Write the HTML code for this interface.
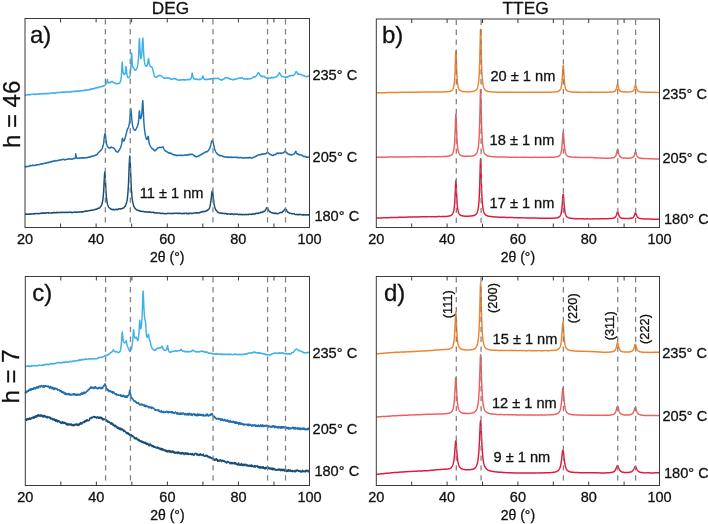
<!DOCTYPE html>
<html><head><meta charset="utf-8"><style>
html,body{margin:0;padding:0;background:#fff;width:708px;height:524px;overflow:hidden}
text{font-family:"Liberation Sans", sans-serif;fill:#111;stroke:#111;stroke-width:0.3}
</style></head><body>
<svg width="708" height="524" viewBox="0 0 708 524" style="display:block;will-change:transform"><rect width="708" height="524" fill="#fff"/><path d="M25.00,94.78 L25.25,95.08 L25.50,95.17 L25.75,94.90 L26.00,94.90 L26.25,94.87 L26.50,94.96 L26.75,95.08 L27.00,94.71 L27.25,94.48 L27.50,94.84 L27.75,94.77 L28.00,94.92 L28.25,94.53 L28.50,94.59 L28.75,94.78 L29.00,94.57 L29.25,94.89 L29.50,95.01 L29.75,94.54 L30.00,94.29 L30.25,94.46 L30.50,94.78 L30.75,94.60 L31.00,94.40 L31.25,94.41 L31.50,94.17 L31.75,94.16 L32.00,94.27 L32.25,94.35 L32.50,94.23 L32.75,94.16 L33.00,94.10 L33.25,94.21 L33.50,94.15 L33.75,93.96 L34.00,94.34 L34.25,94.35 L34.50,94.40 L34.75,94.14 L35.00,94.48 L35.25,94.57 L35.50,94.16 L35.75,94.07 L36.00,94.25 L36.25,94.33 L36.50,94.49 L36.75,94.25 L37.00,94.37 L37.25,94.33 L37.50,94.07 L37.75,94.11 L38.00,94.30 L38.25,94.36 L38.50,94.18 L38.75,94.13 L39.00,93.76 L39.25,93.69 L39.50,93.98 L39.75,93.89 L40.00,93.69 L40.25,93.81 L40.50,93.95 L40.75,94.00 L41.00,93.83 L41.25,93.78 L41.50,93.78 L41.75,93.94 L42.00,93.86 L42.25,93.73 L42.50,93.72 L42.75,93.43 L43.00,93.28 L43.25,93.60 L43.50,93.92 L43.75,93.83 L44.00,93.66 L44.25,93.44 L44.50,93.52 L44.75,93.84 L45.00,93.86 L45.25,93.73 L45.50,93.84 L45.75,93.52 L46.00,93.52 L46.25,93.77 L46.50,93.67 L46.75,93.54 L47.00,93.35 L47.25,93.42 L47.50,93.69 L47.75,93.24 L48.00,93.48 L48.25,93.62 L48.50,93.71 L48.75,93.67 L49.00,93.68 L49.25,93.50 L49.50,93.43 L49.75,93.31 L50.00,93.02 L50.25,93.35 L50.50,93.33 L50.75,93.09 L51.00,93.15 L51.25,93.16 L51.50,93.08 L51.75,93.02 L52.00,93.10 L52.25,93.18 L52.50,93.21 L52.75,93.13 L53.00,92.82 L53.25,92.77 L53.50,92.71 L53.75,92.92 L54.00,93.18 L54.25,93.27 L54.50,93.30 L54.75,93.32 L55.00,92.98 L55.25,93.16 L55.50,93.14 L55.75,92.77 L56.00,92.53 L56.25,92.40 L56.50,92.77 L56.75,92.65 L57.00,92.49 L57.25,92.71 L57.50,92.65 L57.75,92.44 L58.00,92.38 L58.25,92.57 L58.50,92.43 L58.75,92.42 L59.00,92.67 L59.25,92.62 L59.50,92.52 L59.75,92.54 L60.00,92.28 L60.25,92.35 L60.50,92.40 L60.75,92.27 L61.00,92.15 L61.25,92.56 L61.50,92.52 L61.75,92.31 L62.00,92.43 L62.25,92.61 L62.50,92.21 L62.75,92.00 L63.00,91.96 L63.25,92.27 L63.50,92.09 L63.75,92.31 L64.00,92.40 L64.25,92.35 L64.50,92.12 L64.75,92.45 L65.00,92.50 L65.25,92.34 L65.50,92.08 L65.75,92.19 L66.00,92.09 L66.25,92.13 L66.50,91.99 L66.75,92.10 L67.00,91.80 L67.25,91.78 L67.50,92.17 L67.75,92.29 L68.00,92.00 L68.25,92.18 L68.50,91.93 L68.75,92.17 L69.00,92.16 L69.25,91.95 L69.50,91.74 L69.75,91.48 L70.00,91.85 L70.25,91.53 L70.50,91.83 L70.75,92.05 L71.00,91.91 L71.25,91.60 L71.50,91.84 L71.75,92.02 L72.00,91.94 L72.25,91.77 L72.50,91.59 L72.75,91.47 L73.00,91.32 L73.25,91.51 L73.50,91.45 L73.75,91.27 L74.00,91.11 L74.25,91.35 L74.50,91.24 L74.75,91.30 L75.00,91.21 L75.25,91.48 L75.50,91.62 L75.75,91.15 L76.00,91.01 L76.25,91.01 L76.50,91.39 L76.75,91.44 L77.00,91.19 L77.25,90.98 L77.50,91.13 L77.75,91.30 L78.00,91.42 L78.25,91.12 L78.50,91.28 L78.75,91.22 L79.00,91.06 L79.25,91.27 L79.50,90.91 L79.75,91.01 L80.00,90.66 L80.25,90.52 L80.50,90.88 L80.75,90.63 L81.00,90.82 L81.25,90.80 L81.50,90.92 L81.75,90.69 L82.00,90.54 L82.25,90.42 L82.50,90.69 L82.75,90.65 L83.00,90.82 L83.25,90.86 L83.50,90.40 L83.75,90.41 L84.00,90.13 L84.25,89.94 L84.50,89.84 L84.75,90.26 L85.00,90.40 L85.25,90.48 L85.50,90.21 L85.75,90.22 L86.00,90.31 L86.25,90.09 L86.50,90.08 L86.75,89.85 L87.00,89.63 L87.25,89.62 L87.50,89.97 L87.75,89.93 L88.00,90.10 L88.25,89.89 L88.50,89.66 L88.75,89.83 L89.00,89.92 L89.25,89.46 L89.50,89.60 L89.75,89.31 L90.00,89.15 L90.25,89.52 L90.50,89.17 L90.75,89.09 L91.00,89.47 L91.25,89.30 L91.50,89.00 L91.75,88.86 L92.00,88.80 L92.25,89.04 L92.50,88.75 L92.75,89.06 L93.00,88.86 L93.25,89.08 L93.50,89.13 L93.75,88.75 L94.00,88.50 L94.25,88.47 L94.50,88.20 L94.75,88.36 L95.00,88.04 L95.25,87.82 L95.50,88.26 L95.75,88.03 L96.00,88.06 L96.25,87.96 L96.50,87.78 L96.75,87.51 L97.00,87.85 L97.25,88.02 L97.50,88.06 L97.75,87.54 L98.00,87.30 L98.25,87.39 L98.50,87.62 L98.75,87.43 L99.00,87.40 L99.25,87.33 L99.50,87.02 L99.75,87.00 L100.00,86.82 L100.25,86.67 L100.50,86.46 L100.75,86.44 L101.00,86.82 L101.25,86.66 L101.50,86.66 L101.75,86.63 L102.00,86.75 L102.25,86.45 L102.50,86.21 L102.75,86.06 L103.00,85.94 L103.25,86.16 L103.50,86.25 L103.75,85.89 L104.00,85.68 L104.25,85.64 L104.50,85.59 L104.75,85.50 L105.00,85.17 L105.25,84.78 L105.50,84.60 L105.75,84.28 L106.00,84.25 L106.25,83.71 L106.50,83.10 L106.75,82.57 L107.00,81.19 L107.25,79.78 L107.50,79.36 L107.75,80.84 L108.00,81.65 L108.25,82.30 L108.50,82.77 L108.75,82.54 L109.00,82.91 L109.25,82.58 L109.50,82.72 L109.75,82.84 L110.00,82.73 L110.25,82.29 L110.50,81.86 L110.75,81.83 L111.00,81.99 L111.25,81.65 L111.50,81.80 L111.75,81.42 L112.00,81.70 L112.25,81.35 L112.50,81.41 L112.75,81.87 L113.00,82.14 L113.25,82.43 L113.50,82.65 L113.75,82.80 L114.00,82.93 L114.25,82.78 L114.50,82.92 L114.75,82.88 L115.00,83.21 L115.25,83.37 L115.50,83.23 L115.75,83.07 L116.00,83.56 L116.25,83.73 L116.50,83.68 L116.75,83.67 L117.00,83.86 L117.25,83.73 L117.50,83.63 L117.75,83.55 L118.00,83.46 L118.25,83.25 L118.50,83.51 L118.75,83.46 L119.00,83.48 L119.25,83.13 L119.50,83.04 L119.75,82.74 L120.00,82.31 L120.25,81.81 L120.50,81.41 L120.75,80.30 L121.00,78.84 L121.25,76.92 L121.50,73.75 L121.75,69.14 L122.00,64.17 L122.25,62.02 L122.50,64.93 L122.75,68.79 L123.00,71.58 L123.25,73.16 L123.50,73.71 L123.75,74.15 L124.00,74.37 L124.25,74.34 L124.50,74.35 L124.75,74.26 L125.00,74.07 L125.25,73.33 L125.50,71.45 L125.75,69.12 L126.00,66.59 L126.25,66.97 L126.50,69.96 L126.75,72.89 L127.00,74.38 L127.25,75.73 L127.50,76.65 L127.75,76.89 L128.00,77.32 L128.25,77.66 L128.50,77.55 L128.75,77.64 L129.00,77.56 L129.25,77.19 L129.50,76.83 L129.75,76.22 L130.00,75.38 L130.25,73.93 L130.50,71.84 L130.75,69.13 L131.00,65.03 L131.25,59.19 L131.50,53.34 L131.75,53.17 L132.00,58.62 L132.25,63.17 L132.50,65.54 L132.75,66.88 L133.00,67.36 L133.25,67.96 L133.50,67.88 L133.75,68.46 L134.00,68.75 L134.25,69.00 L134.50,69.15 L134.75,69.82 L135.00,70.31 L135.25,70.08 L135.50,70.21 L135.75,70.14 L136.00,69.78 L136.25,69.37 L136.50,68.72 L136.75,68.38 L137.00,67.89 L137.25,66.90 L137.50,66.16 L137.75,64.87 L138.00,63.05 L138.25,60.75 L138.50,57.24 L138.75,52.64 L139.00,46.14 L139.25,39.43 L139.50,38.50 L139.75,43.45 L140.00,49.50 L140.25,54.11 L140.50,56.86 L140.75,58.53 L141.00,58.56 L141.25,57.97 L141.50,56.65 L141.75,53.97 L142.00,50.54 L142.25,45.82 L142.50,41.04 L142.75,37.99 L143.00,39.35 L143.25,44.18 L143.50,49.49 L143.75,54.21 L144.00,57.52 L144.25,60.20 L144.50,62.15 L144.75,63.53 L145.00,64.62 L145.25,65.12 L145.50,65.49 L145.75,66.00 L146.00,66.26 L146.25,66.28 L146.50,66.13 L146.75,65.87 L147.00,65.43 L147.25,65.28 L147.50,64.24 L147.75,63.23 L148.00,61.37 L148.25,59.48 L148.50,58.41 L148.75,59.62 L149.00,61.34 L149.25,63.21 L149.50,64.55 L149.75,65.26 L150.00,65.86 L150.25,66.18 L150.50,66.51 L150.75,66.41 L151.00,66.68 L151.25,66.85 L151.50,66.89 L151.75,67.00 L152.00,67.36 L152.25,67.82 L152.50,68.42 L152.75,69.39 L153.00,70.31 L153.25,71.28 L153.50,72.22 L153.75,73.36 L154.00,74.52 L154.25,75.53 L154.50,76.09 L154.75,76.22 L155.00,76.69 L155.25,76.70 L155.50,77.01 L155.75,76.96 L156.00,77.16 L156.25,77.39 L156.50,77.06 L156.75,76.76 L157.00,76.81 L157.25,76.70 L157.50,76.46 L157.75,76.03 L158.00,75.95 L158.25,75.84 L158.50,75.69 L158.75,75.81 L159.00,75.63 L159.25,75.58 L159.50,75.62 L159.75,75.54 L160.00,75.36 L160.25,75.45 L160.50,75.49 L160.75,75.58 L161.00,75.69 L161.25,75.71 L161.50,75.95 L161.75,76.18 L162.00,76.59 L162.25,76.82 L162.50,77.08 L162.75,77.28 L163.00,77.51 L163.25,77.60 L163.50,77.58 L163.75,77.60 L164.00,77.95 L164.25,78.27 L164.50,78.27 L164.75,78.04 L165.00,78.33 L165.25,78.26 L165.50,78.20 L165.75,77.90 L166.00,78.02 L166.25,78.21 L166.50,78.09 L166.75,77.98 L167.00,78.09 L167.25,77.75 L167.50,77.85 L167.75,78.16 L168.00,78.15 L168.25,77.96 L168.50,78.04 L168.75,78.03 L169.00,77.82 L169.25,77.82 L169.50,78.35 L169.75,78.38 L170.00,78.40 L170.25,78.99 L170.50,79.19 L170.75,79.25 L171.00,79.37 L171.25,79.53 L171.50,79.23 L171.75,79.32 L172.00,79.36 L172.25,79.38 L172.50,79.01 L172.75,78.97 L173.00,78.67 L173.25,78.67 L173.50,78.41 L173.75,78.62 L174.00,78.76 L174.25,78.53 L174.50,78.37 L174.75,78.76 L175.00,78.85 L175.25,79.03 L175.50,78.68 L175.75,79.09 L176.00,79.19 L176.25,79.12 L176.50,79.22 L176.75,79.53 L177.00,79.76 L177.25,79.57 L177.50,79.78 L177.75,79.65 L178.00,80.10 L178.25,80.02 L178.50,80.27 L178.75,80.28 L179.00,80.20 L179.25,79.96 L179.50,79.99 L179.75,79.78 L180.00,79.67 L180.25,79.96 L180.50,79.89 L180.75,80.08 L181.00,79.87 L181.25,80.05 L181.50,80.14 L181.75,79.93 L182.00,79.71 L182.25,79.76 L182.50,79.85 L182.75,79.65 L183.00,79.60 L183.25,79.49 L183.50,79.76 L183.75,80.06 L184.00,79.81 L184.25,79.57 L184.50,79.84 L184.75,80.04 L185.00,80.23 L185.25,80.10 L185.50,79.87 L185.75,80.05 L186.00,79.70 L186.25,79.86 L186.50,79.58 L186.75,79.61 L187.00,79.68 L187.25,79.63 L187.50,79.47 L187.75,79.42 L188.00,79.74 L188.25,79.67 L188.50,79.69 L188.75,79.46 L189.00,79.62 L189.25,79.44 L189.50,79.47 L189.75,79.64 L190.00,79.71 L190.25,79.09 L190.50,79.13 L190.75,79.01 L191.00,78.38 L191.25,77.70 L191.50,76.81 L191.75,75.55 L192.00,73.57 L192.25,73.11 L192.50,74.45 L192.75,75.84 L193.00,77.37 L193.25,77.74 L193.50,78.10 L193.75,78.65 L194.00,78.61 L194.25,78.82 L194.50,78.80 L194.75,79.01 L195.00,79.36 L195.25,79.59 L195.50,79.19 L195.75,79.01 L196.00,79.40 L196.25,79.12 L196.50,79.12 L196.75,79.03 L197.00,78.97 L197.25,78.91 L197.50,79.25 L197.75,79.48 L198.00,79.56 L198.25,79.70 L198.50,79.65 L198.75,79.46 L199.00,79.51 L199.25,79.73 L199.50,79.64 L199.75,79.35 L200.00,79.08 L200.25,79.45 L200.50,79.41 L200.75,79.22 L201.00,79.23 L201.25,79.15 L201.50,79.00 L201.75,78.50 L202.00,78.19 L202.25,77.70 L202.50,76.75 L202.75,76.21 L203.00,76.00 L203.25,76.92 L203.50,77.89 L203.75,78.56 L204.00,78.95 L204.25,79.21 L204.50,79.07 L204.75,79.46 L205.00,79.19 L205.25,79.52 L205.50,79.67 L205.75,79.75 L206.00,79.32 L206.25,79.13 L206.50,79.47 L206.75,79.43 L207.00,79.35 L207.25,79.67 L207.50,79.25 L207.75,79.33 L208.00,79.30 L208.25,79.09 L208.50,79.12 L208.75,79.31 L209.00,79.50 L209.25,79.05 L209.50,79.11 L209.75,78.86 L210.00,79.14 L210.25,78.83 L210.50,78.63 L210.75,78.71 L211.00,78.94 L211.25,78.78 L211.50,78.57 L211.75,78.84 L212.00,78.96 L212.25,79.03 L212.50,78.71 L212.75,78.60 L213.00,78.42 L213.25,78.49 L213.50,78.38 L213.75,78.30 L214.00,78.52 L214.25,78.71 L214.50,78.57 L214.75,78.20 L215.00,78.33 L215.25,78.26 L215.50,78.54 L215.75,78.51 L216.00,78.56 L216.25,78.50 L216.50,78.37 L216.75,78.52 L217.00,78.56 L217.25,78.28 L217.50,78.11 L217.75,78.20 L218.00,78.39 L218.25,78.30 L218.50,78.47 L218.75,78.77 L219.00,78.67 L219.25,79.16 L219.50,79.38 L219.75,79.36 L220.00,79.40 L220.25,79.51 L220.50,79.60 L220.75,79.93 L221.00,79.97 L221.25,80.01 L221.50,79.80 L221.75,80.13 L222.00,79.89 L222.25,79.70 L222.50,79.37 L222.75,79.66 L223.00,79.40 L223.25,79.43 L223.50,79.35 L223.75,79.22 L224.00,78.96 L224.25,78.79 L224.50,78.61 L224.75,78.37 L225.00,77.77 L225.25,77.64 L225.50,77.57 L225.75,77.76 L226.00,77.73 L226.25,77.69 L226.50,77.72 L226.75,77.54 L227.00,77.83 L227.25,77.85 L227.50,77.77 L227.75,77.82 L228.00,78.22 L228.25,78.22 L228.50,78.07 L228.75,78.06 L229.00,78.44 L229.25,78.63 L229.50,79.01 L229.75,78.83 L230.00,78.94 L230.25,79.24 L230.50,79.04 L230.75,79.02 L231.00,79.32 L231.25,79.34 L231.50,79.27 L231.75,79.35 L232.00,79.61 L232.25,79.68 L232.50,79.43 L232.75,79.28 L233.00,79.66 L233.25,79.70 L233.50,79.41 L233.75,79.65 L234.00,79.23 L234.25,79.19 L234.50,79.42 L234.75,79.41 L235.00,79.11 L235.25,79.28 L235.50,79.14 L235.75,79.19 L236.00,79.19 L236.25,78.86 L236.50,78.81 L236.75,78.66 L237.00,78.78 L237.25,78.72 L237.50,78.60 L237.75,78.57 L238.00,78.63 L238.25,78.19 L238.50,77.91 L238.75,78.08 L239.00,78.16 L239.25,78.04 L239.50,77.96 L239.75,77.87 L240.00,78.11 L240.25,78.20 L240.50,78.13 L240.75,77.78 L241.00,78.12 L241.25,78.07 L241.50,77.91 L241.75,77.92 L242.00,78.20 L242.25,77.95 L242.50,77.92 L242.75,78.05 L243.00,78.50 L243.25,78.67 L243.50,78.91 L243.75,78.81 L244.00,78.80 L244.25,78.81 L244.50,78.82 L244.75,78.85 L245.00,79.05 L245.25,79.24 L245.50,79.02 L245.75,79.04 L246.00,78.86 L246.25,78.76 L246.50,78.83 L246.75,78.90 L247.00,78.91 L247.25,79.16 L247.50,78.79 L247.75,78.87 L248.00,79.12 L248.25,79.07 L248.50,78.93 L248.75,78.72 L249.00,78.62 L249.25,78.87 L249.50,78.95 L249.75,78.84 L250.00,78.89 L250.25,78.91 L250.50,78.85 L250.75,78.51 L251.00,78.37 L251.25,78.46 L251.50,78.23 L251.75,78.28 L252.00,78.07 L252.25,77.80 L252.50,77.66 L252.75,77.33 L253.00,77.28 L253.25,77.27 L253.50,76.98 L253.75,76.89 L254.00,76.85 L254.25,77.14 L254.50,77.07 L254.75,76.79 L255.00,77.01 L255.25,76.60 L255.50,76.46 L255.75,76.43 L256.00,76.26 L256.25,75.88 L256.50,75.72 L256.75,75.27 L257.00,74.95 L257.25,74.40 L257.50,74.16 L257.75,73.66 L258.00,72.90 L258.25,72.54 L258.50,73.00 L258.75,73.02 L259.00,73.17 L259.25,73.63 L259.50,74.19 L259.75,74.93 L260.00,75.09 L260.25,75.48 L260.50,75.82 L260.75,75.61 L261.00,75.87 L261.25,76.28 L261.50,76.25 L261.75,76.26 L262.00,76.18 L262.25,76.52 L262.50,76.73 L262.75,76.33 L263.00,76.41 L263.25,76.38 L263.50,76.54 L263.75,76.29 L264.00,76.27 L264.25,76.29 L264.50,76.49 L264.75,76.85 L265.00,77.14 L265.25,77.34 L265.50,77.46 L265.75,77.26 L266.00,77.43 L266.25,77.76 L266.50,77.77 L266.75,77.96 L267.00,78.33 L267.25,78.05 L267.50,78.35 L267.75,78.04 L268.00,78.04 L268.25,78.35 L268.50,78.07 L268.75,78.11 L269.00,78.05 L269.25,78.28 L269.50,78.45 L269.75,78.09 L270.00,78.01 L270.25,78.19 L270.50,78.05 L270.75,77.76 L271.00,77.91 L271.25,77.72 L271.50,77.69 L271.75,77.36 L272.00,77.77 L272.25,77.75 L272.50,77.89 L272.75,77.96 L273.00,77.56 L273.25,77.51 L273.50,77.41 L273.75,77.54 L274.00,77.64 L274.25,77.30 L274.50,77.14 L274.75,77.30 L275.00,77.17 L275.25,76.91 L275.50,76.78 L275.75,76.90 L276.00,76.93 L276.25,77.10 L276.50,76.86 L276.75,76.71 L277.00,76.25 L277.25,76.05 L277.50,75.72 L277.75,75.61 L278.00,75.07 L278.25,74.50 L278.50,74.01 L278.75,73.54 L279.00,73.01 L279.25,72.84 L279.50,72.62 L279.75,73.19 L280.00,73.69 L280.25,74.15 L280.50,74.35 L280.75,74.81 L281.00,75.42 L281.25,75.83 L281.50,76.23 L281.75,76.55 L282.00,76.44 L282.25,76.54 L282.50,76.53 L282.75,76.45 L283.00,76.44 L283.25,76.54 L283.50,76.50 L283.75,76.78 L284.00,77.03 L284.25,77.10 L284.50,77.25 L284.75,77.08 L285.00,77.02 L285.25,77.24 L285.50,77.56 L285.75,77.45 L286.00,77.13 L286.25,76.96 L286.50,77.01 L286.75,77.18 L287.00,76.89 L287.25,76.78 L287.50,76.94 L287.75,77.14 L288.00,76.79 L288.25,76.71 L288.50,76.56 L288.75,76.12 L289.00,76.04 L289.25,75.84 L289.50,75.76 L289.75,76.01 L290.00,76.06 L290.25,75.69 L290.50,75.53 L290.75,75.84 L291.00,75.61 L291.25,75.62 L291.50,75.59 L291.75,75.43 L292.00,75.32 L292.25,75.30 L292.50,75.42 L292.75,75.76 L293.00,75.70 L293.25,75.37 L293.50,75.40 L293.75,75.08 L294.00,74.95 L294.25,74.64 L294.50,74.68 L294.75,74.13 L295.00,73.86 L295.25,73.32 L295.50,72.82 L295.75,72.13 L296.00,71.79 L296.25,71.40 L296.50,71.65 L296.75,72.07 L297.00,72.53 L297.25,73.01 L297.50,73.39 L297.75,73.60 L298.00,74.10 L298.25,74.24 L298.50,74.31 L298.75,74.07 L299.00,74.25 L299.25,74.16 L299.50,74.15 L299.75,74.29 L300.00,74.44 L300.25,74.35 L300.50,74.32 L300.75,74.48 L301.00,74.54 L301.25,74.55 L301.50,74.42 L301.75,74.58 L302.00,74.88 L302.25,75.04 L302.50,75.18 L302.75,75.50 L303.00,75.66 L303.25,75.78 L303.50,75.50 L303.75,75.58 L304.00,75.88 L304.25,75.74 L304.50,76.17 L304.75,75.96 L305.00,76.33 L305.25,76.16 L305.50,76.48 L305.75,76.67 L306.00,76.49 L306.25,76.75 L306.50,76.46 L306.75,76.74 L307.00,76.61 L307.25,76.57 L307.50,76.32 L307.75,76.43 L308.00,76.22 L308.25,76.27 L308.50,76.29 L308.75,76.10 L309.00,75.56 L309.25,75.79 L309.50,75.83" fill="none" stroke="#3fb0ea" stroke-width="1.45" stroke-linejoin="round"/><path d="M25.00,167.07 L25.25,167.16 L25.50,166.65 L25.75,166.39 L26.00,166.68 L26.25,166.75 L26.50,166.72 L26.75,166.47 L27.00,166.50 L27.25,166.50 L27.50,166.46 L27.75,166.16 L28.00,166.15 L28.25,166.11 L28.50,166.26 L28.75,166.48 L29.00,166.54 L29.25,166.30 L29.50,166.10 L29.75,165.88 L30.00,165.60 L30.25,165.44 L30.50,165.60 L30.75,165.57 L31.00,165.57 L31.25,165.85 L31.50,165.76 L31.75,165.71 L32.00,165.46 L32.25,165.19 L32.50,165.22 L32.75,165.10 L33.00,165.24 L33.25,165.58 L33.50,165.53 L33.75,165.19 L34.00,165.43 L34.25,165.47 L34.50,165.43 L34.75,165.49 L35.00,165.41 L35.25,165.37 L35.50,165.06 L35.75,165.26 L36.00,165.33 L36.25,164.86 L36.50,164.96 L36.75,164.97 L37.00,164.79 L37.25,164.73 L37.50,164.65 L37.75,164.85 L38.00,164.67 L38.25,164.76 L38.50,164.49 L38.75,164.65 L39.00,164.72 L39.25,164.47 L39.50,164.39 L39.75,164.53 L40.00,164.46 L40.25,164.27 L40.50,163.98 L40.75,163.88 L41.00,164.03 L41.25,163.77 L41.50,164.05 L41.75,163.79 L42.00,164.02 L42.25,163.75 L42.50,163.98 L42.75,163.93 L43.00,163.75 L43.25,163.65 L43.50,163.65 L43.75,163.59 L44.00,163.37 L44.25,163.17 L44.50,163.23 L44.75,163.49 L45.00,163.40 L45.25,163.00 L45.50,163.22 L45.75,163.25 L46.00,163.35 L46.25,162.94 L46.50,163.04 L46.75,162.65 L47.00,162.78 L47.25,162.59 L47.50,162.44 L47.75,162.72 L48.00,162.38 L48.25,162.42 L48.50,162.62 L48.75,162.32 L49.00,162.12 L49.25,162.40 L49.50,162.23 L49.75,162.29 L50.00,161.89 L50.25,161.85 L50.50,161.69 L50.75,161.88 L51.00,161.59 L51.25,161.94 L51.50,161.53 L51.75,161.72 L52.00,161.36 L52.25,161.29 L52.50,161.57 L52.75,161.28 L53.00,161.13 L53.25,161.33 L53.50,161.21 L53.75,160.93 L54.00,161.32 L54.25,160.99 L54.50,160.73 L54.75,160.76 L55.00,160.91 L55.25,161.03 L55.50,160.69 L55.75,160.63 L56.00,160.39 L56.25,160.50 L56.50,160.72 L56.75,160.79 L57.00,160.90 L57.25,160.84 L57.50,160.85 L57.75,160.74 L58.00,160.53 L58.25,160.25 L58.50,160.35 L58.75,160.18 L59.00,159.94 L59.25,160.01 L59.50,160.28 L59.75,159.95 L60.00,160.04 L60.25,159.96 L60.50,159.97 L60.75,159.74 L61.00,160.10 L61.25,159.84 L61.50,159.91 L61.75,159.82 L62.00,159.51 L62.25,159.67 L62.50,159.49 L62.75,159.34 L63.00,159.23 L63.25,159.24 L63.50,159.20 L63.75,159.49 L64.00,159.54 L64.25,159.85 L64.50,159.96 L64.75,160.04 L65.00,159.61 L65.25,159.51 L65.50,159.34 L65.75,159.44 L66.00,159.50 L66.25,159.63 L66.50,159.63 L66.75,159.35 L67.00,159.30 L67.25,159.32 L67.50,159.01 L67.75,158.87 L68.00,159.01 L68.25,158.89 L68.50,159.19 L68.75,159.04 L69.00,158.87 L69.25,158.83 L69.50,158.82 L69.75,158.80 L70.00,158.97 L70.25,159.00 L70.50,158.92 L70.75,159.07 L71.00,158.87 L71.25,159.18 L71.50,159.36 L71.75,159.29 L72.00,159.07 L72.25,158.99 L72.50,158.98 L72.75,158.65 L73.00,158.68 L73.25,158.75 L73.50,158.55 L73.75,158.38 L74.00,158.68 L74.25,158.53 L74.50,158.49 L74.75,158.60 L75.00,158.29 L75.25,157.51 L75.50,156.42 L75.75,153.80 L76.00,154.88 L76.25,157.03 L76.50,157.55 L76.75,157.86 L77.00,158.32 L77.25,158.45 L77.50,158.12 L77.75,158.21 L78.00,158.23 L78.25,158.28 L78.50,158.13 L78.75,158.27 L79.00,158.03 L79.25,158.02 L79.50,158.06 L79.75,158.41 L80.00,158.06 L80.25,158.28 L80.50,158.04 L80.75,158.14 L81.00,158.06 L81.25,158.06 L81.50,158.22 L81.75,158.07 L82.00,157.82 L82.25,157.68 L82.50,157.58 L82.75,157.97 L83.00,158.03 L83.25,158.24 L83.50,158.17 L83.75,157.72 L84.00,157.86 L84.25,157.98 L84.50,158.00 L84.75,157.86 L85.00,157.68 L85.25,157.64 L85.50,157.81 L85.75,157.56 L86.00,157.57 L86.25,157.53 L86.50,157.78 L86.75,157.79 L87.00,157.86 L87.25,157.81 L87.50,157.45 L87.75,157.21 L88.00,157.22 L88.25,157.06 L88.50,157.07 L88.75,157.20 L89.00,157.38 L89.25,157.25 L89.50,157.30 L89.75,156.87 L90.00,156.78 L90.25,157.09 L90.50,156.71 L90.75,156.65 L91.00,156.38 L91.25,156.23 L91.50,156.60 L91.75,156.81 L92.00,156.68 L92.25,156.26 L92.50,156.12 L92.75,155.97 L93.00,156.11 L93.25,156.15 L93.50,155.98 L93.75,155.90 L94.00,155.57 L94.25,155.61 L94.50,155.83 L94.75,155.77 L95.00,155.29 L95.25,155.25 L95.50,155.29 L95.75,154.98 L96.00,155.14 L96.25,154.89 L96.50,154.82 L96.75,154.51 L97.00,154.59 L97.25,154.38 L97.50,154.02 L97.75,153.45 L98.00,153.20 L98.25,152.69 L98.50,152.63 L98.75,152.63 L99.00,152.06 L99.25,151.83 L99.50,151.56 L99.75,151.24 L100.00,151.12 L100.25,151.07 L100.50,150.78 L100.75,150.37 L101.00,150.32 L101.25,149.76 L101.50,149.55 L101.75,149.19 L102.00,148.83 L102.25,148.42 L102.50,147.51 L102.75,146.87 L103.00,145.92 L103.25,144.97 L103.50,143.90 L103.75,142.21 L104.00,139.88 L104.25,137.81 L104.50,135.87 L104.75,134.42 L105.00,133.72 L105.25,134.36 L105.50,135.47 L105.75,137.82 L106.00,139.90 L106.25,141.65 L106.50,143.30 L106.75,144.56 L107.00,145.07 L107.25,146.02 L107.50,146.67 L107.75,146.82 L108.00,147.34 L108.25,147.61 L108.50,147.57 L108.75,147.97 L109.00,147.81 L109.25,148.02 L109.50,148.00 L109.75,147.84 L110.00,147.90 L110.25,147.81 L110.50,147.54 L110.75,147.81 L111.00,147.35 L111.25,147.04 L111.50,147.14 L111.75,147.40 L112.00,147.44 L112.25,147.55 L112.50,147.52 L112.75,147.69 L113.00,147.66 L113.25,147.71 L113.50,147.98 L113.75,147.94 L114.00,148.06 L114.25,148.62 L114.50,148.66 L114.75,149.20 L115.00,149.68 L115.25,149.91 L115.50,150.40 L115.75,150.92 L116.00,151.43 L116.25,151.41 L116.50,151.56 L116.75,151.86 L117.00,152.11 L117.25,152.12 L117.50,151.88 L117.75,151.97 L118.00,152.12 L118.25,151.66 L118.50,151.33 L118.75,150.86 L119.00,150.42 L119.25,150.22 L119.50,149.54 L119.75,149.15 L120.00,148.62 L120.25,148.14 L120.50,147.85 L120.75,146.89 L121.00,146.46 L121.25,145.45 L121.50,144.48 L121.75,143.14 L122.00,141.07 L122.25,138.73 L122.50,138.21 L122.75,138.91 L123.00,140.22 L123.25,140.77 L123.50,140.98 L123.75,141.08 L124.00,140.86 L124.25,140.40 L124.50,139.70 L124.75,138.99 L125.00,138.34 L125.25,137.39 L125.50,136.43 L125.75,135.83 L126.00,134.49 L126.25,133.73 L126.50,132.60 L126.75,131.58 L127.00,130.64 L127.25,129.70 L127.50,129.19 L127.75,128.59 L128.00,128.27 L128.25,127.71 L128.50,127.39 L128.75,126.73 L129.00,125.44 L129.25,124.03 L129.50,122.34 L129.75,119.65 L130.00,116.39 L130.25,113.00 L130.50,109.96 L130.75,108.69 L131.00,109.34 L131.25,111.87 L131.50,115.45 L131.75,118.44 L132.00,121.35 L132.25,123.47 L132.50,124.95 L132.75,126.37 L133.00,127.12 L133.25,128.08 L133.50,128.80 L133.75,129.07 L134.00,129.45 L134.25,129.90 L134.50,130.09 L134.75,130.25 L135.00,130.36 L135.25,130.35 L135.50,130.07 L135.75,129.88 L136.00,129.14 L136.25,128.73 L136.50,128.30 L136.75,127.64 L137.00,127.06 L137.25,126.38 L137.50,126.20 L137.75,125.33 L138.00,124.42 L138.25,123.48 L138.50,121.53 L138.75,119.42 L139.00,115.63 L139.25,111.72 L139.50,110.88 L139.75,113.28 L140.00,116.22 L140.25,117.92 L140.50,118.60 L140.75,118.48 L141.00,118.08 L141.25,117.13 L141.50,116.18 L141.75,114.17 L142.00,111.18 L142.25,107.32 L142.50,102.69 L142.75,100.41 L143.00,103.18 L143.25,108.67 L143.50,114.70 L143.75,119.75 L144.00,123.68 L144.25,126.84 L144.50,129.24 L144.75,131.29 L145.00,132.96 L145.25,134.41 L145.50,135.88 L145.75,136.90 L146.00,137.79 L146.25,138.71 L146.50,138.88 L146.75,139.05 L147.00,139.51 L147.25,139.24 L147.50,138.81 L147.75,137.44 L148.00,136.36 L148.25,136.50 L148.50,137.84 L148.75,140.09 L149.00,141.83 L149.25,142.99 L149.50,144.25 L149.75,144.77 L150.00,145.31 L150.25,145.87 L150.50,146.16 L150.75,146.78 L151.00,147.11 L151.25,147.41 L151.50,147.67 L151.75,148.20 L152.00,148.61 L152.25,148.86 L152.50,148.89 L152.75,149.01 L153.00,149.26 L153.25,149.21 L153.50,149.33 L153.75,150.02 L154.00,149.91 L154.25,150.41 L154.50,150.55 L154.75,150.79 L155.00,150.41 L155.25,150.34 L155.50,150.52 L155.75,150.03 L156.00,149.71 L156.25,149.56 L156.50,149.22 L156.75,148.88 L157.00,148.87 L157.25,148.37 L157.50,148.52 L157.75,148.30 L158.00,147.74 L158.25,147.93 L158.50,147.62 L158.75,147.60 L159.00,147.62 L159.25,147.36 L159.50,147.43 L159.75,147.18 L160.00,147.12 L160.25,147.51 L160.50,147.64 L160.75,147.51 L161.00,147.53 L161.25,147.65 L161.50,147.26 L161.75,147.28 L162.00,147.07 L162.25,146.95 L162.50,146.89 L162.75,146.98 L163.00,147.06 L163.25,147.37 L163.50,147.81 L163.75,148.39 L164.00,149.04 L164.25,149.61 L164.50,149.99 L164.75,150.25 L165.00,150.79 L165.25,150.74 L165.50,150.77 L165.75,151.26 L166.00,151.47 L166.25,151.39 L166.50,151.52 L166.75,151.61 L167.00,151.79 L167.25,151.94 L167.50,152.05 L167.75,152.40 L168.00,152.63 L168.25,152.65 L168.50,152.65 L168.75,152.58 L169.00,152.89 L169.25,153.21 L169.50,152.97 L169.75,153.18 L170.00,153.32 L170.25,153.42 L170.50,153.14 L170.75,153.36 L171.00,153.31 L171.25,153.33 L171.50,153.63 L171.75,153.87 L172.00,154.04 L172.25,154.24 L172.50,154.38 L172.75,154.36 L173.00,154.15 L173.25,154.53 L173.50,154.80 L173.75,154.99 L174.00,154.99 L174.25,154.69 L174.50,154.68 L174.75,154.65 L175.00,154.99 L175.25,155.13 L175.50,155.00 L175.75,155.42 L176.00,155.65 L176.25,155.72 L176.50,155.49 L176.75,155.27 L177.00,155.11 L177.25,155.40 L177.50,155.47 L177.75,155.26 L178.00,155.52 L178.25,155.46 L178.50,155.33 L178.75,155.27 L179.00,155.42 L179.25,155.34 L179.50,155.42 L179.75,155.14 L180.00,155.34 L180.25,155.19 L180.50,155.50 L180.75,155.23 L181.00,155.17 L181.25,155.26 L181.50,155.22 L181.75,155.28 L182.00,155.55 L182.25,155.25 L182.50,155.44 L182.75,155.49 L183.00,155.57 L183.25,155.40 L183.50,155.33 L183.75,155.22 L184.00,155.24 L184.25,155.12 L184.50,155.02 L184.75,155.13 L185.00,155.00 L185.25,155.09 L185.50,155.19 L185.75,155.06 L186.00,154.90 L186.25,155.06 L186.50,155.27 L186.75,154.98 L187.00,155.04 L187.25,155.08 L187.50,155.21 L187.75,155.14 L188.00,154.85 L188.25,154.63 L188.50,154.87 L188.75,154.65 L189.00,154.35 L189.25,154.69 L189.50,154.44 L189.75,154.37 L190.00,154.33 L190.25,154.25 L190.50,154.48 L190.75,154.36 L191.00,154.35 L191.25,154.33 L191.50,154.56 L191.75,154.19 L192.00,154.36 L192.25,154.23 L192.50,154.22 L192.75,154.56 L193.00,154.67 L193.25,154.62 L193.50,154.99 L193.75,155.46 L194.00,155.62 L194.25,155.70 L194.50,156.01 L194.75,156.31 L195.00,156.08 L195.25,156.11 L195.50,156.58 L195.75,156.83 L196.00,156.55 L196.25,156.71 L196.50,156.89 L196.75,156.78 L197.00,156.77 L197.25,156.63 L197.50,156.34 L197.75,156.14 L198.00,155.90 L198.25,156.08 L198.50,155.80 L198.75,155.88 L199.00,155.72 L199.25,155.59 L199.50,155.78 L199.75,155.45 L200.00,155.26 L200.25,155.04 L200.50,154.75 L200.75,154.54 L201.00,154.54 L201.25,154.65 L201.50,154.19 L201.75,154.41 L202.00,154.29 L202.25,153.80 L202.50,153.88 L202.75,153.66 L203.00,153.53 L203.25,153.14 L203.50,153.11 L203.75,153.02 L204.00,153.06 L204.25,152.89 L204.50,152.82 L204.75,152.76 L205.00,152.38 L205.25,152.04 L205.50,152.11 L205.75,151.89 L206.00,151.74 L206.25,151.72 L206.50,151.78 L206.75,151.80 L207.00,151.76 L207.25,151.83 L207.50,151.27 L207.75,151.16 L208.00,150.71 L208.25,150.69 L208.50,150.38 L208.75,149.86 L209.00,149.49 L209.25,149.26 L209.50,148.74 L209.75,148.42 L210.00,147.52 L210.25,146.61 L210.50,146.01 L210.75,144.98 L211.00,143.60 L211.25,142.77 L211.50,141.63 L211.75,141.05 L212.00,140.42 L212.25,140.28 L212.50,140.57 L212.75,140.97 L213.00,142.05 L213.25,142.68 L213.50,143.83 L213.75,145.30 L214.00,146.09 L214.25,147.37 L214.50,148.64 L214.75,149.48 L215.00,150.31 L215.25,150.55 L215.50,151.20 L215.75,151.79 L216.00,152.18 L216.25,152.54 L216.50,153.11 L216.75,153.15 L217.00,153.24 L217.25,153.72 L217.50,154.30 L217.75,154.59 L218.00,154.74 L218.25,154.67 L218.50,155.07 L218.75,154.82 L219.00,154.88 L219.25,155.29 L219.50,155.61 L219.75,155.53 L220.00,155.84 L220.25,155.56 L220.50,155.75 L220.75,155.58 L221.00,155.63 L221.25,155.67 L221.50,155.61 L221.75,155.86 L222.00,156.08 L222.25,156.09 L222.50,156.35 L222.75,156.15 L223.00,156.36 L223.25,156.49 L223.50,156.52 L223.75,156.86 L224.00,156.59 L224.25,156.65 L224.50,156.73 L224.75,156.73 L225.00,157.12 L225.25,157.09 L225.50,157.06 L225.75,157.01 L226.00,157.00 L226.25,157.32 L226.50,157.40 L226.75,157.36 L227.00,157.06 L227.25,157.18 L227.50,156.96 L227.75,156.99 L228.00,156.82 L228.25,157.14 L228.50,157.47 L228.75,157.43 L229.00,157.37 L229.25,157.15 L229.50,157.16 L229.75,157.17 L230.00,157.16 L230.25,157.05 L230.50,156.97 L230.75,157.25 L231.00,157.51 L231.25,157.56 L231.50,157.46 L231.75,157.06 L232.00,157.02 L232.25,157.32 L232.50,157.55 L232.75,157.41 L233.00,157.35 L233.25,157.39 L233.50,157.14 L233.75,157.30 L234.00,157.17 L234.25,157.39 L234.50,157.27 L234.75,157.33 L235.00,157.30 L235.25,157.27 L235.50,157.21 L235.75,157.48 L236.00,157.50 L236.25,157.31 L236.50,157.27 L236.75,157.50 L237.00,157.53 L237.25,157.49 L237.50,157.67 L237.75,157.26 L238.00,157.35 L238.25,157.42 L238.50,157.37 L238.75,157.66 L239.00,157.81 L239.25,157.56 L239.50,157.58 L239.75,157.69 L240.00,157.71 L240.25,157.54 L240.50,157.72 L240.75,157.56 L241.00,157.36 L241.25,157.59 L241.50,157.70 L241.75,157.63 L242.00,157.65 L242.25,157.97 L242.50,158.03 L242.75,157.82 L243.00,158.03 L243.25,157.94 L243.50,157.80 L243.75,157.88 L244.00,158.00 L244.25,158.14 L244.50,158.07 L244.75,158.04 L245.00,157.86 L245.25,157.55 L245.50,157.65 L245.75,157.49 L246.00,157.91 L246.25,157.78 L246.50,157.85 L246.75,157.97 L247.00,157.69 L247.25,157.95 L247.50,157.77 L247.75,157.54 L248.00,157.73 L248.25,157.71 L248.50,158.01 L248.75,157.87 L249.00,157.59 L249.25,157.41 L249.50,157.32 L249.75,157.56 L250.00,157.81 L250.25,157.54 L250.50,157.57 L250.75,157.67 L251.00,157.97 L251.25,158.17 L251.50,158.21 L251.75,158.08 L252.00,157.96 L252.25,157.66 L252.50,157.71 L252.75,157.44 L253.00,157.34 L253.25,157.56 L253.50,157.46 L253.75,157.46 L254.00,157.24 L254.25,156.96 L254.50,156.89 L254.75,156.83 L255.00,156.54 L255.25,156.69 L255.50,156.78 L255.75,156.28 L256.00,156.00 L256.25,156.14 L256.50,156.09 L256.75,155.71 L257.00,155.67 L257.25,155.39 L257.50,155.57 L257.75,155.44 L258.00,155.29 L258.25,154.96 L258.50,154.91 L258.75,154.89 L259.00,154.79 L259.25,154.62 L259.50,154.51 L259.75,154.74 L260.00,154.96 L260.25,154.99 L260.50,154.85 L260.75,154.86 L261.00,154.45 L261.25,154.26 L261.50,154.45 L261.75,154.10 L262.00,153.95 L262.25,154.28 L262.50,154.07 L262.75,153.95 L263.00,153.99 L263.25,154.27 L263.50,153.89 L263.75,154.20 L264.00,154.00 L264.25,154.03 L264.50,153.96 L264.75,153.68 L265.00,154.00 L265.25,153.64 L265.50,153.78 L265.75,153.82 L266.00,153.50 L266.25,153.55 L266.50,152.93 L266.75,152.56 L267.00,152.49 L267.25,152.15 L267.50,152.42 L267.75,152.44 L268.00,152.72 L268.25,152.70 L268.50,152.69 L268.75,153.36 L269.00,153.42 L269.25,153.70 L269.50,153.77 L269.75,154.18 L270.00,154.39 L270.25,154.40 L270.50,154.37 L270.75,154.58 L271.00,155.00 L271.25,154.86 L271.50,154.87 L271.75,155.13 L272.00,155.29 L272.25,155.49 L272.50,155.50 L272.75,155.62 L273.00,155.23 L273.25,155.47 L273.50,155.00 L273.75,154.77 L274.00,154.59 L274.25,154.83 L274.50,154.72 L274.75,154.85 L275.00,154.87 L275.25,154.79 L275.50,154.47 L275.75,154.09 L276.00,154.19 L276.25,154.04 L276.50,153.59 L276.75,153.53 L277.00,153.13 L277.25,152.90 L277.50,153.13 L277.75,153.29 L278.00,153.45 L278.25,153.47 L278.50,153.11 L278.75,153.29 L279.00,153.52 L279.25,153.46 L279.50,153.31 L279.75,153.12 L280.00,152.89 L280.25,153.11 L280.50,153.42 L280.75,153.06 L281.00,153.30 L281.25,153.46 L281.50,153.20 L281.75,153.35 L282.00,152.99 L282.25,152.86 L282.50,152.93 L282.75,153.10 L283.00,152.93 L283.25,152.50 L283.50,152.72 L283.75,152.52 L284.00,152.44 L284.25,151.97 L284.50,151.71 L284.75,151.35 L285.00,151.20 L285.25,151.28 L285.50,151.37 L285.75,151.67 L286.00,152.07 L286.25,152.13 L286.50,152.67 L286.75,152.92 L287.00,152.99 L287.25,153.05 L287.50,153.64 L287.75,153.85 L288.00,153.66 L288.25,154.01 L288.50,154.07 L288.75,154.17 L289.00,154.47 L289.25,154.33 L289.50,154.32 L289.75,154.50 L290.00,154.83 L290.25,154.52 L290.50,154.82 L290.75,154.91 L291.00,154.63 L291.25,154.78 L291.50,154.83 L291.75,154.90 L292.00,154.82 L292.25,154.64 L292.50,154.64 L292.75,154.45 L293.00,154.46 L293.25,154.38 L293.50,154.11 L293.75,153.97 L294.00,153.86 L294.25,153.69 L294.50,153.51 L294.75,153.28 L295.00,152.57 L295.25,152.08 L295.50,151.53 L295.75,151.29 L296.00,151.46 L296.25,152.42 L296.50,153.17 L296.75,153.67 L297.00,153.65 L297.25,153.72 L297.50,153.80 L297.75,154.00 L298.00,154.22 L298.25,154.10 L298.50,154.32 L298.75,154.61 L299.00,154.86 L299.25,154.62 L299.50,154.41 L299.75,154.80 L300.00,154.78 L300.25,154.76 L300.50,154.69 L300.75,154.76 L301.00,154.83 L301.25,154.91 L301.50,154.98 L301.75,155.23 L302.00,155.58 L302.25,155.50 L302.50,155.58 L302.75,155.71 L303.00,156.04 L303.25,156.21 L303.50,156.48 L303.75,156.18 L304.00,156.46 L304.25,156.34 L304.50,156.49 L304.75,156.59 L305.00,156.71 L305.25,156.66 L305.50,156.52 L305.75,156.44 L306.00,156.99 L306.25,157.27 L306.50,157.17 L306.75,156.92 L307.00,157.26 L307.25,157.23 L307.50,157.20 L307.75,157.29 L308.00,157.02 L308.25,156.89 L308.50,157.14 L308.75,157.18 L309.00,157.31 L309.25,157.01 L309.50,157.16" fill="none" stroke="#1f6fb0" stroke-width="1.45" stroke-linejoin="round"/><path d="M25.00,214.27 L25.25,214.34 L25.50,214.28 L25.75,214.35 L26.00,214.39 L26.25,214.12 L26.50,213.95 L26.75,214.27 L27.00,214.13 L27.25,214.04 L27.50,214.36 L27.75,214.25 L28.00,214.37 L28.25,214.24 L28.50,214.25 L28.75,214.00 L29.00,214.10 L29.25,214.26 L29.50,214.16 L29.75,214.21 L30.00,214.19 L30.25,213.86 L30.50,214.04 L30.75,214.03 L31.00,213.87 L31.25,213.65 L31.50,213.94 L31.75,213.88 L32.00,213.97 L32.25,214.08 L32.50,214.04 L32.75,214.12 L33.00,213.88 L33.25,213.96 L33.50,213.81 L33.75,213.97 L34.00,214.01 L34.25,213.63 L34.50,213.45 L34.75,213.39 L35.00,213.73 L35.25,213.62 L35.50,213.65 L35.75,213.50 L36.00,213.51 L36.25,213.45 L36.50,213.39 L36.75,213.47 L37.00,213.50 L37.25,213.67 L37.50,213.63 L37.75,213.73 L38.00,213.73 L38.25,213.79 L38.50,213.65 L38.75,213.32 L39.00,213.50 L39.25,213.63 L39.50,213.66 L39.75,213.50 L40.00,213.48 L40.25,213.21 L40.50,213.38 L40.75,213.33 L41.00,213.15 L41.25,212.95 L41.50,213.23 L41.75,213.44 L42.00,213.08 L42.25,213.26 L42.50,213.14 L42.75,212.95 L43.00,212.92 L43.25,213.13 L43.50,213.29 L43.75,212.95 L44.00,213.06 L44.25,212.82 L44.50,213.03 L44.75,212.94 L45.00,213.17 L45.25,213.32 L45.50,213.16 L45.75,213.32 L46.00,213.05 L46.25,212.79 L46.50,212.92 L46.75,212.70 L47.00,212.66 L47.25,212.75 L47.50,212.88 L47.75,212.72 L48.00,212.58 L48.25,212.92 L48.50,212.80 L48.75,213.07 L49.00,213.16 L49.25,212.95 L49.50,212.87 L49.75,212.86 L50.00,212.92 L50.25,212.92 L50.50,212.89 L50.75,212.91 L51.00,213.07 L51.25,212.93 L51.50,212.82 L51.75,212.91 L52.00,212.70 L52.25,212.63 L52.50,212.93 L52.75,212.84 L53.00,212.81 L53.25,212.52 L53.50,212.58 L53.75,212.68 L54.00,212.45 L54.25,212.63 L54.50,212.73 L54.75,212.48 L55.00,212.64 L55.25,212.64 L55.50,212.74 L55.75,212.62 L56.00,212.74 L56.25,212.81 L56.50,212.48 L56.75,212.33 L57.00,212.56 L57.25,212.82 L57.50,212.58 L57.75,212.57 L58.00,212.62 L58.25,212.51 L58.50,212.47 L58.75,212.43 L59.00,212.43 L59.25,212.54 L59.50,212.44 L59.75,212.43 L60.00,212.62 L60.25,212.33 L60.50,212.46 L60.75,212.60 L61.00,212.46 L61.25,212.34 L61.50,212.56 L61.75,212.39 L62.00,212.28 L62.25,212.34 L62.50,212.50 L62.75,212.28 L63.00,212.27 L63.25,212.27 L63.50,212.52 L63.75,212.44 L64.00,212.61 L64.25,212.35 L64.50,212.30 L64.75,212.43 L65.00,212.61 L65.25,212.48 L65.50,212.30 L65.75,212.15 L66.00,212.28 L66.25,212.17 L66.50,212.42 L66.75,212.56 L67.00,212.30 L67.25,212.22 L67.50,212.44 L67.75,212.46 L68.00,212.55 L68.25,212.37 L68.50,212.16 L68.75,212.14 L69.00,212.37 L69.25,212.23 L69.50,212.19 L69.75,212.20 L70.00,212.21 L70.25,212.20 L70.50,212.45 L70.75,212.19 L71.00,211.99 L71.25,212.35 L71.50,212.49 L71.75,212.62 L72.00,212.40 L72.25,212.55 L72.50,212.61 L72.75,212.28 L73.00,212.37 L73.25,212.46 L73.50,212.42 L73.75,212.32 L74.00,212.15 L74.25,212.09 L74.50,212.00 L74.75,211.87 L75.00,212.06 L75.25,212.00 L75.50,212.23 L75.75,211.96 L76.00,212.25 L76.25,212.28 L76.50,212.41 L76.75,212.45 L77.00,212.47 L77.25,212.32 L77.50,211.95 L77.75,212.13 L78.00,211.93 L78.25,211.88 L78.50,212.04 L78.75,212.04 L79.00,211.98 L79.25,212.21 L79.50,212.15 L79.75,211.98 L80.00,211.84 L80.25,212.07 L80.50,211.98 L80.75,212.08 L81.00,211.90 L81.25,211.73 L81.50,211.80 L81.75,211.96 L82.00,211.70 L82.25,211.87 L82.50,212.01 L82.75,212.01 L83.00,212.00 L83.25,211.57 L83.50,211.65 L83.75,211.79 L84.00,211.44 L84.25,211.36 L84.50,211.30 L84.75,211.38 L85.00,211.35 L85.25,211.34 L85.50,211.47 L85.75,211.13 L86.00,210.96 L86.25,210.89 L86.50,210.84 L86.75,210.76 L87.00,211.16 L87.25,211.27 L87.50,210.93 L87.75,210.94 L88.00,210.83 L88.25,210.75 L88.50,210.71 L88.75,210.81 L89.00,210.81 L89.25,210.68 L89.50,210.50 L89.75,210.46 L90.00,210.31 L90.25,210.43 L90.50,210.54 L90.75,210.41 L91.00,210.17 L91.25,210.07 L91.50,210.10 L91.75,210.20 L92.00,210.31 L92.25,210.14 L92.50,210.24 L92.75,210.18 L93.00,210.03 L93.25,209.89 L93.50,209.86 L93.75,209.92 L94.00,209.78 L94.25,209.82 L94.50,209.68 L94.75,209.47 L95.00,209.47 L95.25,209.52 L95.50,209.18 L95.75,209.15 L96.00,209.09 L96.25,209.24 L96.50,209.30 L96.75,209.00 L97.00,209.07 L97.25,209.00 L97.50,208.65 L97.75,208.53 L98.00,208.24 L98.25,208.39 L98.50,208.34 L98.75,208.37 L99.00,208.27 L99.25,208.09 L99.50,207.96 L99.75,207.72 L100.00,207.26 L100.25,207.16 L100.50,206.68 L100.75,206.34 L101.00,206.29 L101.25,205.67 L101.50,205.09 L101.75,204.46 L102.00,204.10 L102.25,203.02 L102.50,201.71 L102.75,200.58 L103.00,198.50 L103.25,196.33 L103.50,193.24 L103.75,189.36 L104.00,184.65 L104.25,179.27 L104.50,174.73 L104.75,172.06 L105.00,173.31 L105.25,177.19 L105.50,182.48 L105.75,187.34 L106.00,191.91 L106.25,195.61 L106.50,198.01 L106.75,200.10 L107.00,201.86 L107.25,203.35 L107.50,204.19 L107.75,204.90 L108.00,205.55 L108.25,206.28 L108.50,206.90 L108.75,207.19 L109.00,207.46 L109.25,207.73 L109.50,207.94 L109.75,208.17 L110.00,208.20 L110.25,208.49 L110.50,208.94 L110.75,208.93 L111.00,209.14 L111.25,209.00 L111.50,209.23 L111.75,209.41 L112.00,209.49 L112.25,209.47 L112.50,209.47 L112.75,209.57 L113.00,209.76 L113.25,209.49 L113.50,209.34 L113.75,209.59 L114.00,209.80 L114.25,209.71 L114.50,209.62 L114.75,209.71 L115.00,209.48 L115.25,209.40 L115.50,209.31 L115.75,209.45 L116.00,209.37 L116.25,209.28 L116.50,209.45 L116.75,209.64 L117.00,209.40 L117.25,209.46 L117.50,209.33 L117.75,209.46 L118.00,209.37 L118.25,209.15 L118.50,208.99 L118.75,208.80 L119.00,208.90 L119.25,208.89 L119.50,208.75 L119.75,208.75 L120.00,208.71 L120.25,208.89 L120.50,208.64 L120.75,208.92 L121.00,208.77 L121.25,208.72 L121.50,208.60 L121.75,208.68 L122.00,208.68 L122.25,208.50 L122.50,208.32 L122.75,208.29 L123.00,208.29 L123.25,207.98 L123.50,207.92 L123.75,207.91 L124.00,207.56 L124.25,207.15 L124.50,206.81 L124.75,206.73 L125.00,206.49 L125.25,206.30 L125.50,205.91 L125.75,205.12 L126.00,204.36 L126.25,203.60 L126.50,202.69 L126.75,201.88 L127.00,200.82 L127.25,199.38 L127.50,197.19 L127.75,194.95 L128.00,191.74 L128.25,187.90 L128.50,183.31 L128.75,177.35 L129.00,170.70 L129.25,164.34 L129.50,158.73 L129.75,156.06 L130.00,157.37 L130.25,162.08 L130.50,168.25 L130.75,175.04 L131.00,181.24 L131.25,186.47 L131.50,190.58 L131.75,194.09 L132.00,197.04 L132.25,199.05 L132.50,200.81 L132.75,202.02 L133.00,203.17 L133.25,204.33 L133.50,204.96 L133.75,205.96 L134.00,206.71 L134.25,206.89 L134.50,207.60 L134.75,207.83 L135.00,208.30 L135.25,208.65 L135.50,208.72 L135.75,209.05 L136.00,209.30 L136.25,209.59 L136.50,209.55 L136.75,209.84 L137.00,210.16 L137.25,210.24 L137.50,210.27 L137.75,210.13 L138.00,210.30 L138.25,210.36 L138.50,210.61 L138.75,210.76 L139.00,210.82 L139.25,210.69 L139.50,210.89 L139.75,211.02 L140.00,210.88 L140.25,211.20 L140.50,211.27 L140.75,211.06 L141.00,211.38 L141.25,211.17 L141.50,211.18 L141.75,211.40 L142.00,211.47 L142.25,211.50 L142.50,211.58 L142.75,211.54 L143.00,211.47 L143.25,211.38 L143.50,211.29 L143.75,211.59 L144.00,211.77 L144.25,211.77 L144.50,211.88 L144.75,211.76 L145.00,211.67 L145.25,211.69 L145.50,211.96 L145.75,211.69 L146.00,211.80 L146.25,211.73 L146.50,211.97 L146.75,211.90 L147.00,211.86 L147.25,211.88 L147.50,211.98 L147.75,212.15 L148.00,212.04 L148.25,212.24 L148.50,211.98 L148.75,211.94 L149.00,211.85 L149.25,211.81 L149.50,212.14 L149.75,212.29 L150.00,212.10 L150.25,212.02 L150.50,212.10 L150.75,212.32 L151.00,212.47 L151.25,212.53 L151.50,212.49 L151.75,212.26 L152.00,212.28 L152.25,212.20 L152.50,212.34 L152.75,212.44 L153.00,212.32 L153.25,212.30 L153.50,212.57 L153.75,212.34 L154.00,212.63 L154.25,212.83 L154.50,212.97 L154.75,212.77 L155.00,212.77 L155.25,212.80 L155.50,212.86 L155.75,213.07 L156.00,213.05 L156.25,212.85 L156.50,213.05 L156.75,212.98 L157.00,213.01 L157.25,213.11 L157.50,212.81 L157.75,213.05 L158.00,213.14 L158.25,213.11 L158.50,213.12 L158.75,213.11 L159.00,212.98 L159.25,213.10 L159.50,212.92 L159.75,213.08 L160.00,213.24 L160.25,213.23 L160.50,213.30 L160.75,213.54 L161.00,213.63 L161.25,213.31 L161.50,213.49 L161.75,213.50 L162.00,213.23 L162.25,213.26 L162.50,213.21 L162.75,213.12 L163.00,213.31 L163.25,213.60 L163.50,213.45 L163.75,213.65 L164.00,213.67 L164.25,213.40 L164.50,213.63 L164.75,213.62 L165.00,213.77 L165.25,213.75 L165.50,213.74 L165.75,213.55 L166.00,213.68 L166.25,213.81 L166.50,213.84 L166.75,213.64 L167.00,213.70 L167.25,213.60 L167.50,213.36 L167.75,213.20 L168.00,213.15 L168.25,213.18 L168.50,213.17 L168.75,213.34 L169.00,213.53 L169.25,213.54 L169.50,213.49 L169.75,213.57 L170.00,213.45 L170.25,213.46 L170.50,213.62 L170.75,213.52 L171.00,213.36 L171.25,213.64 L171.50,213.69 L171.75,213.53 L172.00,213.46 L172.25,213.50 L172.50,213.56 L172.75,213.40 L173.00,213.21 L173.25,213.22 L173.50,213.51 L173.75,213.33 L174.00,213.41 L174.25,213.31 L174.50,213.27 L174.75,213.23 L175.00,213.32 L175.25,213.25 L175.50,213.15 L175.75,213.14 L176.00,213.16 L176.25,213.33 L176.50,213.20 L176.75,213.12 L177.00,213.29 L177.25,213.36 L177.50,213.54 L177.75,213.30 L178.00,213.36 L178.25,213.39 L178.50,213.21 L178.75,213.60 L179.00,213.41 L179.25,213.26 L179.50,213.37 L179.75,213.28 L180.00,213.45 L180.25,213.41 L180.50,213.27 L180.75,213.17 L181.00,213.45 L181.25,213.37 L181.50,213.58 L181.75,213.53 L182.00,213.73 L182.25,213.52 L182.50,213.39 L182.75,213.33 L183.00,213.57 L183.25,213.60 L183.50,213.47 L183.75,213.28 L184.00,213.48 L184.25,213.73 L184.50,213.66 L184.75,213.33 L185.00,213.17 L185.25,213.13 L185.50,213.14 L185.75,213.08 L186.00,213.05 L186.25,213.34 L186.50,213.60 L186.75,213.38 L187.00,213.65 L187.25,213.54 L187.50,213.64 L187.75,213.74 L188.00,213.80 L188.25,213.37 L188.50,213.29 L188.75,213.39 L189.00,213.61 L189.25,213.29 L189.50,213.22 L189.75,213.46 L190.00,213.21 L190.25,213.21 L190.50,213.18 L190.75,213.33 L191.00,213.52 L191.25,213.23 L191.50,213.37 L191.75,213.42 L192.00,213.49 L192.25,213.38 L192.50,213.50 L192.75,213.27 L193.00,213.17 L193.25,213.02 L193.50,213.22 L193.75,213.15 L194.00,213.01 L194.25,212.87 L194.50,213.07 L194.75,213.11 L195.00,213.17 L195.25,213.02 L195.50,212.99 L195.75,212.80 L196.00,212.97 L196.25,212.70 L196.50,212.77 L196.75,212.94 L197.00,212.98 L197.25,212.69 L197.50,212.61 L197.75,212.85 L198.00,212.86 L198.25,212.97 L198.50,213.01 L198.75,212.80 L199.00,212.91 L199.25,212.87 L199.50,212.63 L199.75,212.50 L200.00,212.27 L200.25,212.28 L200.50,212.54 L200.75,212.21 L201.00,212.24 L201.25,211.99 L201.50,211.81 L201.75,211.97 L202.00,211.81 L202.25,211.60 L202.50,211.51 L202.75,211.68 L203.00,211.71 L203.25,211.40 L203.50,211.34 L203.75,211.65 L204.00,211.41 L204.25,211.45 L204.50,211.37 L204.75,211.49 L205.00,211.43 L205.25,211.46 L205.50,211.32 L205.75,211.04 L206.00,210.86 L206.25,210.67 L206.50,210.90 L206.75,210.60 L207.00,210.34 L207.25,210.60 L207.50,210.26 L207.75,210.34 L208.00,209.85 L208.25,209.66 L208.50,209.28 L208.75,209.19 L209.00,208.80 L209.25,208.34 L209.50,207.82 L209.75,207.19 L210.00,206.10 L210.25,205.05 L210.50,203.67 L210.75,201.89 L211.00,200.27 L211.25,198.13 L211.50,195.93 L211.75,193.47 L212.00,191.80 L212.25,191.00 L212.50,191.51 L212.75,192.69 L213.00,194.82 L213.25,197.26 L213.50,199.38 L213.75,201.59 L214.00,203.51 L214.25,204.91 L214.50,206.20 L214.75,207.22 L215.00,207.86 L215.25,208.53 L215.50,209.42 L215.75,209.73 L216.00,210.11 L216.25,210.28 L216.50,210.55 L216.75,210.78 L217.00,211.38 L217.25,211.67 L217.50,211.96 L217.75,212.24 L218.00,212.26 L218.25,212.49 L218.50,212.46 L218.75,212.43 L219.00,212.73 L219.25,212.90 L219.50,213.04 L219.75,212.92 L220.00,213.03 L220.25,212.93 L220.50,213.21 L220.75,213.34 L221.00,213.11 L221.25,213.34 L221.50,213.11 L221.75,212.97 L222.00,213.23 L222.25,213.17 L222.50,213.27 L222.75,213.40 L223.00,213.19 L223.25,213.45 L223.50,213.36 L223.75,213.41 L224.00,213.41 L224.25,213.62 L224.50,213.74 L224.75,213.59 L225.00,213.43 L225.25,213.46 L225.50,213.55 L225.75,213.43 L226.00,213.43 L226.25,213.74 L226.50,213.87 L226.75,214.09 L227.00,214.21 L227.25,214.23 L227.50,213.99 L227.75,213.78 L228.00,213.75 L228.25,213.82 L228.50,213.90 L228.75,213.95 L229.00,213.89 L229.25,214.12 L229.50,213.96 L229.75,213.97 L230.00,214.20 L230.25,214.28 L230.50,214.07 L230.75,213.94 L231.00,214.17 L231.25,213.89 L231.50,213.82 L231.75,213.99 L232.00,214.08 L232.25,213.95 L232.50,213.83 L232.75,213.86 L233.00,214.16 L233.25,214.16 L233.50,214.43 L233.75,214.47 L234.00,214.59 L234.25,214.19 L234.50,214.07 L234.75,213.92 L235.00,214.07 L235.25,214.10 L235.50,213.97 L235.75,214.17 L236.00,214.04 L236.25,214.09 L236.50,214.09 L236.75,214.37 L237.00,214.32 L237.25,214.22 L237.50,214.07 L237.75,214.19 L238.00,214.35 L238.25,214.46 L238.50,214.64 L238.75,214.68 L239.00,214.42 L239.25,214.24 L239.50,214.47 L239.75,214.60 L240.00,214.52 L240.25,214.65 L240.50,214.58 L240.75,214.41 L241.00,214.27 L241.25,214.13 L241.50,214.37 L241.75,214.62 L242.00,214.75 L242.25,214.60 L242.50,214.63 L242.75,214.77 L243.00,214.79 L243.25,214.69 L243.50,214.55 L243.75,214.53 L244.00,214.35 L244.25,214.27 L244.50,214.48 L244.75,214.73 L245.00,214.64 L245.25,214.52 L245.50,214.44 L245.75,214.44 L246.00,214.62 L246.25,214.52 L246.50,214.73 L246.75,214.42 L247.00,214.35 L247.25,214.41 L247.50,214.38 L247.75,214.57 L248.00,214.66 L248.25,214.74 L248.50,214.62 L248.75,214.26 L249.00,214.34 L249.25,214.36 L249.50,214.33 L249.75,214.20 L250.00,214.34 L250.25,214.50 L250.50,214.17 L250.75,214.27 L251.00,214.16 L251.25,214.17 L251.50,214.35 L251.75,214.46 L252.00,214.34 L252.25,214.04 L252.50,214.25 L252.75,213.96 L253.00,213.91 L253.25,214.09 L253.50,213.91 L253.75,213.78 L254.00,214.04 L254.25,214.15 L254.50,213.87 L254.75,213.76 L255.00,213.63 L255.25,213.47 L255.50,213.43 L255.75,213.76 L256.00,213.45 L256.25,213.36 L256.50,213.28 L256.75,213.16 L257.00,213.30 L257.25,213.46 L257.50,213.57 L257.75,213.50 L258.00,213.53 L258.25,213.12 L258.50,213.04 L258.75,213.31 L259.00,212.98 L259.25,212.88 L259.50,212.91 L259.75,212.77 L260.00,212.80 L260.25,212.51 L260.50,212.42 L260.75,212.68 L261.00,212.36 L261.25,212.53 L261.50,212.21 L261.75,212.42 L262.00,212.32 L262.25,212.23 L262.50,211.90 L262.75,211.67 L263.00,211.86 L263.25,211.63 L263.50,211.46 L263.75,211.64 L264.00,211.68 L264.25,211.20 L264.50,211.32 L264.75,211.04 L265.00,210.68 L265.25,210.19 L265.50,209.89 L265.75,209.81 L266.00,209.17 L266.25,208.54 L266.50,208.03 L266.75,207.65 L267.00,207.57 L267.25,207.94 L267.50,207.93 L267.75,208.27 L268.00,209.09 L268.25,209.79 L268.50,210.36 L268.75,210.48 L269.00,210.75 L269.25,211.32 L269.50,211.49 L269.75,211.78 L270.00,211.82 L270.25,211.77 L270.50,211.97 L270.75,212.33 L271.00,212.57 L271.25,212.64 L271.50,212.65 L271.75,212.74 L272.00,212.76 L272.25,212.85 L272.50,213.07 L272.75,212.89 L273.00,213.02 L273.25,213.27 L273.50,213.38 L273.75,213.11 L274.00,213.40 L274.25,213.49 L274.50,213.22 L274.75,213.15 L275.00,213.10 L275.25,213.02 L275.50,213.45 L275.75,213.40 L276.00,213.61 L276.25,213.35 L276.50,213.18 L276.75,213.53 L277.00,213.67 L277.25,213.84 L277.50,213.77 L277.75,213.66 L278.00,213.71 L278.25,213.39 L278.50,213.42 L278.75,213.31 L279.00,213.04 L279.25,213.05 L279.50,212.84 L279.75,212.75 L280.00,212.58 L280.25,212.43 L280.50,212.36 L280.75,212.43 L281.00,212.63 L281.25,212.67 L281.50,212.61 L281.75,212.52 L282.00,212.14 L282.25,212.24 L282.50,211.85 L282.75,211.49 L283.00,211.39 L283.25,211.33 L283.50,210.94 L283.75,210.73 L284.00,210.24 L284.25,210.14 L284.50,209.62 L284.75,209.20 L285.00,208.91 L285.25,208.92 L285.50,209.07 L285.75,209.09 L286.00,209.29 L286.25,209.72 L286.50,209.91 L286.75,210.39 L287.00,211.03 L287.25,211.48 L287.50,211.48 L287.75,211.99 L288.00,212.12 L288.25,212.57 L288.50,212.56 L288.75,212.55 L289.00,212.77 L289.25,213.10 L289.50,213.09 L289.75,213.34 L290.00,213.43 L290.25,213.34 L290.50,213.29 L290.75,213.40 L291.00,213.43 L291.25,213.46 L291.50,213.64 L291.75,213.87 L292.00,213.86 L292.25,213.66 L292.50,213.62 L292.75,213.70 L293.00,213.89 L293.25,213.76 L293.50,213.70 L293.75,213.80 L294.00,213.86 L294.25,213.78 L294.50,214.01 L294.75,214.34 L295.00,214.33 L295.25,214.44 L295.50,214.56 L295.75,214.64 L296.00,214.73 L296.25,214.55 L296.50,214.59 L296.75,214.35 L297.00,214.61 L297.25,214.50 L297.50,214.51 L297.75,214.72 L298.00,214.54 L298.25,214.40 L298.50,214.66 L298.75,214.68 L299.00,214.45 L299.25,214.31 L299.50,214.40 L299.75,214.29 L300.00,214.65 L300.25,214.51 L300.50,214.49 L300.75,214.54 L301.00,214.64 L301.25,214.65 L301.50,214.76 L301.75,214.83 L302.00,214.76 L302.25,214.57 L302.50,214.91 L302.75,214.94 L303.00,214.66 L303.25,214.70 L303.50,214.89 L303.75,215.10 L304.00,214.75 L304.25,214.55 L304.50,214.69 L304.75,214.73 L305.00,214.99 L305.25,215.09 L305.50,214.90 L305.75,214.85 L306.00,214.91 L306.25,215.10 L306.50,214.85 L306.75,214.83 L307.00,214.67 L307.25,214.87 L307.50,214.67 L307.75,215.03 L308.00,215.00 L308.25,215.02 L308.50,214.79 L308.75,214.75 L309.00,214.86 L309.25,215.11 L309.50,215.08" fill="none" stroke="#174d78" stroke-width="1.45" stroke-linejoin="round"/><line x1="105.37" y1="18.5" x2="105.37" y2="227.0" stroke="#838383" stroke-width="1.3" stroke-dasharray="5.3 4.6" stroke-dashoffset="-0.7"/><line x1="130.26" y1="18.5" x2="130.26" y2="227.0" stroke="#838383" stroke-width="1.3" stroke-dasharray="5.3 4.6" stroke-dashoffset="-0.7"/><line x1="212.95" y1="18.5" x2="212.95" y2="227.0" stroke="#838383" stroke-width="1.3" stroke-dasharray="5.3 4.6" stroke-dashoffset="-0.7"/><line x1="267.54" y1="18.5" x2="267.54" y2="227.0" stroke="#838383" stroke-width="1.3" stroke-dasharray="5.3 4.6" stroke-dashoffset="-0.7"/><line x1="285.50" y1="18.5" x2="285.50" y2="227.0" stroke="#838383" stroke-width="1.3" stroke-dasharray="5.3 4.6" stroke-dashoffset="-0.7"/><rect x="25.0" y="18.5" width="284.5" height="209.0" fill="none" stroke="#3a3a3a" stroke-width="1"/><line x1="60.56" y1="227.5" x2="60.56" y2="223.5" stroke="#3a3a3a" stroke-width="1"/><line x1="60.56" y1="18.5" x2="60.56" y2="22.5" stroke="#3a3a3a" stroke-width="1"/><line x1="96.12" y1="227.5" x2="96.12" y2="223.5" stroke="#3a3a3a" stroke-width="1"/><line x1="96.12" y1="18.5" x2="96.12" y2="22.5" stroke="#3a3a3a" stroke-width="1"/><line x1="131.69" y1="227.5" x2="131.69" y2="223.5" stroke="#3a3a3a" stroke-width="1"/><line x1="131.69" y1="18.5" x2="131.69" y2="22.5" stroke="#3a3a3a" stroke-width="1"/><line x1="167.25" y1="227.5" x2="167.25" y2="223.5" stroke="#3a3a3a" stroke-width="1"/><line x1="167.25" y1="18.5" x2="167.25" y2="22.5" stroke="#3a3a3a" stroke-width="1"/><line x1="202.81" y1="227.5" x2="202.81" y2="223.5" stroke="#3a3a3a" stroke-width="1"/><line x1="202.81" y1="18.5" x2="202.81" y2="22.5" stroke="#3a3a3a" stroke-width="1"/><line x1="238.38" y1="227.5" x2="238.38" y2="223.5" stroke="#3a3a3a" stroke-width="1"/><line x1="238.38" y1="18.5" x2="238.38" y2="22.5" stroke="#3a3a3a" stroke-width="1"/><line x1="273.94" y1="227.5" x2="273.94" y2="223.5" stroke="#3a3a3a" stroke-width="1"/><line x1="273.94" y1="18.5" x2="273.94" y2="22.5" stroke="#3a3a3a" stroke-width="1"/><text x="25.00" y="243.5" font-size="14.5" text-anchor="middle">20</text><text x="96.12" y="243.5" font-size="14.5" text-anchor="middle">40</text><text x="167.25" y="243.5" font-size="14.5" text-anchor="middle">60</text><text x="238.38" y="243.5" font-size="14.5" text-anchor="middle">80</text><text x="309.50" y="243.5" font-size="14.5" text-anchor="middle">100</text><text x="167.25" y="261.7" font-size="14" text-anchor="middle">2θ (°)</text><path d="M376.30,92.76 L376.55,92.71 L376.80,92.74 L377.05,92.71 L377.30,92.68 L377.55,92.71 L377.80,92.81 L378.05,92.84 L378.30,92.85 L378.55,92.76 L378.80,92.77 L379.05,92.73 L379.30,92.69 L379.55,92.66 L379.80,92.66 L380.05,92.77 L380.30,92.81 L380.55,92.82 L380.80,92.82 L381.05,92.73 L381.30,92.69 L381.55,92.73 L381.80,92.76 L382.05,92.79 L382.30,92.81 L382.55,92.69 L382.80,92.71 L383.05,92.73 L383.30,92.71 L383.55,92.65 L383.80,92.66 L384.05,92.60 L384.30,92.71 L384.55,92.75 L384.80,92.71 L385.05,92.65 L385.30,92.72 L385.55,92.70 L385.80,92.73 L386.05,92.74 L386.30,92.69 L386.55,92.65 L386.80,92.65 L387.05,92.63 L387.30,92.57 L387.55,92.56 L387.80,92.63 L388.05,92.55 L388.30,92.50 L388.55,92.57 L388.80,92.54 L389.05,92.57 L389.30,92.57 L389.55,92.55 L389.80,92.64 L390.05,92.55 L390.30,92.54 L390.55,92.50 L390.80,92.55 L391.05,92.51 L391.30,92.51 L391.55,92.56 L391.80,92.52 L392.05,92.53 L392.30,92.59 L392.55,92.49 L392.80,92.43 L393.05,92.43 L393.30,92.51 L393.55,92.52 L393.80,92.47 L394.05,92.45 L394.30,92.42 L394.55,92.44 L394.80,92.39 L395.05,92.46 L395.30,92.53 L395.55,92.57 L395.80,92.55 L396.05,92.58 L396.30,92.44 L396.55,92.41 L396.80,92.50 L397.05,92.51 L397.30,92.46 L397.55,92.51 L397.80,92.49 L398.05,92.50 L398.30,92.42 L398.55,92.37 L398.80,92.37 L399.05,92.33 L399.30,92.34 L399.55,92.44 L399.80,92.38 L400.05,92.30 L400.30,92.27 L400.55,92.26 L400.80,92.36 L401.05,92.34 L401.30,92.31 L401.55,92.27 L401.80,92.38 L402.05,92.35 L402.30,92.30 L402.55,92.24 L402.80,92.22 L403.05,92.22 L403.30,92.30 L403.55,92.25 L403.80,92.21 L404.05,92.25 L404.30,92.24 L404.55,92.35 L404.80,92.26 L405.05,92.28 L405.30,92.32 L405.55,92.29 L405.80,92.36 L406.05,92.31 L406.30,92.25 L406.55,92.24 L406.80,92.18 L407.05,92.20 L407.30,92.19 L407.55,92.28 L407.80,92.31 L408.05,92.27 L408.30,92.18 L408.55,92.16 L408.80,92.15 L409.05,92.14 L409.30,92.14 L409.55,92.23 L409.80,92.16 L410.05,92.11 L410.30,92.22 L410.55,92.22 L410.80,92.29 L411.05,92.22 L411.30,92.27 L411.55,92.25 L411.80,92.26 L412.05,92.26 L412.30,92.21 L412.55,92.12 L412.80,92.10 L413.05,92.19 L413.30,92.24 L413.55,92.26 L413.80,92.18 L414.05,92.19 L414.30,92.21 L414.55,92.20 L414.80,92.22 L415.05,92.18 L415.30,92.18 L415.55,92.18 L415.80,92.11 L416.05,92.18 L416.30,92.22 L416.55,92.10 L416.80,92.18 L417.05,92.22 L417.30,92.19 L417.55,92.07 L417.80,92.15 L418.05,92.06 L418.30,92.15 L418.55,92.15 L418.80,92.05 L419.05,92.01 L419.30,92.07 L419.55,92.08 L419.80,92.12 L420.05,92.16 L420.30,92.07 L420.55,91.99 L420.80,92.09 L421.05,92.00 L421.30,92.09 L421.55,92.01 L421.80,92.08 L422.05,92.11 L422.30,92.14 L422.55,92.10 L422.80,92.13 L423.05,92.04 L423.30,92.07 L423.55,92.03 L423.80,92.09 L424.05,92.11 L424.30,92.07 L424.55,92.05 L424.80,91.96 L425.05,91.92 L425.30,91.99 L425.55,92.00 L425.80,92.07 L426.05,92.06 L426.30,91.98 L426.55,91.98 L426.80,92.04 L427.05,92.03 L427.30,91.94 L427.55,92.03 L427.80,92.07 L428.05,91.97 L428.30,92.00 L428.55,91.98 L428.80,92.04 L429.05,91.99 L429.30,91.95 L429.55,91.98 L429.80,92.06 L430.05,91.97 L430.30,91.92 L430.55,91.98 L430.80,92.05 L431.05,92.02 L431.30,92.00 L431.55,92.05 L431.80,92.07 L432.05,91.96 L432.30,92.04 L432.55,91.96 L432.80,91.94 L433.05,92.02 L433.30,91.99 L433.55,92.04 L433.80,91.96 L434.05,92.03 L434.30,91.96 L434.55,91.91 L434.80,91.95 L435.05,91.94 L435.30,91.97 L435.55,92.04 L435.80,92.04 L436.05,91.93 L436.30,91.92 L436.55,91.96 L436.80,91.96 L437.05,92.00 L437.30,91.98 L437.55,91.91 L437.80,91.90 L438.05,91.99 L438.30,91.95 L438.55,92.00 L438.80,92.06 L439.05,92.03 L439.30,92.02 L439.55,92.01 L439.80,91.95 L440.05,92.02 L440.30,91.98 L440.55,92.03 L440.80,91.95 L441.05,92.01 L441.30,92.02 L441.55,91.99 L441.80,91.95 L442.05,91.88 L442.30,91.94 L442.55,91.91 L442.80,91.94 L443.05,91.86 L443.30,91.81 L443.55,91.80 L443.80,91.89 L444.05,91.83 L444.30,91.92 L444.55,91.87 L444.80,91.87 L445.05,91.83 L445.30,91.85 L445.55,91.77 L445.80,91.77 L446.05,91.85 L446.30,91.76 L446.55,91.78 L446.80,91.73 L447.05,91.69 L447.30,91.62 L447.55,91.57 L447.80,91.68 L448.05,91.70 L448.30,91.69 L448.55,91.67 L448.80,91.66 L449.05,91.50 L449.30,91.47 L449.55,91.41 L449.80,91.36 L450.05,91.35 L450.30,91.28 L450.55,91.23 L450.80,91.01 L451.05,90.92 L451.30,90.81 L451.55,90.67 L451.80,90.48 L452.05,90.29 L452.30,89.96 L452.55,89.70 L452.80,89.26 L453.05,88.78 L453.30,88.21 L453.55,87.41 L453.80,86.30 L454.05,84.86 L454.30,82.94 L454.55,80.33 L454.80,76.66 L455.05,71.43 L455.30,64.39 L455.55,56.54 L455.80,51.12 L456.05,51.75 L456.30,58.04 L456.55,65.79 L456.80,72.43 L457.05,77.41 L457.30,80.95 L457.55,83.45 L457.80,85.21 L458.05,86.60 L458.30,87.58 L458.55,88.25 L458.80,88.79 L459.05,89.37 L459.30,89.81 L459.55,90.13 L459.80,90.35 L460.05,90.49 L460.30,90.60 L460.55,90.74 L460.80,90.86 L461.05,91.08 L461.30,91.22 L461.55,91.31 L461.80,91.29 L462.05,91.32 L462.30,91.37 L462.55,91.52 L462.80,91.49 L463.05,91.59 L463.30,91.64 L463.55,91.65 L463.80,91.74 L464.05,91.68 L464.30,91.70 L464.55,91.66 L464.80,91.64 L465.05,91.63 L465.30,91.67 L465.55,91.67 L465.80,91.66 L466.05,91.81 L466.30,91.77 L466.55,91.85 L466.80,91.86 L467.05,91.87 L467.30,91.87 L467.55,91.91 L467.80,91.92 L468.05,91.89 L468.30,91.85 L468.55,91.85 L468.80,91.85 L469.05,91.82 L469.30,91.79 L469.55,91.72 L469.80,91.78 L470.05,91.75 L470.30,91.66 L470.55,91.62 L470.80,91.70 L471.05,91.63 L471.30,91.60 L471.55,91.62 L471.80,91.65 L472.05,91.55 L472.30,91.50 L472.55,91.45 L472.80,91.35 L473.05,91.40 L473.30,91.26 L473.55,91.31 L473.80,91.16 L474.05,91.05 L474.30,91.06 L474.55,91.01 L474.80,90.82 L475.05,90.72 L475.30,90.57 L475.55,90.44 L475.80,90.19 L476.05,90.04 L476.30,89.85 L476.55,89.53 L476.80,89.20 L477.05,88.78 L477.30,88.17 L477.55,87.55 L477.80,86.76 L478.05,85.70 L478.30,84.28 L478.55,82.57 L478.80,80.30 L479.05,77.06 L479.30,72.66 L479.55,66.52 L479.80,57.96 L480.05,46.96 L480.30,35.69 L480.55,29.17 L480.80,32.20 L481.05,42.35 L481.30,53.79 L481.55,63.40 L481.80,70.46 L482.05,75.47 L482.30,79.15 L482.55,81.83 L482.80,83.80 L483.05,85.29 L483.30,86.39 L483.55,87.28 L483.80,87.97 L484.05,88.52 L484.30,89.05 L484.55,89.37 L484.80,89.62 L485.05,89.96 L485.30,90.19 L485.55,90.40 L485.80,90.59 L486.05,90.69 L486.30,90.79 L486.55,90.87 L486.80,91.07 L487.05,91.23 L487.30,91.31 L487.55,91.29 L487.80,91.45 L488.05,91.53 L488.30,91.55 L488.55,91.49 L488.80,91.62 L489.05,91.67 L489.30,91.71 L489.55,91.65 L489.80,91.75 L490.05,91.70 L490.30,91.76 L490.55,91.75 L490.80,91.79 L491.05,91.90 L491.30,91.95 L491.55,91.99 L491.80,91.94 L492.05,91.93 L492.30,91.97 L492.55,91.91 L492.80,91.94 L493.05,92.06 L493.30,92.08 L493.55,92.12 L493.80,92.05 L494.05,92.09 L494.30,92.13 L494.55,92.13 L494.80,92.10 L495.05,92.05 L495.30,92.00 L495.55,92.12 L495.80,92.19 L496.05,92.12 L496.30,92.17 L496.55,92.14 L496.80,92.16 L497.05,92.21 L497.30,92.15 L497.55,92.17 L497.80,92.13 L498.05,92.15 L498.30,92.09 L498.55,92.09 L498.80,92.10 L499.05,92.21 L499.30,92.14 L499.55,92.21 L499.80,92.14 L500.05,92.25 L500.30,92.17 L500.55,92.12 L500.80,92.12 L501.05,92.24 L501.30,92.25 L501.55,92.30 L501.80,92.26 L502.05,92.18 L502.30,92.18 L502.55,92.20 L502.80,92.29 L503.05,92.21 L503.30,92.18 L503.55,92.26 L503.80,92.19 L504.05,92.29 L504.30,92.24 L504.55,92.25 L504.80,92.27 L505.05,92.33 L505.30,92.22 L505.55,92.29 L505.80,92.22 L506.05,92.27 L506.30,92.19 L506.55,92.27 L506.80,92.21 L507.05,92.19 L507.30,92.15 L507.55,92.18 L507.80,92.20 L508.05,92.31 L508.30,92.31 L508.55,92.27 L508.80,92.35 L509.05,92.26 L509.30,92.22 L509.55,92.32 L509.80,92.37 L510.05,92.35 L510.30,92.39 L510.55,92.26 L510.80,92.34 L511.05,92.34 L511.30,92.34 L511.55,92.36 L511.80,92.26 L512.05,92.22 L512.30,92.20 L512.55,92.24 L512.80,92.27 L513.05,92.28 L513.30,92.26 L513.55,92.31 L513.80,92.36 L514.05,92.36 L514.30,92.25 L514.55,92.22 L514.80,92.21 L515.05,92.21 L515.30,92.26 L515.55,92.23 L515.80,92.28 L516.05,92.26 L516.30,92.26 L516.55,92.31 L516.80,92.37 L517.05,92.29 L517.30,92.27 L517.55,92.36 L517.80,92.28 L518.05,92.21 L518.30,92.21 L518.55,92.30 L518.80,92.34 L519.05,92.39 L519.30,92.34 L519.55,92.25 L519.80,92.24 L520.05,92.31 L520.30,92.29 L520.55,92.24 L520.80,92.25 L521.05,92.27 L521.30,92.26 L521.55,92.27 L521.80,92.23 L522.05,92.19 L522.30,92.29 L522.55,92.33 L522.80,92.31 L523.05,92.24 L523.30,92.24 L523.55,92.28 L523.80,92.36 L524.05,92.33 L524.30,92.39 L524.55,92.35 L524.80,92.28 L525.05,92.31 L525.30,92.32 L525.55,92.33 L525.80,92.35 L526.05,92.25 L526.30,92.27 L526.55,92.33 L526.80,92.26 L527.05,92.21 L527.30,92.21 L527.55,92.22 L527.80,92.25 L528.05,92.25 L528.30,92.30 L528.55,92.25 L528.80,92.25 L529.05,92.31 L529.30,92.31 L529.55,92.38 L529.80,92.41 L530.05,92.32 L530.30,92.29 L530.55,92.30 L530.80,92.31 L531.05,92.29 L531.30,92.35 L531.55,92.28 L531.80,92.29 L532.05,92.23 L532.30,92.33 L532.55,92.33 L532.80,92.39 L533.05,92.29 L533.30,92.33 L533.55,92.33 L533.80,92.24 L534.05,92.32 L534.30,92.37 L534.55,92.27 L534.80,92.36 L535.05,92.37 L535.30,92.35 L535.55,92.33 L535.80,92.28 L536.05,92.22 L536.30,92.25 L536.55,92.33 L536.80,92.27 L537.05,92.28 L537.30,92.25 L537.55,92.30 L537.80,92.37 L538.05,92.39 L538.30,92.31 L538.55,92.29 L538.80,92.21 L539.05,92.25 L539.30,92.33 L539.55,92.36 L539.80,92.26 L540.05,92.26 L540.30,92.21 L540.55,92.23 L540.80,92.32 L541.05,92.27 L541.30,92.33 L541.55,92.38 L541.80,92.38 L542.05,92.28 L542.30,92.35 L542.55,92.38 L542.80,92.41 L543.05,92.26 L543.30,92.19 L543.55,92.19 L543.80,92.23 L544.05,92.24 L544.30,92.19 L544.55,92.25 L544.80,92.28 L545.05,92.29 L545.30,92.27 L545.55,92.27 L545.80,92.29 L546.05,92.20 L546.30,92.21 L546.55,92.17 L546.80,92.14 L547.05,92.23 L547.30,92.20 L547.55,92.19 L547.80,92.17 L548.05,92.21 L548.30,92.15 L548.55,92.21 L548.80,92.14 L549.05,92.25 L549.30,92.17 L549.55,92.23 L549.80,92.22 L550.05,92.19 L550.30,92.15 L550.55,92.14 L550.80,92.19 L551.05,92.18 L551.30,92.17 L551.55,92.12 L551.80,92.14 L552.05,92.08 L552.30,92.09 L552.55,92.12 L552.80,92.11 L553.05,92.11 L553.30,92.10 L553.55,92.02 L553.80,92.10 L554.05,92.09 L554.30,92.08 L554.55,92.10 L554.80,92.02 L555.05,91.95 L555.30,91.90 L555.55,91.86 L555.80,91.82 L556.05,91.78 L556.30,91.73 L556.55,91.72 L556.80,91.66 L557.05,91.62 L557.30,91.61 L557.55,91.52 L557.80,91.52 L558.05,91.46 L558.30,91.30 L558.55,91.24 L558.80,91.03 L559.05,90.83 L559.30,90.76 L559.55,90.46 L559.80,90.15 L560.05,89.94 L560.30,89.47 L560.55,89.05 L560.80,88.45 L561.05,87.61 L561.30,86.55 L561.55,85.28 L561.80,83.39 L562.05,80.85 L562.30,77.55 L562.55,73.49 L562.80,69.04 L563.05,65.74 L563.30,65.49 L563.55,68.20 L563.80,72.47 L564.05,76.69 L564.30,80.31 L564.55,82.94 L564.80,84.95 L565.05,86.40 L565.30,87.56 L565.55,88.32 L565.80,88.94 L566.05,89.48 L566.30,89.80 L566.55,90.14 L566.80,90.48 L567.05,90.70 L567.30,90.88 L567.55,91.10 L567.80,91.19 L568.05,91.32 L568.30,91.38 L568.55,91.40 L568.80,91.48 L569.05,91.53 L569.30,91.55 L569.55,91.62 L569.80,91.65 L570.05,91.74 L570.30,91.84 L570.55,91.91 L570.80,91.98 L571.05,91.94 L571.30,91.98 L571.55,92.05 L571.80,92.02 L572.05,92.09 L572.30,92.01 L572.55,92.10 L572.80,92.15 L573.05,92.20 L573.30,92.20 L573.55,92.19 L573.80,92.15 L574.05,92.18 L574.30,92.22 L574.55,92.20 L574.80,92.20 L575.05,92.25 L575.30,92.18 L575.55,92.15 L575.80,92.10 L576.05,92.20 L576.30,92.22 L576.55,92.24 L576.80,92.18 L577.05,92.15 L577.30,92.18 L577.55,92.26 L577.80,92.22 L578.05,92.21 L578.30,92.21 L578.55,92.28 L578.80,92.20 L579.05,92.28 L579.30,92.18 L579.55,92.25 L579.80,92.29 L580.05,92.27 L580.30,92.30 L580.55,92.24 L580.80,92.19 L581.05,92.21 L581.30,92.20 L581.55,92.27 L581.80,92.28 L582.05,92.30 L582.30,92.36 L582.55,92.36 L582.80,92.37 L583.05,92.40 L583.30,92.41 L583.55,92.38 L583.80,92.31 L584.05,92.30 L584.30,92.33 L584.55,92.35 L584.80,92.38 L585.05,92.37 L585.30,92.36 L585.55,92.28 L585.80,92.31 L586.05,92.25 L586.30,92.29 L586.55,92.24 L586.80,92.19 L587.05,92.31 L587.30,92.36 L587.55,92.30 L587.80,92.22 L588.05,92.31 L588.30,92.35 L588.55,92.27 L588.80,92.33 L589.05,92.37 L589.30,92.35 L589.55,92.29 L589.80,92.22 L590.05,92.19 L590.30,92.24 L590.55,92.30 L590.80,92.32 L591.05,92.27 L591.30,92.33 L591.55,92.25 L591.80,92.29 L592.05,92.24 L592.30,92.19 L592.55,92.20 L592.80,92.29 L593.05,92.25 L593.30,92.20 L593.55,92.24 L593.80,92.24 L594.05,92.28 L594.30,92.30 L594.55,92.33 L594.80,92.37 L595.05,92.31 L595.30,92.32 L595.55,92.24 L595.80,92.22 L596.05,92.19 L596.30,92.29 L596.55,92.26 L596.80,92.30 L597.05,92.35 L597.30,92.29 L597.55,92.23 L597.80,92.21 L598.05,92.24 L598.30,92.23 L598.55,92.18 L598.80,92.28 L599.05,92.29 L599.30,92.33 L599.55,92.35 L599.80,92.34 L600.05,92.34 L600.30,92.33 L600.55,92.28 L600.80,92.31 L601.05,92.34 L601.30,92.23 L601.55,92.17 L601.80,92.15 L602.05,92.18 L602.30,92.26 L602.55,92.25 L602.80,92.29 L603.05,92.23 L603.30,92.24 L603.55,92.18 L603.80,92.22 L604.05,92.18 L604.30,92.11 L604.55,92.14 L604.80,92.18 L605.05,92.25 L605.30,92.19 L605.55,92.26 L605.80,92.27 L606.05,92.17 L606.30,92.22 L606.55,92.27 L606.80,92.29 L607.05,92.26 L607.30,92.19 L607.55,92.18 L607.80,92.19 L608.05,92.18 L608.30,92.11 L608.55,92.18 L608.80,92.15 L609.05,92.06 L609.30,92.05 L609.55,92.00 L609.80,92.03 L610.05,91.98 L610.30,92.02 L610.55,91.99 L610.80,92.06 L611.05,92.07 L611.30,91.98 L611.55,92.02 L611.80,91.99 L612.05,91.91 L612.30,91.95 L612.55,91.81 L612.80,91.78 L613.05,91.78 L613.30,91.67 L613.55,91.64 L613.80,91.64 L614.05,91.51 L614.30,91.44 L614.55,91.25 L614.80,91.18 L615.05,91.04 L615.30,90.69 L615.55,90.42 L615.80,89.98 L616.05,89.38 L616.30,88.70 L616.55,87.90 L616.80,86.83 L617.05,85.64 L617.30,84.51 L617.55,83.93 L617.80,84.20 L618.05,85.14 L618.30,86.39 L618.55,87.50 L618.80,88.42 L619.05,89.25 L619.30,89.83 L619.55,90.28 L619.80,90.64 L620.05,90.86 L620.30,91.01 L620.55,91.12 L620.80,91.32 L621.05,91.47 L621.30,91.61 L621.55,91.71 L621.80,91.72 L622.05,91.74 L622.30,91.84 L622.55,91.77 L622.80,91.80 L623.05,91.85 L623.30,91.89 L623.55,91.93 L623.80,91.88 L624.05,91.91 L624.30,91.89 L624.55,91.91 L624.80,91.89 L625.05,91.91 L625.30,91.97 L625.55,91.97 L625.80,91.93 L626.05,91.96 L626.30,92.01 L626.55,91.97 L626.80,91.95 L627.05,91.96 L627.30,92.01 L627.55,91.93 L627.80,91.98 L628.05,91.91 L628.30,92.00 L628.55,91.93 L628.80,91.99 L629.05,91.89 L629.30,91.90 L629.55,91.86 L629.80,91.91 L630.05,91.93 L630.30,91.81 L630.55,91.73 L630.80,91.78 L631.05,91.73 L631.30,91.67 L631.55,91.60 L631.80,91.53 L632.05,91.48 L632.30,91.36 L632.55,91.19 L632.80,91.07 L633.05,90.97 L633.30,90.75 L633.55,90.44 L633.80,90.07 L634.05,89.50 L634.30,88.79 L634.55,88.02 L634.80,86.97 L635.05,86.06 L635.30,85.26 L635.55,85.11 L635.80,85.55 L636.05,86.47 L636.30,87.37 L636.55,88.34 L636.80,89.15 L637.05,89.65 L637.30,90.17 L637.55,90.50 L637.80,90.84 L638.05,91.13 L638.30,91.18 L638.55,91.33 L638.80,91.47 L639.05,91.65 L639.30,91.76 L639.55,91.71 L639.80,91.72 L640.05,91.79 L640.30,91.90 L640.55,91.98 L640.80,91.99 L641.05,92.07 L641.30,92.10 L641.55,92.14 L641.80,92.13 L642.05,92.07 L642.30,92.12 L642.55,92.15 L642.80,92.21 L643.05,92.12 L643.30,92.06 L643.55,92.09 L643.80,92.09 L644.05,92.12 L644.30,92.08 L644.55,92.16 L644.80,92.17 L645.05,92.15 L645.30,92.12 L645.55,92.18 L645.80,92.14 L646.05,92.24 L646.30,92.20 L646.55,92.29 L646.80,92.21 L647.05,92.21 L647.30,92.28 L647.55,92.27 L647.80,92.26 L648.05,92.33 L648.30,92.25 L648.55,92.32 L648.80,92.30 L649.05,92.26 L649.30,92.25 L649.55,92.24 L649.80,92.29 L650.05,92.28 L650.30,92.30 L650.55,92.32 L650.80,92.37 L651.05,92.38 L651.30,92.31 L651.55,92.34 L651.80,92.36 L652.05,92.41 L652.30,92.35 L652.55,92.35 L652.80,92.38 L653.05,92.33 L653.30,92.31 L653.55,92.34 L653.80,92.32 L654.05,92.39 L654.30,92.35 L654.55,92.31 L654.80,92.35 L655.05,92.37 L655.30,92.44 L655.55,92.47 L655.80,92.41 L656.05,92.38 L656.30,92.40 L656.55,92.39 L656.80,92.40 L657.05,92.37 L657.30,92.43 L657.55,92.47 L657.80,92.48 L658.05,92.47 L658.30,92.49 L658.55,92.40 L658.80,92.47 L659.05,92.39 L659.30,92.33" fill="none" stroke="#f0832c" stroke-width="1.45" stroke-linejoin="round"/><path d="M376.30,157.22 L376.55,157.25 L376.80,157.27 L377.05,157.30 L377.30,157.28 L377.55,157.30 L377.80,157.17 L378.05,157.17 L378.30,157.25 L378.55,157.24 L378.80,157.27 L379.05,157.16 L379.30,157.16 L379.55,157.13 L379.80,157.15 L380.05,157.17 L380.30,157.09 L380.55,157.08 L380.80,157.08 L381.05,157.19 L381.30,157.21 L381.55,157.13 L381.80,157.19 L382.05,157.11 L382.30,157.15 L382.55,157.08 L382.80,157.03 L383.05,157.14 L383.30,157.09 L383.55,157.07 L383.80,157.18 L384.05,157.21 L384.30,157.13 L384.55,157.20 L384.80,157.17 L385.05,157.17 L385.30,157.09 L385.55,157.17 L385.80,157.17 L386.05,157.21 L386.30,157.22 L386.55,157.13 L386.80,157.09 L387.05,157.04 L387.30,157.01 L387.55,156.98 L387.80,157.00 L388.05,157.06 L388.30,156.99 L388.55,157.06 L388.80,157.04 L389.05,157.03 L389.30,157.10 L389.55,157.08 L389.80,157.04 L390.05,157.05 L390.30,157.09 L390.55,157.00 L390.80,157.10 L391.05,157.00 L391.30,157.06 L391.55,157.11 L391.80,157.00 L392.05,157.07 L392.30,157.03 L392.55,157.04 L392.80,156.96 L393.05,156.92 L393.30,156.92 L393.55,157.05 L393.80,156.98 L394.05,157.04 L394.30,157.10 L394.55,157.13 L394.80,157.04 L395.05,157.00 L395.30,157.01 L395.55,157.05 L395.80,156.96 L396.05,157.02 L396.30,157.05 L396.55,157.08 L396.80,156.96 L397.05,157.04 L397.30,156.95 L397.55,156.94 L397.80,156.97 L398.05,157.04 L398.30,156.98 L398.55,157.04 L398.80,157.01 L399.05,156.96 L399.30,156.93 L399.55,156.89 L399.80,156.85 L400.05,156.85 L400.30,156.93 L400.55,157.02 L400.80,156.92 L401.05,156.86 L401.30,156.98 L401.55,156.96 L401.80,156.93 L402.05,156.89 L402.30,156.92 L402.55,156.97 L402.80,156.94 L403.05,156.92 L403.30,156.84 L403.55,156.94 L403.80,156.85 L404.05,156.88 L404.30,156.94 L404.55,156.86 L404.80,156.92 L405.05,156.98 L405.30,156.96 L405.55,156.97 L405.80,156.87 L406.05,156.86 L406.30,156.82 L406.55,156.90 L406.80,156.86 L407.05,156.86 L407.30,156.95 L407.55,156.96 L407.80,156.99 L408.05,156.92 L408.30,156.89 L408.55,156.91 L408.80,156.88 L409.05,156.83 L409.30,156.83 L409.55,156.78 L409.80,156.79 L410.05,156.90 L410.30,156.94 L410.55,156.91 L410.80,156.87 L411.05,156.83 L411.30,156.76 L411.55,156.76 L411.80,156.84 L412.05,156.89 L412.30,156.83 L412.55,156.87 L412.80,156.89 L413.05,156.88 L413.30,156.88 L413.55,156.88 L413.80,156.83 L414.05,156.85 L414.30,156.79 L414.55,156.79 L414.80,156.84 L415.05,156.85 L415.30,156.79 L415.55,156.86 L415.80,156.85 L416.05,156.83 L416.30,156.73 L416.55,156.77 L416.80,156.74 L417.05,156.79 L417.30,156.78 L417.55,156.83 L417.80,156.83 L418.05,156.85 L418.30,156.79 L418.55,156.80 L418.80,156.82 L419.05,156.85 L419.30,156.78 L419.55,156.83 L419.80,156.85 L420.05,156.84 L420.30,156.87 L420.55,156.89 L420.80,156.82 L421.05,156.79 L421.30,156.72 L421.55,156.79 L421.80,156.84 L422.05,156.79 L422.30,156.80 L422.55,156.80 L422.80,156.81 L423.05,156.72 L423.30,156.77 L423.55,156.77 L423.80,156.78 L424.05,156.74 L424.30,156.76 L424.55,156.79 L424.80,156.78 L425.05,156.79 L425.30,156.68 L425.55,156.65 L425.80,156.67 L426.05,156.72 L426.30,156.67 L426.55,156.73 L426.80,156.74 L427.05,156.65 L427.30,156.68 L427.55,156.65 L427.80,156.61 L428.05,156.60 L428.30,156.62 L428.55,156.61 L428.80,156.61 L429.05,156.58 L429.30,156.64 L429.55,156.65 L429.80,156.69 L430.05,156.71 L430.30,156.66 L430.55,156.74 L430.80,156.64 L431.05,156.65 L431.30,156.64 L431.55,156.65 L431.80,156.61 L432.05,156.70 L432.30,156.67 L432.55,156.60 L432.80,156.66 L433.05,156.61 L433.30,156.65 L433.55,156.64 L433.80,156.67 L434.05,156.75 L434.30,156.76 L434.55,156.70 L434.80,156.74 L435.05,156.72 L435.30,156.67 L435.55,156.61 L435.80,156.65 L436.05,156.67 L436.30,156.73 L436.55,156.77 L436.80,156.73 L437.05,156.66 L437.30,156.72 L437.55,156.60 L437.80,156.56 L438.05,156.61 L438.30,156.64 L438.55,156.58 L438.80,156.62 L439.05,156.69 L439.30,156.63 L439.55,156.61 L439.80,156.57 L440.05,156.56 L440.30,156.66 L440.55,156.61 L440.80,156.67 L441.05,156.70 L441.30,156.66 L441.55,156.58 L441.80,156.65 L442.05,156.61 L442.30,156.57 L442.55,156.53 L442.80,156.61 L443.05,156.57 L443.30,156.51 L443.55,156.51 L443.80,156.45 L444.05,156.49 L444.30,156.48 L444.55,156.44 L444.80,156.49 L445.05,156.52 L445.30,156.40 L445.55,156.41 L445.80,156.37 L446.05,156.44 L446.30,156.44 L446.55,156.35 L446.80,156.29 L447.05,156.23 L447.30,156.32 L447.55,156.24 L447.80,156.23 L448.05,156.19 L448.30,156.17 L448.55,156.13 L448.80,156.11 L449.05,155.97 L449.30,155.97 L449.55,155.86 L449.80,155.81 L450.05,155.70 L450.30,155.59 L450.55,155.51 L450.80,155.40 L451.05,155.24 L451.30,155.14 L451.55,154.95 L451.80,154.64 L452.05,154.37 L452.30,154.09 L452.55,153.79 L452.80,153.37 L453.05,152.76 L453.30,151.92 L453.55,151.06 L453.80,149.83 L454.05,148.24 L454.30,146.11 L454.55,143.15 L454.80,139.06 L455.05,133.61 L455.30,126.57 L455.55,119.14 L455.80,114.26 L456.05,114.79 L456.30,120.50 L456.55,128.07 L456.80,134.70 L457.05,139.98 L457.30,143.82 L457.55,146.56 L457.80,148.55 L458.05,150.12 L458.30,151.32 L458.55,152.11 L458.80,152.80 L459.05,153.37 L459.30,153.81 L459.55,154.15 L459.80,154.41 L460.05,154.71 L460.30,154.98 L460.55,155.07 L460.80,155.20 L461.05,155.42 L461.30,155.57 L461.55,155.67 L461.80,155.65 L462.05,155.79 L462.30,155.93 L462.55,156.03 L462.80,156.05 L463.05,155.98 L463.30,156.09 L463.55,156.06 L463.80,156.13 L464.05,156.23 L464.30,156.25 L464.55,156.17 L464.80,156.17 L465.05,156.28 L465.30,156.22 L465.55,156.26 L465.80,156.26 L466.05,156.22 L466.30,156.28 L466.55,156.22 L466.80,156.20 L467.05,156.24 L467.30,156.21 L467.55,156.19 L467.80,156.26 L468.05,156.32 L468.30,156.37 L468.55,156.27 L468.80,156.26 L469.05,156.24 L469.30,156.26 L469.55,156.25 L469.80,156.31 L470.05,156.24 L470.30,156.14 L470.55,156.18 L470.80,156.10 L471.05,156.13 L471.30,156.10 L471.55,156.14 L471.80,156.08 L472.05,156.04 L472.30,155.94 L472.55,155.91 L472.80,155.82 L473.05,155.82 L473.30,155.74 L473.55,155.60 L473.80,155.51 L474.05,155.43 L474.30,155.39 L474.55,155.21 L474.80,155.14 L475.05,155.00 L475.30,154.75 L475.55,154.60 L475.80,154.31 L476.05,154.01 L476.30,153.76 L476.55,153.36 L476.80,153.00 L477.05,152.45 L477.30,151.77 L477.55,151.04 L477.80,149.96 L478.05,148.78 L478.30,147.11 L478.55,145.01 L478.80,142.37 L479.05,138.68 L479.30,133.56 L479.55,126.63 L479.80,117.61 L480.05,106.49 L480.30,95.58 L480.55,89.47 L480.80,92.22 L481.05,101.82 L481.30,113.27 L481.55,123.31 L481.80,131.11 L482.05,136.81 L482.30,141.01 L482.55,144.07 L482.80,146.49 L483.05,148.28 L483.30,149.69 L483.55,150.74 L483.80,151.65 L484.05,152.33 L484.30,152.91 L484.55,153.39 L484.80,153.81 L485.05,154.11 L485.30,154.34 L485.55,154.55 L485.80,154.77 L486.05,154.94 L486.30,155.23 L486.55,155.37 L486.80,155.55 L487.05,155.56 L487.30,155.69 L487.55,155.87 L487.80,155.95 L488.05,155.99 L488.30,156.05 L488.55,156.06 L488.80,156.09 L489.05,156.13 L489.30,156.21 L489.55,156.27 L489.80,156.40 L490.05,156.37 L490.30,156.39 L490.55,156.42 L490.80,156.43 L491.05,156.46 L491.30,156.49 L491.55,156.55 L491.80,156.52 L492.05,156.66 L492.30,156.66 L492.55,156.75 L492.80,156.77 L493.05,156.78 L493.30,156.77 L493.55,156.84 L493.80,156.76 L494.05,156.81 L494.30,156.78 L494.55,156.84 L494.80,156.88 L495.05,156.82 L495.30,156.80 L495.55,156.76 L495.80,156.79 L496.05,156.78 L496.30,156.83 L496.55,156.95 L496.80,156.92 L497.05,156.90 L497.30,156.92 L497.55,156.91 L497.80,156.98 L498.05,157.01 L498.30,156.94 L498.55,156.93 L498.80,156.99 L499.05,157.07 L499.30,157.07 L499.55,157.03 L499.80,157.11 L500.05,156.99 L500.30,156.95 L500.55,157.04 L500.80,157.03 L501.05,156.97 L501.30,157.03 L501.55,157.13 L501.80,157.11 L502.05,157.07 L502.30,157.01 L502.55,156.98 L502.80,157.11 L503.05,157.10 L503.30,157.18 L503.55,157.07 L503.80,157.05 L504.05,157.02 L504.30,157.06 L504.55,157.02 L504.80,157.04 L505.05,157.08 L505.30,157.08 L505.55,157.04 L505.80,157.02 L506.05,157.17 L506.30,157.11 L506.55,157.14 L506.80,157.14 L507.05,157.16 L507.30,157.10 L507.55,157.11 L507.80,157.08 L508.05,157.14 L508.30,157.23 L508.55,157.23 L508.80,157.27 L509.05,157.19 L509.30,157.12 L509.55,157.17 L509.80,157.19 L510.05,157.21 L510.30,157.19 L510.55,157.23 L510.80,157.26 L511.05,157.31 L511.30,157.24 L511.55,157.23 L511.80,157.28 L512.05,157.21 L512.30,157.17 L512.55,157.17 L512.80,157.14 L513.05,157.24 L513.30,157.29 L513.55,157.24 L513.80,157.19 L514.05,157.16 L514.30,157.17 L514.55,157.15 L514.80,157.19 L515.05,157.24 L515.30,157.21 L515.55,157.17 L515.80,157.25 L516.05,157.19 L516.30,157.19 L516.55,157.20 L516.80,157.22 L517.05,157.19 L517.30,157.22 L517.55,157.22 L517.80,157.30 L518.05,157.30 L518.30,157.36 L518.55,157.35 L518.80,157.36 L519.05,157.34 L519.30,157.31 L519.55,157.36 L519.80,157.35 L520.05,157.40 L520.30,157.39 L520.55,157.38 L520.80,157.31 L521.05,157.36 L521.30,157.31 L521.55,157.25 L521.80,157.21 L522.05,157.21 L522.30,157.22 L522.55,157.30 L522.80,157.27 L523.05,157.23 L523.30,157.31 L523.55,157.33 L523.80,157.25 L524.05,157.21 L524.30,157.21 L524.55,157.24 L524.80,157.34 L525.05,157.41 L525.30,157.38 L525.55,157.31 L525.80,157.31 L526.05,157.30 L526.30,157.29 L526.55,157.23 L526.80,157.30 L527.05,157.37 L527.30,157.39 L527.55,157.30 L527.80,157.32 L528.05,157.28 L528.30,157.34 L528.55,157.33 L528.80,157.40 L529.05,157.42 L529.30,157.32 L529.55,157.30 L529.80,157.39 L530.05,157.36 L530.30,157.34 L530.55,157.33 L530.80,157.38 L531.05,157.43 L531.30,157.39 L531.55,157.44 L531.80,157.41 L532.05,157.31 L532.30,157.38 L532.55,157.35 L532.80,157.28 L533.05,157.39 L533.30,157.29 L533.55,157.33 L533.80,157.34 L534.05,157.40 L534.30,157.36 L534.55,157.31 L534.80,157.29 L535.05,157.27 L535.30,157.32 L535.55,157.31 L535.80,157.37 L536.05,157.32 L536.30,157.31 L536.55,157.29 L536.80,157.39 L537.05,157.43 L537.30,157.44 L537.55,157.41 L537.80,157.36 L538.05,157.30 L538.30,157.38 L538.55,157.36 L538.80,157.28 L539.05,157.26 L539.30,157.24 L539.55,157.33 L539.80,157.40 L540.05,157.32 L540.30,157.38 L540.55,157.33 L540.80,157.37 L541.05,157.41 L541.30,157.40 L541.55,157.41 L541.80,157.36 L542.05,157.27 L542.30,157.30 L542.55,157.33 L542.80,157.28 L543.05,157.29 L543.30,157.28 L543.55,157.23 L543.80,157.25 L544.05,157.27 L544.30,157.29 L544.55,157.34 L544.80,157.31 L545.05,157.39 L545.30,157.41 L545.55,157.43 L545.80,157.40 L546.05,157.38 L546.30,157.35 L546.55,157.38 L546.80,157.32 L547.05,157.32 L547.30,157.34 L547.55,157.32 L547.80,157.27 L548.05,157.21 L548.30,157.18 L548.55,157.21 L548.80,157.25 L549.05,157.30 L549.30,157.32 L549.55,157.26 L549.80,157.32 L550.05,157.25 L550.30,157.28 L550.55,157.19 L550.80,157.25 L551.05,157.26 L551.30,157.31 L551.55,157.32 L551.80,157.28 L552.05,157.29 L552.30,157.27 L552.55,157.23 L552.80,157.14 L553.05,157.14 L553.30,157.19 L553.55,157.11 L553.80,157.17 L554.05,157.13 L554.30,157.07 L554.55,156.97 L554.80,156.97 L555.05,156.92 L555.30,156.96 L555.55,157.00 L555.80,157.00 L556.05,156.94 L556.30,156.85 L556.55,156.73 L556.80,156.74 L557.05,156.70 L557.30,156.66 L557.55,156.55 L557.80,156.54 L558.05,156.37 L558.30,156.24 L558.55,156.10 L558.80,156.01 L559.05,155.91 L559.30,155.64 L559.55,155.44 L559.80,155.20 L560.05,154.79 L560.30,154.32 L560.55,153.85 L560.80,153.27 L561.05,152.48 L561.30,151.40 L561.55,149.94 L561.80,148.06 L562.05,145.62 L562.30,142.57 L562.55,138.77 L562.80,134.94 L563.05,132.30 L563.30,132.10 L563.55,134.29 L563.80,137.91 L564.05,141.69 L564.30,145.01 L564.55,147.62 L564.80,149.54 L565.05,151.00 L565.30,152.19 L565.55,153.10 L565.80,153.81 L566.05,154.37 L566.30,154.71 L566.55,155.08 L566.80,155.43 L567.05,155.73 L567.30,155.85 L567.55,156.07 L567.80,156.21 L568.05,156.37 L568.30,156.39 L568.55,156.51 L568.80,156.63 L569.05,156.67 L569.30,156.65 L569.55,156.69 L569.80,156.72 L570.05,156.74 L570.30,156.79 L570.55,156.90 L570.80,156.89 L571.05,157.00 L571.30,157.07 L571.55,157.12 L571.80,157.16 L572.05,157.18 L572.30,157.23 L572.55,157.26 L572.80,157.24 L573.05,157.29 L573.30,157.18 L573.55,157.14 L573.80,157.11 L574.05,157.13 L574.30,157.17 L574.55,157.21 L574.80,157.27 L575.05,157.31 L575.30,157.23 L575.55,157.25 L575.80,157.28 L576.05,157.28 L576.30,157.24 L576.55,157.30 L576.80,157.29 L577.05,157.34 L577.30,157.34 L577.55,157.42 L577.80,157.46 L578.05,157.34 L578.30,157.39 L578.55,157.42 L578.80,157.36 L579.05,157.31 L579.30,157.34 L579.55,157.34 L579.80,157.40 L580.05,157.47 L580.30,157.41 L580.55,157.37 L580.80,157.39 L581.05,157.43 L581.30,157.47 L581.55,157.45 L581.80,157.40 L582.05,157.39 L582.30,157.46 L582.55,157.45 L582.80,157.37 L583.05,157.39 L583.30,157.37 L583.55,157.43 L583.80,157.37 L584.05,157.37 L584.30,157.35 L584.55,157.39 L584.80,157.50 L585.05,157.49 L585.30,157.45 L585.55,157.53 L585.80,157.43 L586.05,157.43 L586.30,157.50 L586.55,157.41 L586.80,157.48 L587.05,157.46 L587.30,157.39 L587.55,157.40 L587.80,157.43 L588.05,157.44 L588.30,157.47 L588.55,157.41 L588.80,157.40 L589.05,157.52 L589.30,157.50 L589.55,157.50 L589.80,157.43 L590.05,157.43 L590.30,157.54 L590.55,157.56 L590.80,157.54 L591.05,157.46 L591.30,157.48 L591.55,157.55 L591.80,157.54 L592.05,157.56 L592.30,157.63 L592.55,157.63 L592.80,157.63 L593.05,157.54 L593.30,157.50 L593.55,157.61 L593.80,157.61 L594.05,157.69 L594.30,157.73 L594.55,157.77 L594.80,157.72 L595.05,157.79 L595.30,157.80 L595.55,157.84 L595.80,157.74 L596.05,157.80 L596.30,157.79 L596.55,157.87 L596.80,157.93 L597.05,157.84 L597.30,157.84 L597.55,157.82 L597.80,157.85 L598.05,157.85 L598.30,157.91 L598.55,157.87 L598.80,157.86 L599.05,157.91 L599.30,157.88 L599.55,157.92 L599.80,158.04 L600.05,158.10 L600.30,158.03 L600.55,157.97 L600.80,158.08 L601.05,158.16 L601.30,158.15 L601.55,158.07 L601.80,158.06 L602.05,158.16 L602.30,158.23 L602.55,158.12 L602.80,158.09 L603.05,158.12 L603.30,158.11 L603.55,158.19 L603.80,158.17 L604.05,158.23 L604.30,158.16 L604.55,158.18 L604.80,158.27 L605.05,158.27 L605.30,158.17 L605.55,158.12 L605.80,158.18 L606.05,158.17 L606.30,158.16 L606.55,158.18 L606.80,158.20 L607.05,158.27 L607.30,158.19 L607.55,158.20 L607.80,158.15 L608.05,158.17 L608.30,158.21 L608.55,158.13 L608.80,158.14 L609.05,158.18 L609.30,158.08 L609.55,158.15 L609.80,158.12 L610.05,158.12 L610.30,158.12 L610.55,158.15 L610.80,158.04 L611.05,158.04 L611.30,157.96 L611.55,157.96 L611.80,157.94 L612.05,157.86 L612.30,157.84 L612.55,157.84 L612.80,157.84 L613.05,157.86 L613.30,157.74 L613.55,157.66 L613.80,157.61 L614.05,157.55 L614.30,157.46 L614.55,157.32 L614.80,157.04 L615.05,156.74 L615.30,156.54 L615.55,156.08 L615.80,155.63 L616.05,155.09 L616.30,154.33 L616.55,153.36 L616.80,152.31 L617.05,151.05 L617.30,150.03 L617.55,149.57 L617.80,149.71 L618.05,150.57 L618.30,151.75 L618.55,152.94 L618.80,153.92 L619.05,154.76 L619.30,155.36 L619.55,155.85 L619.80,156.28 L620.05,156.58 L620.30,156.96 L620.55,157.11 L620.80,157.25 L621.05,157.46 L621.30,157.60 L621.55,157.63 L621.80,157.77 L622.05,157.83 L622.30,157.85 L622.55,157.92 L622.80,157.91 L623.05,157.92 L623.30,158.04 L623.55,158.05 L623.80,158.13 L624.05,158.07 L624.30,158.04 L624.55,158.02 L624.80,158.12 L625.05,158.15 L625.30,158.09 L625.55,158.06 L625.80,158.18 L626.05,158.19 L626.30,158.25 L626.55,158.16 L626.80,158.20 L627.05,158.14 L627.30,158.21 L627.55,158.23 L627.80,158.23 L628.05,158.17 L628.30,158.26 L628.55,158.16 L628.80,158.10 L629.05,158.16 L629.30,158.09 L629.55,158.04 L629.80,158.07 L630.05,158.11 L630.30,158.15 L630.55,158.12 L630.80,157.99 L631.05,157.99 L631.30,157.99 L631.55,157.85 L631.80,157.83 L632.05,157.70 L632.30,157.58 L632.55,157.39 L632.80,157.33 L633.05,157.15 L633.30,156.97 L633.55,156.63 L633.80,156.18 L634.05,155.66 L634.30,155.05 L634.55,154.42 L634.80,153.52 L635.05,152.66 L635.30,152.10 L635.55,151.91 L635.80,152.30 L636.05,153.06 L636.30,153.93 L636.55,154.68 L636.80,155.35 L637.05,155.95 L637.30,156.46 L637.55,156.81 L637.80,157.10 L638.05,157.39 L638.30,157.49 L638.55,157.61 L638.80,157.76 L639.05,157.88 L639.30,158.04 L639.55,158.09 L639.80,158.16 L640.05,158.18 L640.30,158.27 L640.55,158.34 L640.80,158.30 L641.05,158.27 L641.30,158.29 L641.55,158.33 L641.80,158.44 L642.05,158.41 L642.30,158.46 L642.55,158.50 L642.80,158.57 L643.05,158.48 L643.30,158.55 L643.55,158.52 L643.80,158.48 L644.05,158.54 L644.30,158.62 L644.55,158.62 L644.80,158.54 L645.05,158.65 L645.30,158.62 L645.55,158.65 L645.80,158.68 L646.05,158.63 L646.30,158.63 L646.55,158.62 L646.80,158.58 L647.05,158.56 L647.30,158.66 L647.55,158.66 L647.80,158.74 L648.05,158.66 L648.30,158.66 L648.55,158.64 L648.80,158.76 L649.05,158.80 L649.30,158.84 L649.55,158.80 L649.80,158.72 L650.05,158.73 L650.30,158.71 L650.55,158.67 L650.80,158.74 L651.05,158.74 L651.30,158.71 L651.55,158.76 L651.80,158.86 L652.05,158.91 L652.30,158.87 L652.55,158.79 L652.80,158.86 L653.05,158.79 L653.30,158.83 L653.55,158.78 L653.80,158.90 L654.05,158.90 L654.30,158.88 L654.55,158.85 L654.80,158.88 L655.05,158.97 L655.30,158.92 L655.55,158.87 L655.80,158.90 L656.05,158.98 L656.30,158.94 L656.55,158.96 L656.80,159.02 L657.05,158.96 L657.30,159.01 L657.55,158.99 L657.80,158.92 L658.05,158.87 L658.30,159.00 L658.55,158.99 L658.80,158.98 L659.05,159.05 L659.30,159.04" fill="none" stroke="#ef5f5f" stroke-width="1.45" stroke-linejoin="round"/><path d="M376.30,218.05 L376.55,218.07 L376.80,218.03 L377.05,217.97 L377.30,217.89 L377.55,217.96 L377.80,217.95 L378.05,218.00 L378.30,217.95 L378.55,217.99 L378.80,217.93 L379.05,217.98 L379.30,217.99 L379.55,217.94 L379.80,217.93 L380.05,217.95 L380.30,217.87 L380.55,217.89 L380.80,217.94 L381.05,217.87 L381.30,217.92 L381.55,217.92 L381.80,217.95 L382.05,217.87 L382.30,217.79 L382.55,217.86 L382.80,217.90 L383.05,217.85 L383.30,217.77 L383.55,217.74 L383.80,217.79 L384.05,217.76 L384.30,217.85 L384.55,217.83 L384.80,217.75 L385.05,217.78 L385.30,217.75 L385.55,217.82 L385.80,217.85 L386.05,217.79 L386.30,217.78 L386.55,217.78 L386.80,217.80 L387.05,217.83 L387.30,217.69 L387.55,217.67 L387.80,217.69 L388.05,217.65 L388.30,217.68 L388.55,217.60 L388.80,217.69 L389.05,217.67 L389.30,217.59 L389.55,217.64 L389.80,217.60 L390.05,217.56 L390.30,217.58 L390.55,217.53 L390.80,217.52 L391.05,217.61 L391.30,217.62 L391.55,217.52 L391.80,217.58 L392.05,217.49 L392.30,217.49 L392.55,217.58 L392.80,217.57 L393.05,217.52 L393.30,217.50 L393.55,217.48 L393.80,217.43 L394.05,217.54 L394.30,217.44 L394.55,217.44 L394.80,217.50 L395.05,217.46 L395.30,217.53 L395.55,217.45 L395.80,217.52 L396.05,217.54 L396.30,217.50 L396.55,217.52 L396.80,217.45 L397.05,217.48 L397.30,217.48 L397.55,217.43 L397.80,217.40 L398.05,217.41 L398.30,217.37 L398.55,217.29 L398.80,217.36 L399.05,217.31 L399.30,217.32 L399.55,217.36 L399.80,217.28 L400.05,217.22 L400.30,217.20 L400.55,217.26 L400.80,217.25 L401.05,217.22 L401.30,217.24 L401.55,217.31 L401.80,217.24 L402.05,217.23 L402.30,217.29 L402.55,217.28 L402.80,217.21 L403.05,217.21 L403.30,217.20 L403.55,217.14 L403.80,217.15 L404.05,217.13 L404.30,217.20 L404.55,217.16 L404.80,217.19 L405.05,217.25 L405.30,217.26 L405.55,217.18 L405.80,217.17 L406.05,217.12 L406.30,217.10 L406.55,217.11 L406.80,217.15 L407.05,217.20 L407.30,217.11 L407.55,217.02 L407.80,217.04 L408.05,216.98 L408.30,216.95 L408.55,217.05 L408.80,216.99 L409.05,217.05 L409.30,217.02 L409.55,217.10 L409.80,217.12 L410.05,217.00 L410.30,216.96 L410.55,217.05 L410.80,217.04 L411.05,217.01 L411.30,217.04 L411.55,217.06 L411.80,217.02 L412.05,216.99 L412.30,216.91 L412.55,216.91 L412.80,216.87 L413.05,216.93 L413.30,216.95 L413.55,216.88 L413.80,216.93 L414.05,216.86 L414.30,216.82 L414.55,216.89 L414.80,216.89 L415.05,216.96 L415.30,216.95 L415.55,216.95 L415.80,216.86 L416.05,216.92 L416.30,216.83 L416.55,216.87 L416.80,216.93 L417.05,216.96 L417.30,216.97 L417.55,216.90 L417.80,216.90 L418.05,216.92 L418.30,216.82 L418.55,216.89 L418.80,216.93 L419.05,216.86 L419.30,216.88 L419.55,216.84 L419.80,216.79 L420.05,216.83 L420.30,216.74 L420.55,216.82 L420.80,216.88 L421.05,216.80 L421.30,216.86 L421.55,216.75 L421.80,216.82 L422.05,216.76 L422.30,216.84 L422.55,216.79 L422.80,216.84 L423.05,216.73 L423.30,216.68 L423.55,216.76 L423.80,216.78 L424.05,216.77 L424.30,216.68 L424.55,216.66 L424.80,216.68 L425.05,216.64 L425.30,216.76 L425.55,216.79 L425.80,216.83 L426.05,216.81 L426.30,216.74 L426.55,216.66 L426.80,216.73 L427.05,216.66 L427.30,216.70 L427.55,216.70 L427.80,216.70 L428.05,216.64 L428.30,216.61 L428.55,216.66 L428.80,216.61 L429.05,216.66 L429.30,216.62 L429.55,216.63 L429.80,216.61 L430.05,216.66 L430.30,216.66 L430.55,216.64 L430.80,216.62 L431.05,216.67 L431.30,216.75 L431.55,216.71 L431.80,216.64 L432.05,216.64 L432.30,216.62 L432.55,216.66 L432.80,216.72 L433.05,216.71 L433.30,216.65 L433.55,216.63 L433.80,216.64 L434.05,216.65 L434.30,216.64 L434.55,216.74 L434.80,216.71 L435.05,216.71 L435.30,216.72 L435.55,216.72 L435.80,216.74 L436.05,216.68 L436.30,216.69 L436.55,216.75 L436.80,216.64 L437.05,216.67 L437.30,216.64 L437.55,216.57 L437.80,216.53 L438.05,216.62 L438.30,216.57 L438.55,216.63 L438.80,216.56 L439.05,216.57 L439.30,216.52 L439.55,216.57 L439.80,216.64 L440.05,216.58 L440.30,216.60 L440.55,216.66 L440.80,216.59 L441.05,216.58 L441.30,216.62 L441.55,216.65 L441.80,216.55 L442.05,216.58 L442.30,216.51 L442.55,216.46 L442.80,216.58 L443.05,216.48 L443.30,216.57 L443.55,216.58 L443.80,216.57 L444.05,216.56 L444.30,216.54 L444.55,216.47 L444.80,216.45 L445.05,216.40 L445.30,216.47 L445.55,216.48 L445.80,216.48 L446.05,216.38 L446.30,216.38 L446.55,216.32 L446.80,216.36 L447.05,216.36 L447.30,216.39 L447.55,216.34 L447.80,216.30 L448.05,216.28 L448.30,216.14 L448.55,216.13 L448.80,216.01 L449.05,215.97 L449.30,215.89 L449.55,215.95 L449.80,215.79 L450.05,215.82 L450.30,215.79 L450.55,215.64 L450.80,215.57 L451.05,215.33 L451.30,215.15 L451.55,214.94 L451.80,214.73 L452.05,214.48 L452.30,214.33 L452.55,213.93 L452.80,213.57 L453.05,213.03 L453.30,212.35 L453.55,211.56 L453.80,210.47 L454.05,209.18 L454.30,207.26 L454.55,204.72 L454.80,201.25 L455.05,196.62 L455.30,190.83 L455.55,184.80 L455.80,180.82 L456.05,181.40 L456.30,185.91 L456.55,192.01 L456.80,197.64 L457.05,202.03 L457.30,205.35 L457.55,207.75 L457.80,209.48 L458.05,210.72 L458.30,211.76 L458.55,212.53 L458.80,213.20 L459.05,213.67 L459.30,214.08 L459.55,214.43 L459.80,214.65 L460.05,214.91 L460.30,215.13 L460.55,215.18 L460.80,215.39 L461.05,215.53 L461.30,215.64 L461.55,215.65 L461.80,215.68 L462.05,215.70 L462.30,215.77 L462.55,215.91 L462.80,215.92 L463.05,215.88 L463.30,215.93 L463.55,215.93 L463.80,216.03 L464.05,216.11 L464.30,216.19 L464.55,216.10 L464.80,216.11 L465.05,216.08 L465.30,216.20 L465.55,216.25 L465.80,216.23 L466.05,216.29 L466.30,216.25 L466.55,216.28 L466.80,216.24 L467.05,216.21 L467.30,216.29 L467.55,216.31 L467.80,216.27 L468.05,216.29 L468.30,216.27 L468.55,216.28 L468.80,216.16 L469.05,216.10 L469.30,216.07 L469.55,216.12 L469.80,216.16 L470.05,216.08 L470.30,216.08 L470.55,216.01 L470.80,216.06 L471.05,216.08 L471.30,215.97 L471.55,216.04 L471.80,216.00 L472.05,215.88 L472.30,215.83 L472.55,215.76 L472.80,215.78 L473.05,215.79 L473.30,215.65 L473.55,215.54 L473.80,215.52 L474.05,215.49 L474.30,215.41 L474.55,215.27 L474.80,215.07 L475.05,214.97 L475.30,214.81 L475.55,214.69 L475.80,214.47 L476.05,214.24 L476.30,214.00 L476.55,213.64 L476.80,213.26 L477.05,212.70 L477.30,212.02 L477.55,211.40 L477.80,210.42 L478.05,209.41 L478.30,207.94 L478.55,205.99 L478.80,203.53 L479.05,200.30 L479.30,195.83 L479.55,189.87 L479.80,181.97 L480.05,172.68 L480.30,163.63 L480.55,158.80 L480.80,160.93 L481.05,168.85 L481.30,178.43 L481.55,186.98 L481.80,193.63 L482.05,198.71 L482.30,202.50 L482.55,205.19 L482.80,207.30 L483.05,208.84 L483.30,210.21 L483.55,211.26 L483.80,212.04 L484.05,212.64 L484.30,213.09 L484.55,213.50 L484.80,213.94 L485.05,214.31 L485.30,214.64 L485.55,214.88 L485.80,215.02 L486.05,215.14 L486.30,215.31 L486.55,215.43 L486.80,215.57 L487.05,215.74 L487.30,215.81 L487.55,215.96 L487.80,216.04 L488.05,216.00 L488.30,216.12 L488.55,216.20 L488.80,216.26 L489.05,216.21 L489.30,216.35 L489.55,216.38 L489.80,216.42 L490.05,216.40 L490.30,216.39 L490.55,216.40 L490.80,216.45 L491.05,216.50 L491.30,216.52 L491.55,216.53 L491.80,216.65 L492.05,216.72 L492.30,216.79 L492.55,216.74 L492.80,216.80 L493.05,216.82 L493.30,216.76 L493.55,216.87 L493.80,216.84 L494.05,216.82 L494.30,216.81 L494.55,216.93 L494.80,216.89 L495.05,216.90 L495.30,216.94 L495.55,216.94 L495.80,216.99 L496.05,216.94 L496.30,216.97 L496.55,217.02 L496.80,217.05 L497.05,217.08 L497.30,217.04 L497.55,217.09 L497.80,217.17 L498.05,217.14 L498.30,217.16 L498.55,217.20 L498.80,217.14 L499.05,217.11 L499.30,217.22 L499.55,217.17 L499.80,217.17 L500.05,217.17 L500.30,217.27 L500.55,217.26 L500.80,217.31 L501.05,217.23 L501.30,217.21 L501.55,217.26 L501.80,217.24 L502.05,217.29 L502.30,217.30 L502.55,217.23 L502.80,217.21 L503.05,217.26 L503.30,217.30 L503.55,217.27 L503.80,217.28 L504.05,217.24 L504.30,217.27 L504.55,217.29 L504.80,217.32 L505.05,217.38 L505.30,217.45 L505.55,217.47 L505.80,217.48 L506.05,217.42 L506.30,217.43 L506.55,217.48 L506.80,217.53 L507.05,217.46 L507.30,217.39 L507.55,217.36 L507.80,217.43 L508.05,217.52 L508.30,217.46 L508.55,217.53 L508.80,217.55 L509.05,217.60 L509.30,217.63 L509.55,217.53 L509.80,217.59 L510.05,217.51 L510.30,217.48 L510.55,217.51 L510.80,217.54 L511.05,217.50 L511.30,217.51 L511.55,217.51 L511.80,217.50 L512.05,217.49 L512.30,217.48 L512.55,217.51 L512.80,217.55 L513.05,217.58 L513.30,217.65 L513.55,217.67 L513.80,217.67 L514.05,217.64 L514.30,217.68 L514.55,217.63 L514.80,217.61 L515.05,217.59 L515.30,217.67 L515.55,217.63 L515.80,217.63 L516.05,217.65 L516.30,217.70 L516.55,217.74 L516.80,217.75 L517.05,217.76 L517.30,217.71 L517.55,217.80 L517.80,217.82 L518.05,217.78 L518.30,217.76 L518.55,217.78 L518.80,217.72 L519.05,217.78 L519.30,217.85 L519.55,217.80 L519.80,217.80 L520.05,217.76 L520.30,217.85 L520.55,217.81 L520.80,217.80 L521.05,217.84 L521.30,217.82 L521.55,217.89 L521.80,217.85 L522.05,217.86 L522.30,217.82 L522.55,217.85 L522.80,217.85 L523.05,217.80 L523.30,217.89 L523.55,217.83 L523.80,217.87 L524.05,217.90 L524.30,217.89 L524.55,217.87 L524.80,217.87 L525.05,217.97 L525.30,217.86 L525.55,217.95 L525.80,217.95 L526.05,217.93 L526.30,217.95 L526.55,217.97 L526.80,218.01 L527.05,218.05 L527.30,218.00 L527.55,217.95 L527.80,217.93 L528.05,218.02 L528.30,217.99 L528.55,217.91 L528.80,217.96 L529.05,217.91 L529.30,217.93 L529.55,217.98 L529.80,218.01 L530.05,218.01 L530.30,218.06 L530.55,218.06 L530.80,218.11 L531.05,218.12 L531.30,218.04 L531.55,218.08 L531.80,218.04 L532.05,218.11 L532.30,218.10 L532.55,218.06 L532.80,218.01 L533.05,218.09 L533.30,218.06 L533.55,217.99 L533.80,218.08 L534.05,218.00 L534.30,217.97 L534.55,217.96 L534.80,218.05 L535.05,218.09 L535.30,218.09 L535.55,218.17 L535.80,218.14 L536.05,218.08 L536.30,218.18 L536.55,218.09 L536.80,218.04 L537.05,218.05 L537.30,218.17 L537.55,218.15 L537.80,218.13 L538.05,218.12 L538.30,218.12 L538.55,218.18 L538.80,218.20 L539.05,218.15 L539.30,218.12 L539.55,218.20 L539.80,218.20 L540.05,218.20 L540.30,218.15 L540.55,218.25 L540.80,218.23 L541.05,218.29 L541.30,218.28 L541.55,218.27 L541.80,218.17 L542.05,218.26 L542.30,218.30 L542.55,218.20 L542.80,218.15 L543.05,218.22 L543.30,218.26 L543.55,218.20 L543.80,218.30 L544.05,218.21 L544.30,218.25 L544.55,218.25 L544.80,218.23 L545.05,218.27 L545.30,218.26 L545.55,218.31 L545.80,218.33 L546.05,218.23 L546.30,218.22 L546.55,218.26 L546.80,218.24 L547.05,218.28 L547.30,218.20 L547.55,218.18 L547.80,218.24 L548.05,218.22 L548.30,218.20 L548.55,218.23 L548.80,218.28 L549.05,218.31 L549.30,218.31 L549.55,218.30 L549.80,218.28 L550.05,218.34 L550.30,218.37 L550.55,218.39 L550.80,218.40 L551.05,218.37 L551.30,218.27 L551.55,218.30 L551.80,218.25 L552.05,218.22 L552.30,218.22 L552.55,218.15 L552.80,218.18 L553.05,218.15 L553.30,218.14 L553.55,218.16 L553.80,218.21 L554.05,218.22 L554.30,218.16 L554.55,218.18 L554.80,218.14 L555.05,218.09 L555.30,218.07 L555.55,218.02 L555.80,217.96 L556.05,218.04 L556.30,218.00 L556.55,217.97 L556.80,217.92 L557.05,217.85 L557.30,217.80 L557.55,217.64 L557.80,217.53 L558.05,217.49 L558.30,217.41 L558.55,217.22 L558.80,217.09 L559.05,216.94 L559.30,216.86 L559.55,216.66 L559.80,216.27 L560.05,215.94 L560.30,215.51 L560.55,214.96 L560.80,214.31 L561.05,213.60 L561.30,212.57 L561.55,211.10 L561.80,209.32 L562.05,206.87 L562.30,203.91 L562.55,200.33 L562.80,196.88 L563.05,194.46 L563.30,194.29 L563.55,196.34 L563.80,199.78 L564.05,203.27 L564.30,206.41 L564.55,208.85 L564.80,210.73 L565.05,212.33 L565.30,213.37 L565.55,214.26 L565.80,214.95 L566.05,215.48 L566.30,216.02 L566.55,216.41 L566.80,216.66 L567.05,216.92 L567.30,217.17 L567.55,217.25 L567.80,217.45 L568.05,217.63 L568.30,217.73 L568.55,217.81 L568.80,217.85 L569.05,217.88 L569.30,217.94 L569.55,218.02 L569.80,218.07 L570.05,218.20 L570.30,218.18 L570.55,218.19 L570.80,218.32 L571.05,218.34 L571.30,218.31 L571.55,218.42 L571.80,218.37 L572.05,218.40 L572.30,218.44 L572.55,218.48 L572.80,218.47 L573.05,218.58 L573.30,218.59 L573.55,218.56 L573.80,218.61 L574.05,218.59 L574.30,218.62 L574.55,218.65 L574.80,218.61 L575.05,218.70 L575.30,218.62 L575.55,218.72 L575.80,218.70 L576.05,218.70 L576.30,218.65 L576.55,218.69 L576.80,218.68 L577.05,218.73 L577.30,218.77 L577.55,218.70 L577.80,218.66 L578.05,218.78 L578.30,218.73 L578.55,218.78 L578.80,218.82 L579.05,218.85 L579.30,218.74 L579.55,218.79 L579.80,218.85 L580.05,218.76 L580.30,218.71 L580.55,218.82 L580.80,218.85 L581.05,218.87 L581.30,218.90 L581.55,218.88 L581.80,218.81 L582.05,218.77 L582.30,218.73 L582.55,218.82 L582.80,218.86 L583.05,218.94 L583.30,218.86 L583.55,218.80 L583.80,218.81 L584.05,218.91 L584.30,218.85 L584.55,218.92 L584.80,218.92 L585.05,218.94 L585.30,218.85 L585.55,218.91 L585.80,218.88 L586.05,218.92 L586.30,218.83 L586.55,218.83 L586.80,218.87 L587.05,218.84 L587.30,218.87 L587.55,218.82 L587.80,218.82 L588.05,218.88 L588.30,218.86 L588.55,218.95 L588.80,218.90 L589.05,218.87 L589.30,218.87 L589.55,218.91 L589.80,218.87 L590.05,218.96 L590.30,218.88 L590.55,218.91 L590.80,218.96 L591.05,218.89 L591.30,218.85 L591.55,218.88 L591.80,218.94 L592.05,218.97 L592.30,218.99 L592.55,218.97 L592.80,218.86 L593.05,218.94 L593.30,218.86 L593.55,218.79 L593.80,218.83 L594.05,218.78 L594.30,218.75 L594.55,218.76 L594.80,218.89 L595.05,218.84 L595.30,218.90 L595.55,218.95 L595.80,218.85 L596.05,218.79 L596.30,218.77 L596.55,218.82 L596.80,218.86 L597.05,218.82 L597.30,218.86 L597.55,218.77 L597.80,218.72 L598.05,218.74 L598.30,218.80 L598.55,218.86 L598.80,218.90 L599.05,218.91 L599.30,218.92 L599.55,218.87 L599.80,218.82 L600.05,218.72 L600.30,218.76 L600.55,218.83 L600.80,218.84 L601.05,218.79 L601.30,218.80 L601.55,218.82 L601.80,218.86 L602.05,218.83 L602.30,218.80 L602.55,218.84 L602.80,218.86 L603.05,218.71 L603.30,218.79 L603.55,218.72 L603.80,218.64 L604.05,218.64 L604.30,218.61 L604.55,218.58 L604.80,218.69 L605.05,218.67 L605.30,218.62 L605.55,218.69 L605.80,218.64 L606.05,218.64 L606.30,218.64 L606.55,218.63 L606.80,218.68 L607.05,218.62 L607.30,218.69 L607.55,218.66 L607.80,218.64 L608.05,218.61 L608.30,218.69 L608.55,218.61 L608.80,218.60 L609.05,218.56 L609.30,218.52 L609.55,218.47 L609.80,218.55 L610.05,218.60 L610.30,218.54 L610.55,218.53 L610.80,218.57 L611.05,218.46 L611.30,218.43 L611.55,218.47 L611.80,218.40 L612.05,218.36 L612.30,218.36 L612.55,218.30 L612.80,218.23 L613.05,218.15 L613.30,218.23 L613.55,218.20 L613.80,218.06 L614.05,217.91 L614.30,217.85 L614.55,217.74 L614.80,217.66 L615.05,217.42 L615.30,217.11 L615.55,216.90 L615.80,216.45 L616.05,215.95 L616.30,215.33 L616.55,214.68 L616.80,213.87 L617.05,212.89 L617.30,212.13 L617.55,211.76 L617.80,211.90 L618.05,212.58 L618.30,213.41 L618.55,214.35 L618.80,215.08 L619.05,215.69 L619.30,216.20 L619.55,216.61 L619.80,217.06 L620.05,217.26 L620.30,217.51 L620.55,217.59 L620.80,217.82 L621.05,217.96 L621.30,218.05 L621.55,218.18 L621.80,218.12 L622.05,218.23 L622.30,218.20 L622.55,218.33 L622.80,218.26 L623.05,218.29 L623.30,218.35 L623.55,218.38 L623.80,218.45 L624.05,218.38 L624.30,218.48 L624.55,218.40 L624.80,218.51 L625.05,218.54 L625.30,218.44 L625.55,218.40 L625.80,218.39 L626.05,218.38 L626.30,218.39 L626.55,218.40 L626.80,218.45 L627.05,218.48 L627.30,218.45 L627.55,218.55 L627.80,218.53 L628.05,218.51 L628.30,218.55 L628.55,218.52 L628.80,218.55 L629.05,218.55 L629.30,218.47 L629.55,218.50 L629.80,218.47 L630.05,218.34 L630.30,218.31 L630.55,218.34 L630.80,218.34 L631.05,218.32 L631.30,218.29 L631.55,218.24 L631.80,218.20 L632.05,218.04 L632.30,218.00 L632.55,217.91 L632.80,217.77 L633.05,217.50 L633.30,217.29 L633.55,217.06 L633.80,216.74 L634.05,216.21 L634.30,215.59 L634.55,214.99 L634.80,214.22 L635.05,213.58 L635.30,213.05 L635.55,212.91 L635.80,213.31 L636.05,213.93 L636.30,214.57 L636.55,215.31 L636.80,215.91 L637.05,216.43 L637.30,216.90 L637.55,217.28 L637.80,217.43 L638.05,217.58 L638.30,217.87 L638.55,217.94 L638.80,218.14 L639.05,218.24 L639.30,218.32 L639.55,218.40 L639.80,218.42 L640.05,218.53 L640.30,218.62 L640.55,218.58 L640.80,218.56 L641.05,218.60 L641.30,218.62 L641.55,218.67 L641.80,218.77 L642.05,218.73 L642.30,218.82 L642.55,218.77 L642.80,218.77 L643.05,218.83 L643.30,218.86 L643.55,218.92 L643.80,218.91 L644.05,218.86 L644.30,218.92 L644.55,218.87 L644.80,218.81 L645.05,218.83 L645.30,218.95 L645.55,218.86 L645.80,218.96 L646.05,218.99 L646.30,219.00 L646.55,219.00 L646.80,218.94 L647.05,218.96 L647.30,219.05 L647.55,219.08 L647.80,219.03 L648.05,219.01 L648.30,219.00 L648.55,218.99 L648.80,218.99 L649.05,218.97 L649.30,219.08 L649.55,218.99 L649.80,218.97 L650.05,219.04 L650.30,219.11 L650.55,219.13 L650.80,219.05 L651.05,219.07 L651.30,219.17 L651.55,219.20 L651.80,219.11 L652.05,219.20 L652.30,219.24 L652.55,219.13 L652.80,219.19 L653.05,219.12 L653.30,219.07 L653.55,219.10 L653.80,219.21 L654.05,219.23 L654.30,219.15 L654.55,219.23 L654.80,219.18 L655.05,219.24 L655.30,219.23 L655.55,219.24 L655.80,219.23 L656.05,219.25 L656.30,219.26 L656.55,219.31 L656.80,219.28 L657.05,219.32 L657.30,219.29 L657.55,219.21 L657.80,219.26 L658.05,219.32 L658.30,219.29 L658.55,219.27 L658.80,219.30 L659.05,219.26 L659.30,219.24" fill="none" stroke="#e3173a" stroke-width="1.45" stroke-linejoin="round"/><line x1="456.30" y1="19.0" x2="456.30" y2="227.0" stroke="#838383" stroke-width="1.3" stroke-dasharray="5.3 4.6" stroke-dashoffset="-0.7"/><line x1="481.08" y1="19.0" x2="481.08" y2="227.0" stroke="#838383" stroke-width="1.3" stroke-dasharray="5.3 4.6" stroke-dashoffset="-0.7"/><line x1="563.39" y1="19.0" x2="563.39" y2="227.0" stroke="#838383" stroke-width="1.3" stroke-dasharray="5.3 4.6" stroke-dashoffset="-0.7"/><line x1="617.73" y1="19.0" x2="617.73" y2="227.0" stroke="#838383" stroke-width="1.3" stroke-dasharray="5.3 4.6" stroke-dashoffset="-0.7"/><line x1="635.61" y1="19.0" x2="635.61" y2="227.0" stroke="#838383" stroke-width="1.3" stroke-dasharray="5.3 4.6" stroke-dashoffset="-0.7"/><rect x="376.3" y="19.0" width="283.2" height="208.5" fill="none" stroke="#3a3a3a" stroke-width="1"/><line x1="411.70" y1="227.5" x2="411.70" y2="223.5" stroke="#3a3a3a" stroke-width="1"/><line x1="411.70" y1="19.0" x2="411.70" y2="23.0" stroke="#3a3a3a" stroke-width="1"/><line x1="447.10" y1="227.5" x2="447.10" y2="223.5" stroke="#3a3a3a" stroke-width="1"/><line x1="447.10" y1="19.0" x2="447.10" y2="23.0" stroke="#3a3a3a" stroke-width="1"/><line x1="482.50" y1="227.5" x2="482.50" y2="223.5" stroke="#3a3a3a" stroke-width="1"/><line x1="482.50" y1="19.0" x2="482.50" y2="23.0" stroke="#3a3a3a" stroke-width="1"/><line x1="517.90" y1="227.5" x2="517.90" y2="223.5" stroke="#3a3a3a" stroke-width="1"/><line x1="517.90" y1="19.0" x2="517.90" y2="23.0" stroke="#3a3a3a" stroke-width="1"/><line x1="553.30" y1="227.5" x2="553.30" y2="223.5" stroke="#3a3a3a" stroke-width="1"/><line x1="553.30" y1="19.0" x2="553.30" y2="23.0" stroke="#3a3a3a" stroke-width="1"/><line x1="588.70" y1="227.5" x2="588.70" y2="223.5" stroke="#3a3a3a" stroke-width="1"/><line x1="588.70" y1="19.0" x2="588.70" y2="23.0" stroke="#3a3a3a" stroke-width="1"/><line x1="624.10" y1="227.5" x2="624.10" y2="223.5" stroke="#3a3a3a" stroke-width="1"/><line x1="624.10" y1="19.0" x2="624.10" y2="23.0" stroke="#3a3a3a" stroke-width="1"/><text x="376.30" y="243.5" font-size="14.5" text-anchor="middle">20</text><text x="447.10" y="243.5" font-size="14.5" text-anchor="middle">40</text><text x="517.90" y="243.5" font-size="14.5" text-anchor="middle">60</text><text x="588.70" y="243.5" font-size="14.5" text-anchor="middle">80</text><text x="659.50" y="243.5" font-size="14.5" text-anchor="middle">100</text><text x="517.90" y="261.7" font-size="14" text-anchor="middle">2θ (°)</text><path d="M25.30,366.37 L25.55,366.19 L25.80,366.40 L26.05,366.14 L26.30,366.28 L26.55,366.24 L26.80,366.03 L27.05,366.18 L27.30,365.97 L27.55,366.09 L27.80,365.92 L28.05,365.84 L28.30,365.99 L28.55,366.30 L28.80,366.02 L29.05,365.93 L29.30,366.12 L29.55,366.40 L29.80,366.31 L30.05,366.15 L30.30,366.40 L30.55,365.96 L30.80,366.22 L31.05,366.00 L31.30,365.80 L31.55,365.67 L31.80,365.71 L32.05,366.02 L32.30,365.79 L32.55,365.91 L32.80,365.99 L33.05,365.86 L33.30,365.89 L33.55,365.61 L33.80,365.45 L34.05,365.46 L34.30,365.73 L34.55,365.71 L34.80,365.62 L35.05,365.73 L35.30,365.69 L35.55,365.57 L35.80,365.80 L36.05,365.85 L36.30,365.59 L36.55,365.64 L36.80,365.63 L37.05,365.83 L37.30,365.83 L37.55,365.55 L37.80,365.82 L38.05,365.42 L38.30,365.39 L38.55,365.57 L38.80,365.29 L39.05,365.33 L39.30,365.08 L39.55,365.31 L39.80,365.48 L40.05,365.43 L40.30,365.58 L40.55,365.30 L40.80,365.38 L41.05,365.35 L41.30,365.31 L41.55,365.20 L41.80,365.37 L42.05,365.50 L42.30,365.27 L42.55,365.25 L42.80,364.87 L43.05,365.04 L43.30,365.09 L43.55,365.30 L43.80,365.29 L44.05,364.95 L44.30,364.82 L44.55,364.91 L44.80,364.55 L45.05,364.62 L45.30,364.47 L45.55,364.34 L45.80,364.23 L46.05,364.58 L46.30,364.36 L46.55,364.30 L46.80,364.34 L47.05,364.64 L47.30,364.29 L47.55,364.32 L47.80,364.38 L48.05,364.60 L48.30,364.65 L48.55,364.68 L48.80,364.33 L49.05,364.22 L49.30,364.12 L49.55,364.37 L49.80,364.52 L50.05,364.09 L50.30,363.87 L50.55,363.78 L50.80,363.72 L51.05,363.83 L51.30,363.92 L51.55,363.76 L51.80,363.51 L52.05,363.61 L52.30,363.62 L52.55,363.72 L52.80,363.99 L53.05,363.95 L53.30,363.81 L53.55,363.78 L53.80,363.79 L54.05,363.40 L54.30,363.70 L54.55,363.76 L54.80,363.83 L55.05,363.81 L55.30,363.54 L55.55,363.39 L55.80,363.12 L56.05,363.29 L56.30,363.02 L56.55,362.87 L56.80,362.86 L57.05,362.82 L57.30,362.89 L57.55,362.73 L57.80,362.61 L58.05,362.62 L58.30,362.59 L58.55,362.71 L58.80,362.55 L59.05,362.97 L59.30,363.01 L59.55,362.73 L59.80,362.64 L60.05,362.64 L60.30,362.63 L60.55,362.47 L60.80,362.80 L61.05,363.05 L61.30,362.83 L61.55,362.73 L61.80,362.42 L62.05,362.26 L62.30,362.31 L62.55,362.27 L62.80,362.57 L63.05,362.31 L63.30,362.08 L63.55,362.51 L63.80,362.45 L64.05,362.18 L64.30,362.27 L64.55,361.98 L64.80,362.13 L65.05,362.46 L65.30,362.54 L65.55,362.46 L65.80,362.14 L66.05,362.03 L66.30,361.84 L66.55,362.10 L66.80,362.06 L67.05,362.18 L67.30,361.95 L67.55,361.76 L67.80,362.00 L68.05,362.20 L68.30,362.21 L68.55,362.17 L68.80,362.14 L69.05,362.07 L69.30,361.70 L69.55,361.68 L69.80,361.55 L70.05,361.28 L70.30,361.12 L70.55,361.18 L70.80,361.18 L71.05,361.42 L71.30,361.68 L71.55,361.49 L71.80,361.67 L72.05,361.77 L72.30,361.78 L72.55,361.41 L72.80,361.12 L73.05,360.96 L73.30,360.84 L73.55,360.77 L73.80,360.96 L74.05,361.20 L74.30,361.27 L74.55,361.06 L74.80,361.04 L75.05,361.10 L75.30,360.68 L75.55,360.79 L75.80,360.98 L76.05,360.97 L76.30,360.93 L76.55,360.72 L76.80,360.42 L77.05,360.61 L77.30,360.41 L77.55,360.57 L77.80,360.73 L78.05,360.45 L78.30,360.29 L78.55,360.51 L78.80,360.47 L79.05,360.10 L79.30,359.86 L79.55,359.74 L79.80,360.11 L80.05,360.22 L80.30,359.85 L80.55,360.06 L80.80,360.24 L81.05,360.11 L81.30,359.85 L81.55,359.81 L81.80,359.53 L82.05,359.30 L82.30,359.74 L82.55,359.75 L82.80,359.66 L83.05,359.85 L83.30,359.62 L83.55,359.76 L83.80,359.78 L84.05,359.41 L84.30,359.24 L84.55,359.16 L84.80,359.07 L85.05,359.23 L85.30,359.09 L85.55,359.11 L85.80,358.94 L86.05,359.30 L86.30,359.14 L86.55,359.12 L86.80,359.17 L87.05,359.38 L87.30,359.19 L87.55,359.38 L87.80,359.22 L88.05,359.15 L88.30,359.10 L88.55,358.77 L88.80,358.85 L89.05,358.72 L89.30,358.55 L89.55,358.93 L89.80,358.74 L90.05,358.82 L90.30,359.00 L90.55,358.99 L90.80,358.84 L91.05,358.87 L91.30,358.90 L91.55,359.05 L91.80,358.70 L92.05,358.80 L92.30,358.65 L92.55,358.59 L92.80,358.84 L93.05,358.80 L93.30,358.80 L93.55,358.91 L93.80,359.05 L94.05,358.83 L94.30,358.80 L94.55,358.72 L94.80,358.66 L95.05,358.73 L95.30,358.61 L95.55,358.57 L95.80,358.51 L96.05,358.73 L96.30,358.68 L96.55,358.73 L96.80,358.78 L97.05,358.37 L97.30,358.31 L97.55,358.49 L97.80,358.49 L98.05,358.04 L98.30,357.77 L98.55,357.80 L98.80,357.56 L99.05,357.51 L99.30,357.35 L99.55,357.60 L99.80,357.75 L100.05,357.86 L100.30,357.44 L100.55,357.52 L100.80,357.50 L101.05,357.14 L101.30,357.36 L101.55,357.49 L101.80,357.06 L102.05,357.25 L102.30,356.98 L102.55,356.85 L102.80,357.05 L103.05,357.02 L103.30,356.56 L103.55,356.45 L103.80,356.41 L104.05,356.24 L104.30,356.03 L104.55,355.96 L104.80,356.13 L105.05,355.75 L105.30,355.84 L105.55,355.77 L105.80,355.44 L106.05,355.42 L106.30,355.54 L106.55,355.48 L106.80,355.13 L107.05,355.46 L107.30,355.45 L107.55,355.49 L107.80,354.94 L108.05,354.69 L108.30,354.36 L108.55,354.57 L108.80,354.30 L109.05,353.96 L109.30,353.83 L109.55,353.92 L109.80,353.78 L110.05,353.24 L110.30,352.79 L110.55,352.93 L110.80,352.72 L111.05,352.65 L111.30,352.20 L111.55,351.87 L111.80,351.99 L112.05,351.75 L112.30,351.24 L112.55,351.27 L112.80,350.79 L113.05,350.40 L113.30,349.78 L113.55,350.23 L113.80,350.32 L114.05,351.05 L114.30,351.27 L114.55,351.37 L114.80,351.58 L115.05,351.94 L115.30,351.73 L115.55,351.56 L115.80,351.74 L116.05,351.69 L116.30,351.63 L116.55,351.68 L116.80,351.69 L117.05,351.84 L117.30,352.04 L117.55,352.18 L117.80,352.56 L118.05,352.51 L118.30,352.62 L118.55,352.49 L118.80,352.50 L119.05,352.27 L119.30,352.21 L119.55,351.91 L119.80,351.92 L120.05,351.46 L120.30,350.53 L120.55,349.63 L120.80,348.66 L121.05,346.60 L121.30,344.51 L121.55,341.16 L121.80,336.97 L122.05,333.22 L122.30,331.99 L122.55,334.22 L122.80,337.30 L123.05,339.74 L123.30,340.83 L123.55,341.78 L123.80,342.26 L124.05,342.54 L124.30,342.64 L124.55,342.75 L124.80,342.68 L125.05,342.69 L125.30,342.59 L125.55,342.72 L125.80,342.05 L126.05,341.11 L126.30,340.70 L126.55,342.16 L126.80,343.95 L127.05,345.22 L127.30,345.92 L127.55,346.48 L127.80,346.99 L128.05,347.59 L128.30,347.99 L128.55,348.66 L128.80,349.15 L129.05,350.06 L129.30,350.72 L129.55,350.93 L129.80,350.90 L130.05,351.27 L130.30,350.92 L130.55,350.58 L130.80,349.94 L131.05,349.53 L131.30,348.99 L131.55,348.25 L131.80,347.11 L132.05,345.98 L132.30,344.15 L132.55,342.10 L132.80,339.19 L133.05,335.65 L133.30,331.67 L133.55,329.83 L133.80,331.31 L134.05,333.79 L134.30,335.89 L134.55,337.05 L134.80,337.75 L135.05,337.95 L135.30,337.99 L135.55,338.02 L135.80,337.65 L136.05,337.37 L136.30,337.60 L136.55,337.24 L136.80,337.93 L137.05,338.93 L137.30,339.56 L137.55,340.44 L137.80,340.41 L138.05,339.73 L138.30,338.80 L138.55,337.42 L138.80,334.86 L139.05,331.54 L139.30,326.63 L139.55,321.50 L139.80,320.10 L140.05,323.28 L140.30,326.51 L140.55,328.40 L140.80,328.74 L141.05,328.15 L141.30,326.55 L141.55,324.24 L141.80,321.24 L142.05,317.24 L142.30,311.46 L142.55,304.37 L142.80,296.21 L143.05,291.07 L143.30,292.57 L143.55,298.96 L143.80,305.69 L144.05,310.64 L144.30,314.61 L144.55,317.21 L144.80,318.82 L145.05,320.02 L145.30,321.01 L145.55,321.97 L145.80,325.53 L146.05,329.70 L146.30,333.56 L146.55,336.02 L146.80,336.88 L147.05,336.99 L147.30,337.25 L147.55,337.20 L147.80,336.32 L148.05,335.10 L148.30,334.23 L148.55,334.69 L148.80,336.22 L149.05,337.71 L149.30,338.91 L149.55,339.50 L149.80,340.14 L150.05,340.85 L150.30,342.08 L150.55,343.14 L150.80,344.51 L151.05,345.42 L151.30,346.28 L151.55,346.94 L151.80,347.64 L152.05,348.19 L152.30,348.62 L152.55,348.76 L152.80,349.10 L153.05,349.36 L153.30,349.59 L153.55,349.58 L153.80,350.09 L154.05,349.98 L154.30,350.40 L154.55,350.58 L154.80,350.07 L155.05,350.02 L155.30,350.13 L155.55,350.18 L155.80,349.79 L156.05,349.37 L156.30,349.01 L156.55,349.16 L156.80,348.69 L157.05,348.57 L157.30,348.16 L157.55,348.11 L157.80,348.29 L158.05,347.85 L158.30,348.05 L158.55,347.97 L158.80,348.18 L159.05,348.18 L159.30,347.92 L159.55,348.20 L159.80,348.10 L160.05,347.77 L160.30,347.59 L160.55,347.78 L160.80,347.82 L161.05,347.69 L161.30,347.38 L161.55,347.11 L161.80,346.64 L162.05,346.52 L162.30,346.26 L162.55,347.22 L162.80,348.21 L163.05,348.52 L163.30,349.31 L163.55,349.70 L163.80,350.09 L164.05,349.99 L164.30,350.05 L164.55,350.13 L164.80,350.57 L165.05,350.56 L165.30,350.43 L165.55,350.40 L165.80,350.25 L166.05,349.95 L166.30,349.66 L166.55,349.65 L166.80,348.77 L167.05,347.86 L167.30,346.10 L167.55,345.49 L167.80,346.85 L168.05,348.36 L168.30,349.59 L168.55,350.71 L168.80,351.34 L169.05,351.68 L169.30,351.80 L169.55,352.07 L169.80,352.25 L170.05,352.12 L170.30,352.16 L170.55,351.76 L170.80,351.96 L171.05,351.87 L171.30,351.97 L171.55,351.93 L171.80,351.66 L172.05,351.34 L172.30,351.67 L172.55,351.32 L172.80,351.32 L173.05,351.20 L173.30,351.08 L173.55,351.26 L173.80,351.46 L174.05,351.11 L174.30,351.15 L174.55,350.95 L174.80,351.00 L175.05,350.94 L175.30,350.77 L175.55,350.68 L175.80,350.67 L176.05,351.08 L176.30,351.04 L176.55,350.85 L176.80,351.17 L177.05,351.38 L177.30,351.16 L177.55,350.86 L177.80,350.73 L178.05,350.60 L178.30,350.67 L178.55,350.55 L178.80,350.55 L179.05,350.53 L179.30,350.66 L179.55,350.85 L179.80,350.78 L180.05,350.43 L180.30,350.10 L180.55,349.87 L180.80,349.58 L181.05,349.47 L181.30,349.43 L181.55,349.74 L181.80,350.46 L182.05,350.42 L182.30,350.70 L182.55,350.97 L182.80,351.28 L183.05,351.09 L183.30,351.05 L183.55,351.04 L183.80,351.14 L184.05,351.24 L184.30,351.61 L184.55,351.75 L184.80,351.84 L185.05,351.39 L185.30,351.18 L185.55,351.49 L185.80,351.76 L186.05,351.65 L186.30,351.67 L186.55,351.33 L186.80,351.40 L187.05,351.76 L187.30,351.88 L187.55,351.96 L187.80,352.08 L188.05,351.70 L188.30,351.43 L188.55,351.32 L188.80,351.48 L189.05,351.66 L189.30,351.90 L189.55,351.88 L189.80,351.82 L190.05,351.85 L190.30,351.66 L190.55,351.61 L190.80,351.25 L191.05,351.48 L191.30,351.22 L191.55,351.44 L191.80,351.30 L192.05,350.91 L192.30,350.48 L192.55,350.19 L192.80,350.21 L193.05,350.30 L193.30,350.15 L193.55,350.23 L193.80,350.68 L194.05,351.02 L194.30,351.14 L194.55,351.15 L194.80,351.41 L195.05,351.21 L195.30,351.30 L195.55,351.46 L195.80,351.85 L196.05,351.87 L196.30,352.04 L196.55,351.88 L196.80,351.66 L197.05,351.57 L197.30,351.95 L197.55,352.00 L197.80,351.79 L198.05,351.51 L198.30,351.66 L198.55,351.84 L198.80,351.78 L199.05,351.64 L199.30,351.82 L199.55,352.05 L199.80,351.74 L200.05,351.45 L200.30,351.47 L200.55,351.49 L200.80,351.60 L201.05,351.29 L201.30,351.38 L201.55,351.26 L201.80,350.96 L202.05,350.68 L202.30,351.17 L202.55,351.19 L202.80,351.60 L203.05,351.51 L203.30,351.49 L203.55,351.83 L203.80,351.74 L204.05,352.11 L204.30,352.03 L204.55,351.82 L204.80,351.75 L205.05,351.84 L205.30,352.05 L205.55,352.34 L205.80,352.03 L206.05,352.05 L206.30,351.98 L206.55,352.43 L206.80,352.19 L207.05,352.04 L207.30,352.01 L207.55,352.24 L207.80,352.69 L208.05,352.94 L208.30,353.02 L208.55,353.25 L208.80,353.37 L209.05,353.11 L209.30,352.93 L209.55,353.33 L209.80,353.45 L210.05,353.12 L210.30,353.37 L210.55,353.35 L210.80,353.37 L211.05,353.39 L211.30,353.32 L211.55,353.21 L211.80,353.34 L212.05,353.47 L212.30,353.91 L212.55,353.63 L212.80,354.01 L213.05,353.75 L213.30,353.71 L213.55,353.98 L213.80,354.13 L214.05,353.97 L214.30,353.67 L214.55,353.78 L214.80,353.79 L215.05,354.12 L215.30,353.86 L215.55,353.84 L215.80,354.16 L216.05,353.80 L216.30,353.86 L216.55,354.13 L216.80,354.25 L217.05,353.88 L217.30,353.70 L217.55,353.63 L217.80,354.11 L218.05,353.96 L218.30,354.19 L218.55,354.40 L218.80,354.17 L219.05,354.02 L219.30,354.37 L219.55,354.34 L219.80,354.12 L220.05,354.28 L220.30,354.13 L220.55,354.03 L220.80,353.83 L221.05,354.18 L221.30,354.46 L221.55,354.43 L221.80,354.61 L222.05,354.15 L222.30,354.05 L222.55,354.14 L222.80,354.49 L223.05,354.66 L223.30,354.41 L223.55,354.21 L223.80,354.21 L224.05,354.26 L224.30,354.55 L224.55,354.25 L224.80,354.47 L225.05,354.55 L225.30,354.64 L225.55,354.66 L225.80,354.57 L226.05,354.36 L226.30,354.25 L226.55,354.22 L226.80,354.46 L227.05,354.17 L227.30,354.09 L227.55,354.38 L227.80,354.23 L228.05,354.05 L228.30,353.94 L228.55,354.19 L228.80,354.19 L229.05,354.58 L229.30,354.72 L229.55,354.85 L229.80,354.48 L230.05,354.19 L230.30,354.05 L230.55,354.23 L230.80,354.44 L231.05,354.39 L231.30,354.23 L231.55,354.27 L231.80,354.41 L232.05,354.51 L232.30,354.60 L232.55,354.71 L232.80,354.66 L233.05,354.30 L233.30,354.56 L233.55,354.36 L233.80,354.42 L234.05,354.34 L234.30,354.51 L234.55,354.28 L234.80,354.19 L235.05,354.15 L235.30,354.07 L235.55,354.47 L235.80,354.48 L236.05,354.34 L236.30,354.31 L236.55,354.65 L236.80,354.54 L237.05,354.31 L237.30,354.54 L237.55,354.57 L237.80,354.78 L238.05,354.36 L238.30,354.37 L238.55,354.58 L238.80,354.70 L239.05,354.80 L239.30,354.33 L239.55,354.24 L239.80,354.10 L240.05,354.07 L240.30,354.52 L240.55,354.51 L240.80,354.72 L241.05,354.49 L241.30,354.67 L241.55,354.51 L241.80,354.31 L242.05,354.53 L242.30,354.73 L242.55,354.33 L242.80,354.43 L243.05,354.49 L243.30,354.28 L243.55,354.26 L243.80,354.12 L244.05,354.08 L244.30,354.09 L244.55,354.31 L244.80,354.44 L245.05,354.24 L245.30,354.01 L245.55,354.06 L245.80,354.27 L246.05,354.04 L246.30,353.96 L246.55,353.81 L246.80,354.04 L247.05,353.96 L247.30,353.57 L247.55,353.35 L247.80,353.37 L248.05,353.42 L248.30,353.45 L248.55,353.10 L248.80,352.93 L249.05,353.13 L249.30,353.03 L249.55,352.89 L249.80,352.82 L250.05,353.17 L250.30,352.96 L250.55,352.99 L250.80,352.87 L251.05,352.84 L251.30,353.07 L251.55,353.26 L251.80,352.95 L252.05,352.67 L252.30,352.81 L252.55,352.53 L252.80,352.23 L253.05,352.55 L253.30,352.35 L253.55,352.42 L253.80,352.14 L254.05,352.26 L254.30,352.11 L254.55,351.92 L254.80,351.82 L255.05,352.17 L255.30,352.45 L255.55,352.79 L255.80,352.50 L256.05,352.69 L256.30,352.66 L256.55,352.73 L256.80,352.57 L257.05,352.58 L257.30,352.73 L257.55,353.06 L257.80,352.73 L258.05,352.81 L258.30,353.03 L258.55,353.25 L258.80,352.90 L259.05,352.69 L259.30,353.08 L259.55,353.32 L259.80,353.15 L260.05,352.83 L260.30,353.22 L260.55,353.11 L260.80,353.39 L261.05,353.39 L261.30,353.53 L261.55,353.24 L261.80,353.50 L262.05,353.32 L262.30,353.38 L262.55,353.70 L262.80,353.89 L263.05,353.63 L263.30,353.56 L263.55,353.67 L263.80,353.83 L264.05,353.87 L264.30,353.77 L264.55,353.83 L264.80,354.18 L265.05,354.49 L265.30,354.17 L265.55,354.35 L265.80,354.59 L266.05,354.31 L266.30,354.68 L266.55,354.46 L266.80,354.67 L267.05,354.76 L267.30,354.88 L267.55,354.76 L267.80,354.79 L268.05,354.92 L268.30,354.90 L268.55,355.04 L268.80,354.99 L269.05,354.96 L269.30,354.70 L269.55,354.92 L269.80,354.93 L270.05,354.76 L270.30,354.97 L270.55,355.04 L270.80,354.85 L271.05,354.53 L271.30,354.51 L271.55,354.22 L271.80,354.04 L272.05,354.07 L272.30,353.83 L272.55,353.86 L272.80,353.86 L273.05,353.52 L273.30,353.65 L273.55,353.34 L273.80,353.52 L274.05,353.59 L274.30,353.42 L274.55,353.03 L274.80,353.07 L275.05,352.99 L275.30,353.27 L275.55,352.91 L275.80,353.16 L276.05,353.38 L276.30,353.33 L276.55,353.35 L276.80,352.99 L277.05,353.29 L277.30,353.15 L277.55,353.35 L277.80,353.44 L278.05,353.03 L278.30,353.21 L278.55,353.38 L278.80,352.95 L279.05,352.91 L279.30,353.13 L279.55,352.88 L279.80,353.20 L280.05,352.97 L280.30,353.18 L280.55,352.86 L280.80,352.89 L281.05,353.14 L281.30,352.83 L281.55,352.72 L281.80,352.84 L282.05,352.84 L282.30,352.71 L282.55,352.77 L282.80,352.82 L283.05,353.34 L283.30,353.46 L283.55,353.67 L283.80,353.36 L284.05,353.59 L284.30,353.32 L284.55,353.45 L284.80,353.59 L285.05,353.51 L285.30,353.78 L285.55,353.74 L285.80,353.75 L286.05,353.94 L286.30,353.58 L286.55,353.95 L286.80,353.92 L287.05,353.77 L287.30,353.95 L287.55,353.72 L287.80,354.05 L288.05,353.97 L288.30,353.81 L288.55,353.97 L288.80,353.86 L289.05,353.65 L289.30,353.89 L289.55,353.59 L289.80,353.90 L290.05,353.71 L290.30,353.85 L290.55,354.11 L290.80,354.00 L291.05,353.92 L291.30,353.54 L291.55,353.03 L291.80,352.70 L292.05,352.55 L292.30,352.70 L292.55,352.60 L292.80,352.52 L293.05,352.64 L293.30,352.16 L293.55,351.89 L293.80,351.91 L294.05,351.43 L294.30,351.06 L294.55,350.94 L294.80,350.57 L295.05,350.34 L295.30,349.93 L295.55,349.72 L295.80,349.41 L296.05,348.89 L296.30,348.89 L296.55,348.91 L296.80,348.89 L297.05,349.54 L297.30,349.60 L297.55,349.68 L297.80,349.76 L298.05,350.19 L298.30,350.58 L298.55,350.76 L298.80,350.65 L299.05,350.53 L299.30,350.34 L299.55,350.65 L299.80,350.76 L300.05,350.72 L300.30,350.90 L300.55,350.93 L300.80,351.30 L301.05,351.44 L301.30,351.29 L301.55,351.69 L301.80,351.46 L302.05,351.72 L302.30,351.86 L302.55,351.91 L302.80,351.90 L303.05,352.40 L303.30,352.25 L303.55,352.55 L303.80,352.97 L304.05,352.73 L304.30,352.65 L304.55,352.85 L304.80,352.88 L305.05,352.97 L305.30,353.11 L305.55,352.78 L305.80,352.69 L306.05,352.62 L306.30,352.42 L306.55,352.80 L306.80,352.91 L307.05,352.91 L307.30,352.46 L307.55,352.71 L307.80,352.76 L308.05,352.60 L308.30,352.66 L308.55,352.50 L308.80,352.27 L309.05,352.06 L309.30,352.01" fill="none" stroke="#3fb0ea" stroke-width="1.45" stroke-linejoin="round"/><path d="M25.30,392.06 L25.55,393.10 L25.80,391.82 L26.05,392.38 L26.30,391.34 L26.55,391.23 L26.80,392.45 L27.05,391.30 L27.30,391.63 L27.55,391.31 L27.80,391.10 L28.05,391.02 L28.30,390.35 L28.55,391.20 L28.80,390.03 L29.05,389.85 L29.30,389.31 L29.55,389.50 L29.80,389.73 L30.05,390.59 L30.30,389.83 L30.55,389.04 L30.80,388.98 L31.05,390.20 L31.30,388.82 L31.55,389.34 L31.80,388.99 L32.05,389.32 L32.30,388.78 L32.55,389.19 L32.80,388.91 L33.05,389.04 L33.30,389.47 L33.55,388.97 L33.80,387.97 L34.05,387.47 L34.30,388.84 L34.55,388.37 L34.80,387.64 L35.05,388.72 L35.30,388.32 L35.55,388.41 L35.80,388.66 L36.05,387.60 L36.30,387.36 L36.55,388.17 L36.80,387.02 L37.05,387.75 L37.30,386.72 L37.55,387.42 L37.80,387.61 L38.05,388.06 L38.30,387.96 L38.55,387.27 L38.80,386.47 L39.05,386.10 L39.30,386.63 L39.55,386.71 L39.80,385.91 L40.05,387.14 L40.30,386.76 L40.55,386.96 L40.80,386.13 L41.05,385.90 L41.30,385.39 L41.55,385.81 L41.80,385.78 L42.05,386.04 L42.30,386.02 L42.55,386.83 L42.80,387.17 L43.05,385.97 L43.30,386.02 L43.55,385.62 L43.80,386.39 L44.05,387.20 L44.30,386.06 L44.55,386.74 L44.80,386.12 L45.05,385.43 L45.30,386.60 L45.55,386.21 L45.80,385.80 L46.05,386.18 L46.30,385.96 L46.55,386.24 L46.80,386.42 L47.05,386.45 L47.30,386.80 L47.55,386.40 L47.80,385.97 L48.05,385.85 L48.30,385.90 L48.55,386.70 L48.80,386.69 L49.05,387.53 L49.30,387.28 L49.55,387.62 L49.80,388.25 L50.05,386.84 L50.30,386.38 L50.55,386.51 L50.80,387.04 L51.05,387.58 L51.30,388.10 L51.55,387.60 L51.80,388.61 L52.05,387.23 L52.30,388.36 L52.55,387.63 L52.80,388.66 L53.05,387.50 L53.30,388.89 L53.55,388.98 L53.80,389.48 L54.05,388.94 L54.30,388.11 L54.55,389.34 L54.80,388.81 L55.05,388.05 L55.30,388.82 L55.55,388.90 L55.80,388.94 L56.05,388.43 L56.30,388.29 L56.55,389.14 L56.80,389.23 L57.05,388.74 L57.30,389.24 L57.55,389.98 L57.80,390.26 L58.05,389.99 L58.30,389.85 L58.55,389.84 L58.80,389.68 L59.05,389.67 L59.30,390.21 L59.55,389.85 L59.80,390.95 L60.05,391.34 L60.30,391.37 L60.55,390.42 L60.80,390.84 L61.05,391.18 L61.30,390.76 L61.55,392.30 L61.80,392.47 L62.05,392.15 L62.30,392.51 L62.55,391.79 L62.80,391.71 L63.05,392.30 L63.30,392.95 L63.55,393.04 L63.80,391.99 L64.05,392.83 L64.30,393.69 L64.55,393.71 L64.80,394.10 L65.05,394.37 L65.30,393.14 L65.55,392.94 L65.80,393.38 L66.05,394.32 L66.30,393.54 L66.55,394.36 L66.80,394.48 L67.05,393.95 L67.30,394.01 L67.55,394.66 L67.80,394.57 L68.05,393.70 L68.30,394.46 L68.55,393.55 L68.80,393.62 L69.05,394.72 L69.30,394.88 L69.55,394.00 L69.80,393.72 L70.05,394.24 L70.30,394.84 L70.55,394.75 L70.80,395.21 L71.05,394.99 L71.30,395.11 L71.55,394.78 L71.80,394.27 L72.05,394.25 L72.30,394.37 L72.55,394.49 L72.80,395.10 L73.05,394.27 L73.30,393.68 L73.55,394.71 L73.80,394.19 L74.05,394.31 L74.30,393.81 L74.55,394.95 L74.80,394.30 L75.05,394.13 L75.30,395.01 L75.55,394.73 L75.80,394.23 L76.05,395.18 L76.30,394.59 L76.55,394.31 L76.80,395.30 L77.05,395.27 L77.30,395.16 L77.55,394.21 L77.80,394.92 L78.05,394.71 L78.30,395.04 L78.55,394.28 L78.80,394.76 L79.05,394.89 L79.30,394.16 L79.55,394.39 L79.80,394.64 L80.05,395.06 L80.30,395.01 L80.55,394.71 L80.80,393.40 L81.05,393.81 L81.30,394.02 L81.55,392.95 L81.80,393.26 L82.05,394.02 L82.30,394.27 L82.55,394.32 L82.80,392.78 L83.05,393.18 L83.30,393.71 L83.55,393.42 L83.80,392.67 L84.05,391.88 L84.30,393.17 L84.55,393.38 L84.80,393.01 L85.05,392.31 L85.30,392.87 L85.55,392.95 L85.80,392.74 L86.05,392.39 L86.30,391.70 L86.55,391.35 L86.80,391.24 L87.05,391.01 L87.30,391.15 L87.55,390.30 L87.80,390.97 L88.05,390.33 L88.30,389.62 L88.55,389.39 L88.80,389.38 L89.05,389.27 L89.30,389.69 L89.55,388.42 L89.80,388.09 L90.05,387.95 L90.30,387.56 L90.55,388.33 L90.80,387.29 L91.05,386.77 L91.30,387.43 L91.55,387.89 L91.80,388.14 L92.05,387.72 L92.30,387.18 L92.55,388.02 L92.80,388.01 L93.05,387.55 L93.30,387.57 L93.55,388.25 L93.80,388.57 L94.05,388.56 L94.30,387.13 L94.55,387.06 L94.80,387.19 L95.05,386.81 L95.30,387.78 L95.55,386.82 L95.80,388.04 L96.05,387.87 L96.30,387.89 L96.55,387.55 L96.80,388.40 L97.05,388.02 L97.30,388.50 L97.55,388.70 L97.80,388.36 L98.05,388.80 L98.30,388.05 L98.55,387.62 L98.80,388.36 L99.05,388.03 L99.30,387.54 L99.55,388.07 L99.80,387.88 L100.05,387.20 L100.30,388.29 L100.55,388.01 L100.80,388.79 L101.05,388.23 L101.30,388.78 L101.55,387.77 L101.80,387.32 L102.05,387.70 L102.30,388.19 L102.55,388.37 L102.80,387.99 L103.05,386.78 L103.30,386.69 L103.55,385.74 L103.80,385.69 L104.05,386.27 L104.30,384.90 L104.55,384.74 L104.80,384.42 L105.05,383.69 L105.30,384.96 L105.55,384.86 L105.80,385.60 L106.05,387.03 L106.30,387.04 L106.55,388.88 L106.80,388.73 L107.05,389.28 L107.30,390.24 L107.55,389.16 L107.80,390.58 L108.05,389.42 L108.30,390.20 L108.55,390.65 L108.80,391.48 L109.05,390.70 L109.30,391.62 L109.55,391.45 L109.80,391.18 L110.05,390.62 L110.30,390.66 L110.55,390.98 L110.80,391.12 L111.05,391.29 L111.30,392.21 L111.55,391.79 L111.80,392.21 L112.05,391.36 L112.30,391.37 L112.55,392.48 L112.80,393.23 L113.05,392.50 L113.30,391.86 L113.55,392.12 L113.80,392.51 L114.05,392.73 L114.30,393.23 L114.55,393.00 L114.80,393.63 L115.05,394.16 L115.30,394.39 L115.55,394.47 L115.80,394.29 L116.05,393.73 L116.30,394.69 L116.55,394.05 L116.80,394.96 L117.05,394.56 L117.30,394.84 L117.55,394.75 L117.80,395.06 L118.05,394.66 L118.30,395.02 L118.55,395.46 L118.80,394.98 L119.05,395.31 L119.30,395.20 L119.55,395.24 L119.80,395.15 L120.05,395.46 L120.30,395.89 L120.55,395.09 L120.80,394.85 L121.05,396.04 L121.30,395.11 L121.55,396.14 L121.80,396.43 L122.05,395.58 L122.30,396.12 L122.55,395.63 L122.80,396.65 L123.05,395.76 L123.30,395.38 L123.55,395.17 L123.80,396.36 L124.05,395.85 L124.30,395.91 L124.55,397.15 L124.80,397.13 L125.05,397.15 L125.30,396.89 L125.55,396.96 L125.80,395.86 L126.05,396.99 L126.30,396.46 L126.55,397.23 L126.80,396.65 L127.05,397.32 L127.30,395.80 L127.55,396.99 L127.80,395.57 L128.05,395.64 L128.30,395.26 L128.55,395.56 L128.80,394.52 L129.05,393.90 L129.30,392.76 L129.55,390.97 L129.80,389.92 L130.05,390.24 L130.30,392.37 L130.55,394.47 L130.80,395.47 L131.05,395.89 L131.30,397.02 L131.55,397.91 L131.80,397.80 L132.05,398.87 L132.30,398.55 L132.55,398.36 L132.80,398.57 L133.05,399.57 L133.30,400.40 L133.55,399.95 L133.80,400.26 L134.05,401.02 L134.30,400.59 L134.55,401.04 L134.80,401.43 L135.05,401.30 L135.30,401.01 L135.55,401.89 L135.80,402.27 L136.05,401.57 L136.30,402.56 L136.55,402.69 L136.80,403.20 L137.05,403.29 L137.30,402.90 L137.55,403.27 L137.80,402.75 L138.05,403.29 L138.30,402.51 L138.55,402.84 L138.80,403.31 L139.05,404.21 L139.30,404.20 L139.55,404.68 L139.80,404.83 L140.05,405.13 L140.30,404.65 L140.55,404.58 L140.80,404.36 L141.05,403.91 L141.30,404.87 L141.55,404.88 L141.80,404.14 L142.05,404.11 L142.30,404.13 L142.55,405.09 L142.80,405.20 L143.05,404.58 L143.30,405.32 L143.55,405.36 L143.80,404.89 L144.05,405.12 L144.30,406.23 L144.55,405.07 L144.80,404.95 L145.05,405.60 L145.30,406.29 L145.55,406.69 L145.80,405.92 L146.05,406.40 L146.30,405.42 L146.55,405.66 L146.80,406.63 L147.05,406.63 L147.30,406.29 L147.55,406.51 L147.80,406.44 L148.05,406.58 L148.30,407.29 L148.55,407.72 L148.80,406.52 L149.05,407.22 L149.30,407.84 L149.55,407.48 L149.80,407.25 L150.05,407.02 L150.30,407.22 L150.55,407.52 L150.80,407.74 L151.05,406.98 L151.30,408.42 L151.55,407.62 L151.80,407.94 L152.05,407.48 L152.30,408.19 L152.55,407.48 L152.80,407.81 L153.05,408.07 L153.30,408.09 L153.55,408.48 L153.80,408.07 L154.05,408.62 L154.30,409.40 L154.55,409.40 L154.80,410.09 L155.05,410.32 L155.30,409.60 L155.55,409.44 L155.80,409.98 L156.05,410.41 L156.30,409.99 L156.55,410.15 L156.80,410.31 L157.05,410.10 L157.30,410.09 L157.55,409.96 L157.80,410.07 L158.05,410.21 L158.30,410.91 L158.55,410.02 L158.80,409.75 L159.05,411.17 L159.30,410.92 L159.55,411.24 L159.80,411.79 L160.05,411.69 L160.30,411.41 L160.55,412.08 L160.80,411.74 L161.05,411.38 L161.30,410.84 L161.55,410.68 L161.80,411.82 L162.05,412.39 L162.30,411.63 L162.55,411.75 L162.80,412.09 L163.05,412.10 L163.30,411.53 L163.55,412.53 L163.80,412.20 L164.05,412.41 L164.30,412.45 L164.55,412.03 L164.80,412.39 L165.05,411.60 L165.30,412.02 L165.55,412.34 L165.80,412.41 L166.05,411.84 L166.30,411.48 L166.55,411.24 L166.80,411.22 L167.05,411.34 L167.30,411.92 L167.55,412.26 L167.80,412.62 L168.05,412.26 L168.30,412.75 L168.55,411.59 L168.80,411.82 L169.05,411.49 L169.30,412.12 L169.55,412.43 L169.80,412.55 L170.05,412.35 L170.30,412.17 L170.55,412.07 L170.80,411.65 L171.05,411.70 L171.30,412.26 L171.55,412.59 L171.80,411.86 L172.05,413.01 L172.30,411.89 L172.55,411.76 L172.80,412.31 L173.05,412.29 L173.30,412.64 L173.55,413.07 L173.80,413.05 L174.05,413.40 L174.30,412.96 L174.55,413.22 L174.80,412.85 L175.05,412.24 L175.30,411.98 L175.55,412.12 L175.80,412.65 L176.05,412.53 L176.30,413.02 L176.55,413.38 L176.80,413.97 L177.05,412.78 L177.30,413.89 L177.55,412.53 L177.80,413.74 L178.05,414.29 L178.30,413.36 L178.55,413.88 L178.80,413.53 L179.05,413.55 L179.30,414.10 L179.55,414.44 L179.80,413.41 L180.05,412.97 L180.30,414.12 L180.55,413.89 L180.80,414.40 L181.05,413.35 L181.30,414.18 L181.55,413.21 L181.80,412.91 L182.05,413.10 L182.30,414.32 L182.55,413.73 L182.80,413.67 L183.05,413.39 L183.30,412.94 L183.55,413.48 L183.80,413.76 L184.05,413.56 L184.30,414.23 L184.55,413.69 L184.80,414.75 L185.05,414.95 L185.30,414.43 L185.55,413.43 L185.80,413.97 L186.05,414.25 L186.30,414.40 L186.55,414.06 L186.80,414.51 L187.05,415.14 L187.30,414.82 L187.55,413.54 L187.80,414.23 L188.05,414.44 L188.30,414.37 L188.55,415.07 L188.80,413.70 L189.05,413.24 L189.30,414.38 L189.55,413.61 L189.80,413.46 L190.05,414.65 L190.30,414.20 L190.55,415.02 L190.80,415.12 L191.05,414.92 L191.30,414.32 L191.55,413.65 L191.80,415.07 L192.05,415.32 L192.30,415.49 L192.55,414.82 L192.80,414.21 L193.05,414.67 L193.30,414.44 L193.55,413.97 L193.80,413.70 L194.05,414.16 L194.30,413.84 L194.55,413.97 L194.80,415.29 L195.05,415.62 L195.30,415.64 L195.55,414.99 L195.80,415.25 L196.05,414.26 L196.30,414.80 L196.55,415.60 L196.80,415.52 L197.05,415.86 L197.30,415.32 L197.55,414.59 L197.80,413.87 L198.05,414.11 L198.30,415.19 L198.55,414.98 L198.80,415.10 L199.05,415.47 L199.30,414.67 L199.55,414.16 L199.80,415.36 L200.05,415.21 L200.30,414.14 L200.55,415.03 L200.80,415.35 L201.05,415.52 L201.30,414.44 L201.55,414.38 L201.80,415.18 L202.05,415.32 L202.30,414.79 L202.55,415.75 L202.80,414.85 L203.05,415.64 L203.30,414.52 L203.55,414.76 L203.80,415.80 L204.05,415.58 L204.30,415.63 L204.55,415.87 L204.80,415.49 L205.05,415.23 L205.30,415.65 L205.55,415.25 L205.80,415.90 L206.05,415.74 L206.30,414.33 L206.55,414.42 L206.80,415.53 L207.05,414.47 L207.30,413.98 L207.55,414.84 L207.80,415.30 L208.05,415.95 L208.30,416.12 L208.55,415.56 L208.80,415.53 L209.05,415.22 L209.30,415.71 L209.55,415.57 L209.80,414.50 L210.05,415.06 L210.30,414.15 L210.55,414.33 L210.80,414.29 L211.05,415.21 L211.30,414.07 L211.55,413.86 L211.80,414.03 L212.05,413.46 L212.30,413.91 L212.55,414.06 L212.80,415.20 L213.05,415.98 L213.30,416.09 L213.55,416.87 L213.80,416.61 L214.05,417.17 L214.30,416.31 L214.55,416.71 L214.80,416.84 L215.05,418.01 L215.30,417.76 L215.55,417.57 L215.80,418.12 L216.05,418.89 L216.30,418.98 L216.55,419.03 L216.80,418.86 L217.05,419.12 L217.30,418.82 L217.55,418.48 L217.80,418.30 L218.05,418.20 L218.30,418.35 L218.55,418.74 L218.80,419.56 L219.05,418.73 L219.30,418.80 L219.55,418.64 L219.80,419.03 L220.05,418.43 L220.30,419.31 L220.55,420.04 L220.80,420.40 L221.05,419.55 L221.30,419.00 L221.55,419.88 L221.80,420.23 L222.05,419.36 L222.30,418.91 L222.55,419.90 L222.80,419.72 L223.05,419.96 L223.30,420.15 L223.55,420.81 L223.80,419.69 L224.05,419.63 L224.30,419.24 L224.55,420.34 L224.80,419.60 L225.05,420.81 L225.30,420.78 L225.55,420.62 L225.80,420.17 L226.05,421.16 L226.30,420.13 L226.55,420.69 L226.80,421.35 L227.05,421.27 L227.30,420.18 L227.55,420.00 L227.80,420.30 L228.05,421.22 L228.30,420.47 L228.55,421.75 L228.80,422.04 L229.05,421.60 L229.30,422.05 L229.55,421.79 L229.80,420.89 L230.05,421.09 L230.30,420.51 L230.55,421.11 L230.80,422.32 L231.05,421.67 L231.30,421.97 L231.55,421.56 L231.80,422.04 L232.05,421.61 L232.30,422.56 L232.55,421.97 L232.80,421.58 L233.05,421.79 L233.30,421.26 L233.55,421.59 L233.80,422.47 L234.05,422.17 L234.30,422.20 L234.55,421.87 L234.80,422.87 L235.05,423.32 L235.30,422.63 L235.55,421.74 L235.80,422.28 L236.05,423.28 L236.30,423.22 L236.55,422.48 L236.80,422.08 L237.05,423.41 L237.30,422.39 L237.55,423.09 L237.80,423.31 L238.05,422.67 L238.30,422.99 L238.55,423.88 L238.80,424.43 L239.05,422.97 L239.30,422.50 L239.55,422.80 L239.80,422.56 L240.05,424.10 L240.30,423.08 L240.55,423.33 L240.80,424.32 L241.05,423.95 L241.30,423.46 L241.55,423.04 L241.80,423.25 L242.05,423.50 L242.30,424.58 L242.55,424.19 L242.80,424.32 L243.05,423.88 L243.30,424.04 L243.55,425.06 L243.80,423.93 L244.05,424.68 L244.30,424.24 L244.55,424.33 L244.80,424.93 L245.05,424.47 L245.30,424.62 L245.55,424.69 L245.80,424.73 L246.05,424.03 L246.30,424.42 L246.55,424.55 L246.80,424.68 L247.05,424.50 L247.30,424.77 L247.55,425.40 L247.80,424.41 L248.05,424.13 L248.30,424.90 L248.55,425.23 L248.80,425.74 L249.05,424.54 L249.30,424.15 L249.55,425.13 L249.80,424.73 L250.05,425.13 L250.30,424.90 L250.55,424.48 L250.80,425.21 L251.05,425.01 L251.30,425.27 L251.55,426.04 L251.80,425.54 L252.05,426.10 L252.30,425.29 L252.55,424.86 L252.80,425.14 L253.05,425.05 L253.30,425.80 L253.55,424.95 L253.80,425.79 L254.05,425.14 L254.30,425.30 L254.55,425.01 L254.80,424.80 L255.05,424.74 L255.30,426.26 L255.55,425.12 L255.80,426.28 L256.05,425.80 L256.30,426.42 L256.55,425.35 L256.80,425.77 L257.05,426.08 L257.30,425.50 L257.55,425.89 L257.80,426.54 L258.05,425.86 L258.30,424.97 L258.55,425.76 L258.80,426.31 L259.05,425.89 L259.30,426.47 L259.55,425.78 L259.80,425.75 L260.05,425.72 L260.30,425.11 L260.55,424.89 L260.80,425.85 L261.05,426.60 L261.30,425.56 L261.55,426.56 L261.80,425.82 L262.05,425.78 L262.30,425.09 L262.55,424.83 L262.80,425.79 L263.05,426.64 L263.30,426.46 L263.55,425.50 L263.80,426.18 L264.05,425.43 L264.30,425.83 L264.55,426.47 L264.80,426.01 L265.05,425.76 L265.30,425.70 L265.55,425.64 L265.80,425.14 L266.05,426.28 L266.30,426.03 L266.55,425.60 L266.80,425.70 L267.05,425.26 L267.30,425.91 L267.55,426.32 L267.80,426.53 L268.05,426.28 L268.30,427.20 L268.55,425.98 L268.80,425.71 L269.05,426.30 L269.30,426.22 L269.55,426.02 L269.80,426.73 L270.05,426.58 L270.30,426.64 L270.55,426.90 L270.80,426.50 L271.05,426.56 L271.30,427.45 L271.55,426.25 L271.80,426.45 L272.05,426.79 L272.30,427.17 L272.55,426.09 L272.80,425.83 L273.05,426.04 L273.30,426.84 L273.55,426.27 L273.80,425.80 L274.05,426.37 L274.30,426.07 L274.55,426.96 L274.80,427.71 L275.05,427.60 L275.30,427.25 L275.55,426.87 L275.80,426.09 L276.05,426.61 L276.30,426.93 L276.55,426.65 L276.80,426.77 L277.05,427.79 L277.30,427.08 L277.55,426.68 L277.80,426.90 L278.05,427.87 L278.30,426.57 L278.55,426.96 L278.80,428.03 L279.05,427.54 L279.30,427.03 L279.55,426.92 L279.80,427.55 L280.05,426.74 L280.30,427.99 L280.55,427.91 L280.80,428.30 L281.05,427.08 L281.30,426.47 L281.55,426.85 L281.80,427.24 L282.05,427.48 L282.30,427.73 L282.55,426.77 L282.80,428.11 L283.05,427.12 L283.30,426.89 L283.55,426.73 L283.80,427.16 L284.05,426.90 L284.30,427.83 L284.55,427.47 L284.80,426.97 L285.05,427.26 L285.30,428.18 L285.55,427.98 L285.80,427.06 L286.05,427.74 L286.30,427.78 L286.55,427.85 L286.80,428.30 L287.05,427.36 L287.30,428.08 L287.55,428.44 L287.80,428.82 L288.05,428.00 L288.30,427.47 L288.55,428.19 L288.80,428.94 L289.05,429.13 L289.30,428.52 L289.55,427.85 L289.80,428.75 L290.05,427.64 L290.30,428.21 L290.55,428.77 L290.80,428.42 L291.05,428.65 L291.30,428.16 L291.55,428.53 L291.80,427.76 L292.05,428.39 L292.30,427.61 L292.55,427.45 L292.80,427.31 L293.05,427.65 L293.30,427.19 L293.55,428.31 L293.80,429.04 L294.05,429.14 L294.30,427.74 L294.55,428.15 L294.80,427.63 L295.05,428.28 L295.30,427.47 L295.55,428.93 L295.80,428.49 L296.05,427.86 L296.30,428.11 L296.55,428.01 L296.80,428.30 L297.05,428.27 L297.30,429.27 L297.55,428.41 L297.80,427.71 L298.05,428.39 L298.30,428.46 L298.55,428.28 L298.80,429.33 L299.05,429.44 L299.30,428.70 L299.55,428.00 L299.80,429.13 L300.05,429.35 L300.30,429.64 L300.55,428.79 L300.80,428.25 L301.05,428.62 L301.30,428.74 L301.55,429.16 L301.80,428.23 L302.05,429.45 L302.30,429.05 L302.55,428.50 L302.80,428.90 L303.05,428.07 L303.30,429.20 L303.55,429.03 L303.80,428.38 L304.05,427.93 L304.30,428.67 L304.55,429.38 L304.80,428.59 L305.05,429.66 L305.30,429.36 L305.55,429.11 L305.80,429.87 L306.05,429.00 L306.30,429.37 L306.55,428.91 L306.80,428.73 L307.05,429.01 L307.30,429.87 L307.55,428.60 L307.80,428.77 L308.05,428.21 L308.30,428.70 L308.55,428.23 L308.80,429.43 L309.05,429.58 L309.30,430.14" fill="none" stroke="#1f6fb0" stroke-width="1.45" stroke-linejoin="round"/><path d="M25.30,420.04 L25.55,419.79 L25.80,419.23 L26.05,420.32 L26.30,419.05 L26.55,419.51 L26.80,420.31 L27.05,419.02 L27.30,419.43 L27.55,419.62 L27.80,418.58 L28.05,418.83 L28.30,419.43 L28.55,419.11 L28.80,419.45 L29.05,418.48 L29.30,418.28 L29.55,417.93 L29.80,418.49 L30.05,419.36 L30.30,418.96 L30.55,419.12 L30.80,418.41 L31.05,418.80 L31.30,417.71 L31.55,417.66 L31.80,418.29 L32.05,418.52 L32.30,417.98 L32.55,417.17 L32.80,417.20 L33.05,417.04 L33.30,417.06 L33.55,417.96 L33.80,417.06 L34.05,417.97 L34.30,418.16 L34.55,416.66 L34.80,416.72 L35.05,416.88 L35.30,416.01 L35.55,416.40 L35.80,417.32 L36.05,416.10 L36.30,416.54 L36.55,415.75 L36.80,416.27 L37.05,416.94 L37.30,415.83 L37.55,415.10 L37.80,414.96 L38.05,415.69 L38.30,414.93 L38.55,414.78 L38.80,415.44 L39.05,416.37 L39.30,415.73 L39.55,415.47 L39.80,415.82 L40.05,414.93 L40.30,415.54 L40.55,415.00 L40.80,415.63 L41.05,416.46 L41.30,415.09 L41.55,415.61 L41.80,415.88 L42.05,415.16 L42.30,415.19 L42.55,416.54 L42.80,416.99 L43.05,415.58 L43.30,416.25 L43.55,416.94 L43.80,415.91 L44.05,416.32 L44.30,415.47 L44.55,415.85 L44.80,416.57 L45.05,416.69 L45.30,417.11 L45.55,416.06 L45.80,416.27 L46.05,417.32 L46.30,417.19 L46.55,416.97 L46.80,416.88 L47.05,417.96 L47.30,417.60 L47.55,416.55 L47.80,417.70 L48.05,417.26 L48.30,417.37 L48.55,417.07 L48.80,417.44 L49.05,417.40 L49.30,417.01 L49.55,417.92 L49.80,417.30 L50.05,418.40 L50.30,417.42 L50.55,418.54 L50.80,418.99 L51.05,418.63 L51.30,418.96 L51.55,418.30 L51.80,419.04 L52.05,418.77 L52.30,418.41 L52.55,419.69 L52.80,419.13 L53.05,418.98 L53.30,419.88 L53.55,419.34 L53.80,419.79 L54.05,419.10 L54.30,420.18 L54.55,419.53 L54.80,419.03 L55.05,420.62 L55.30,419.72 L55.55,420.92 L55.80,421.43 L56.05,420.97 L56.30,419.84 L56.55,419.66 L56.80,419.94 L57.05,420.43 L57.30,421.04 L57.55,421.94 L57.80,421.18 L58.05,420.64 L58.30,421.30 L58.55,420.81 L58.80,420.64 L59.05,421.50 L59.30,422.07 L59.55,421.18 L59.80,421.67 L60.05,422.33 L60.30,422.70 L60.55,422.18 L60.80,423.00 L61.05,422.00 L61.30,422.74 L61.55,423.12 L61.80,423.48 L62.05,422.95 L62.30,422.12 L62.55,421.83 L62.80,422.65 L63.05,422.30 L63.30,423.06 L63.55,422.34 L63.80,423.42 L64.05,422.79 L64.30,422.26 L64.55,422.44 L64.80,423.04 L65.05,423.44 L65.30,423.30 L65.55,422.91 L65.80,423.39 L66.05,424.42 L66.30,424.02 L66.55,424.68 L66.80,423.27 L67.05,424.63 L67.30,424.89 L67.55,424.38 L67.80,424.24 L68.05,424.25 L68.30,424.97 L68.55,423.70 L68.80,424.40 L69.05,424.46 L69.30,424.08 L69.55,424.76 L69.80,424.99 L70.05,423.98 L70.30,424.78 L70.55,424.61 L70.80,424.66 L71.05,424.96 L71.30,424.03 L71.55,424.76 L71.80,424.60 L72.05,425.48 L72.30,424.60 L72.55,425.42 L72.80,425.52 L73.05,425.37 L73.30,425.80 L73.55,424.43 L73.80,425.04 L74.05,425.26 L74.30,425.45 L74.55,425.03 L74.80,424.30 L75.05,424.30 L75.30,425.06 L75.55,424.51 L75.80,424.13 L76.05,424.52 L76.30,424.82 L76.55,425.01 L76.80,424.11 L77.05,425.15 L77.30,424.63 L77.55,425.23 L77.80,423.97 L78.05,425.24 L78.30,424.90 L78.55,425.44 L78.80,425.55 L79.05,425.24 L79.30,423.76 L79.55,423.68 L79.80,423.37 L80.05,424.19 L80.30,423.30 L80.55,423.00 L80.80,422.63 L81.05,422.45 L81.30,423.78 L81.55,424.17 L81.80,423.11 L82.05,423.37 L82.30,422.88 L82.55,422.74 L82.80,422.34 L83.05,422.62 L83.30,421.90 L83.55,421.64 L83.80,421.96 L84.05,421.40 L84.30,421.60 L84.55,422.49 L84.80,421.03 L85.05,420.65 L85.30,421.71 L85.55,420.60 L85.80,420.53 L86.05,421.49 L86.30,421.24 L86.55,420.37 L86.80,419.71 L87.05,419.80 L87.30,419.77 L87.55,420.55 L87.80,421.00 L88.05,420.68 L88.30,420.69 L88.55,420.63 L88.80,420.41 L89.05,420.32 L89.30,420.27 L89.55,418.58 L89.80,418.38 L90.05,418.09 L90.30,418.55 L90.55,418.39 L90.80,418.00 L91.05,418.67 L91.30,418.01 L91.55,417.39 L91.80,417.25 L92.05,417.47 L92.30,417.74 L92.55,417.69 L92.80,417.40 L93.05,416.81 L93.30,416.98 L93.55,416.86 L93.80,416.53 L94.05,417.08 L94.30,416.60 L94.55,417.40 L94.80,417.55 L95.05,416.66 L95.30,417.28 L95.55,416.97 L95.80,417.08 L96.05,417.42 L96.30,417.82 L96.55,418.19 L96.80,418.05 L97.05,417.10 L97.30,417.44 L97.55,417.20 L97.80,416.59 L98.05,417.40 L98.30,417.53 L98.55,418.32 L98.80,417.62 L99.05,418.37 L99.30,418.06 L99.55,417.26 L99.80,418.17 L100.05,417.71 L100.30,418.06 L100.55,417.38 L100.80,417.11 L101.05,418.71 L101.30,417.65 L101.55,417.58 L101.80,417.65 L102.05,417.61 L102.30,418.97 L102.55,419.76 L102.80,419.45 L103.05,418.98 L103.30,419.81 L103.55,419.45 L103.80,418.76 L104.05,419.64 L104.30,419.39 L104.55,419.25 L104.80,419.38 L105.05,419.63 L105.30,419.43 L105.55,420.23 L105.80,421.01 L106.05,420.80 L106.30,419.82 L106.55,420.83 L106.80,420.03 L107.05,420.71 L107.30,421.70 L107.55,421.76 L107.80,422.29 L108.05,422.27 L108.30,421.50 L108.55,421.14 L108.80,421.69 L109.05,422.36 L109.30,421.86 L109.55,422.00 L109.80,422.89 L110.05,422.55 L110.30,423.00 L110.55,423.15 L110.80,423.99 L111.05,422.72 L111.30,422.74 L111.55,423.92 L111.80,424.18 L112.05,423.34 L112.30,423.26 L112.55,423.48 L112.80,424.25 L113.05,425.24 L113.30,424.40 L113.55,424.23 L113.80,425.16 L114.05,425.06 L114.30,425.90 L114.55,426.53 L114.80,426.71 L115.05,426.47 L115.30,426.10 L115.55,425.31 L115.80,426.51 L116.05,426.24 L116.30,426.37 L116.55,426.82 L116.80,427.65 L117.05,427.26 L117.30,427.90 L117.55,428.27 L117.80,426.90 L118.05,427.07 L118.30,428.18 L118.55,428.40 L118.80,428.92 L119.05,427.77 L119.30,428.15 L119.55,429.08 L119.80,428.75 L120.05,428.99 L120.30,429.71 L120.55,428.58 L120.80,428.13 L121.05,429.53 L121.30,429.56 L121.55,428.99 L121.80,430.05 L122.05,429.49 L122.30,429.14 L122.55,429.44 L122.80,429.16 L123.05,429.85 L123.30,430.83 L123.55,430.64 L123.80,431.61 L124.05,430.35 L124.30,430.31 L124.55,430.35 L124.80,431.24 L125.05,430.94 L125.30,431.80 L125.55,431.91 L125.80,432.16 L126.05,432.82 L126.30,433.03 L126.55,433.45 L126.80,432.30 L127.05,432.49 L127.30,433.71 L127.55,433.18 L127.80,432.94 L128.05,433.34 L128.30,433.04 L128.55,434.28 L128.80,434.39 L129.05,433.57 L129.30,435.01 L129.55,434.77 L129.80,434.34 L130.05,434.98 L130.30,435.90 L130.55,435.22 L130.80,434.53 L131.05,434.78 L131.30,434.72 L131.55,435.67 L131.80,435.68 L132.05,436.77 L132.30,436.05 L132.55,435.61 L132.80,436.40 L133.05,436.13 L133.30,436.50 L133.55,436.56 L133.80,436.60 L134.05,437.54 L134.30,438.46 L134.55,437.82 L134.80,438.21 L135.05,437.85 L135.30,438.90 L135.55,438.66 L135.80,437.74 L136.05,438.84 L136.30,438.31 L136.55,437.95 L136.80,437.88 L137.05,439.43 L137.30,439.75 L137.55,439.31 L137.80,439.62 L138.05,440.07 L138.30,439.16 L138.55,440.11 L138.80,440.49 L139.05,441.11 L139.30,439.80 L139.55,440.41 L139.80,440.57 L140.05,441.31 L140.30,440.75 L140.55,441.20 L140.80,441.84 L141.05,441.13 L141.30,441.30 L141.55,442.11 L141.80,440.89 L142.05,442.30 L142.30,441.61 L142.55,441.75 L142.80,441.56 L143.05,442.50 L143.30,442.39 L143.55,442.82 L143.80,441.87 L144.05,443.06 L144.30,443.38 L144.55,443.31 L144.80,442.53 L145.05,442.45 L145.30,442.84 L145.55,442.34 L145.80,443.86 L146.05,443.41 L146.30,444.33 L146.55,443.29 L146.80,443.89 L147.05,444.41 L147.30,444.36 L147.55,444.02 L147.80,443.26 L148.05,443.86 L148.30,444.02 L148.55,445.14 L148.80,445.60 L149.05,445.77 L149.30,445.93 L149.55,444.59 L149.80,444.01 L150.05,444.37 L150.30,444.04 L150.55,444.20 L150.80,445.14 L151.05,444.82 L151.30,445.52 L151.55,445.39 L151.80,445.22 L152.05,446.49 L152.30,445.53 L152.55,446.56 L152.80,446.30 L153.05,446.53 L153.30,445.74 L153.55,446.65 L153.80,447.25 L154.05,446.25 L154.30,446.51 L154.55,446.98 L154.80,446.86 L155.05,447.40 L155.30,447.43 L155.55,446.91 L155.80,447.48 L156.05,447.88 L156.30,447.51 L156.55,447.69 L156.80,447.89 L157.05,447.73 L157.30,447.04 L157.55,447.48 L157.80,448.33 L158.05,448.56 L158.30,447.52 L158.55,447.99 L158.80,448.40 L159.05,448.48 L159.30,447.88 L159.55,448.65 L159.80,449.03 L160.05,448.92 L160.30,449.67 L160.55,449.30 L160.80,448.23 L161.05,448.46 L161.30,449.34 L161.55,448.54 L161.80,449.95 L162.05,449.95 L162.30,450.12 L162.55,449.16 L162.80,448.63 L163.05,450.09 L163.30,449.93 L163.55,449.81 L163.80,449.96 L164.05,450.51 L164.30,450.01 L164.55,450.63 L164.80,449.77 L165.05,451.03 L165.30,450.95 L165.55,450.29 L165.80,450.43 L166.05,451.24 L166.30,450.53 L166.55,451.04 L166.80,451.61 L167.05,451.92 L167.30,450.79 L167.55,451.46 L167.80,451.37 L168.05,451.74 L168.30,450.56 L168.55,450.87 L168.80,451.06 L169.05,451.82 L169.30,451.42 L169.55,450.61 L169.80,450.70 L170.05,451.88 L170.30,452.36 L170.55,451.98 L170.80,451.01 L171.05,452.00 L171.30,452.50 L171.55,451.64 L171.80,451.76 L172.05,451.48 L172.30,451.00 L172.55,452.12 L172.80,451.45 L173.05,451.14 L173.30,452.56 L173.55,451.56 L173.80,452.48 L174.05,452.88 L174.30,452.02 L174.55,452.00 L174.80,451.76 L175.05,452.58 L175.30,453.34 L175.55,453.18 L175.80,452.70 L176.05,452.67 L176.30,452.45 L176.55,452.96 L176.80,452.34 L177.05,452.14 L177.30,452.91 L177.55,452.37 L177.80,453.56 L178.05,453.47 L178.30,452.49 L178.55,451.92 L178.80,452.82 L179.05,452.27 L179.30,452.79 L179.55,453.15 L179.80,453.65 L180.05,453.07 L180.30,453.20 L180.55,453.75 L180.80,452.71 L181.05,452.78 L181.30,453.67 L181.55,453.15 L181.80,454.05 L182.05,452.81 L182.30,452.46 L182.55,452.88 L182.80,453.21 L183.05,453.15 L183.30,452.89 L183.55,453.24 L183.80,454.17 L184.05,454.54 L184.30,454.11 L184.55,453.34 L184.80,453.71 L185.05,453.08 L185.30,452.73 L185.55,453.97 L185.80,453.40 L186.05,453.06 L186.30,454.16 L186.55,453.25 L186.80,453.20 L187.05,453.05 L187.30,454.35 L187.55,454.38 L187.80,453.50 L188.05,453.05 L188.30,454.43 L188.55,453.46 L188.80,454.24 L189.05,454.44 L189.30,454.33 L189.55,454.11 L189.80,453.94 L190.05,453.66 L190.30,454.25 L190.55,453.54 L190.80,453.93 L191.05,453.66 L191.30,453.79 L191.55,454.78 L191.80,454.51 L192.05,454.57 L192.30,454.61 L192.55,453.47 L192.80,454.54 L193.05,455.04 L193.30,454.97 L193.55,454.56 L193.80,455.02 L194.05,455.35 L194.30,454.26 L194.55,453.74 L194.80,453.91 L195.05,453.39 L195.30,453.64 L195.55,453.45 L195.80,453.27 L196.05,453.94 L196.30,453.44 L196.55,454.16 L196.80,455.05 L197.05,455.08 L197.30,453.91 L197.55,454.79 L197.80,454.10 L198.05,455.02 L198.30,455.01 L198.55,454.85 L198.80,454.62 L199.05,455.54 L199.30,454.45 L199.55,455.38 L199.80,454.42 L200.05,453.95 L200.30,454.05 L200.55,453.77 L200.80,455.14 L201.05,454.40 L201.30,454.90 L201.55,454.53 L201.80,454.59 L202.05,455.40 L202.30,455.24 L202.55,454.70 L202.80,455.43 L203.05,454.58 L203.30,454.17 L203.55,455.25 L203.80,455.88 L204.05,455.95 L204.30,455.88 L204.55,456.32 L204.80,456.48 L205.05,455.93 L205.30,455.12 L205.55,455.65 L205.80,455.59 L206.05,456.14 L206.30,455.71 L206.55,455.15 L206.80,455.27 L207.05,455.28 L207.30,456.41 L207.55,456.75 L207.80,456.64 L208.05,456.30 L208.30,457.01 L208.55,456.79 L208.80,456.89 L209.05,456.47 L209.30,457.86 L209.55,457.36 L209.80,457.34 L210.05,456.95 L210.30,457.34 L210.55,457.58 L210.80,457.66 L211.05,458.33 L211.30,457.88 L211.55,458.34 L211.80,458.65 L212.05,457.85 L212.30,458.93 L212.55,457.98 L212.80,458.10 L213.05,459.25 L213.30,458.38 L213.55,458.47 L213.80,458.81 L214.05,459.94 L214.30,460.38 L214.55,459.23 L214.80,459.70 L215.05,460.24 L215.30,459.88 L215.55,459.46 L215.80,459.09 L216.05,458.88 L216.30,458.81 L216.55,458.84 L216.80,460.11 L217.05,460.30 L217.30,459.45 L217.55,460.81 L217.80,461.34 L218.05,460.51 L218.30,460.21 L218.55,461.09 L218.80,461.01 L219.05,461.17 L219.30,460.24 L219.55,460.98 L219.80,460.73 L220.05,459.99 L220.30,459.79 L220.55,460.16 L220.80,460.25 L221.05,460.38 L221.30,461.61 L221.55,461.08 L221.80,460.62 L222.05,460.33 L222.30,460.19 L222.55,460.81 L222.80,461.06 L223.05,460.55 L223.30,461.22 L223.55,461.14 L223.80,460.56 L224.05,461.24 L224.30,460.90 L224.55,460.88 L224.80,461.93 L225.05,461.69 L225.30,461.53 L225.55,461.86 L225.80,462.32 L226.05,462.29 L226.30,462.89 L226.55,462.68 L226.80,461.98 L227.05,462.90 L227.30,461.52 L227.55,461.44 L227.80,461.33 L228.05,461.80 L228.30,461.92 L228.55,462.05 L228.80,462.55 L229.05,462.22 L229.30,462.40 L229.55,462.83 L229.80,463.44 L230.05,463.71 L230.30,462.76 L230.55,462.54 L230.80,463.59 L231.05,463.67 L231.30,463.79 L231.55,462.49 L231.80,462.44 L232.05,462.70 L232.30,462.60 L232.55,462.88 L232.80,463.86 L233.05,463.18 L233.30,463.23 L233.55,462.94 L233.80,463.36 L234.05,463.44 L234.30,462.84 L234.55,462.47 L234.80,463.64 L235.05,464.16 L235.30,463.46 L235.55,463.03 L235.80,462.76 L236.05,463.64 L236.30,463.86 L236.55,464.60 L236.80,464.38 L237.05,464.16 L237.30,464.16 L237.55,464.76 L237.80,464.99 L238.05,463.73 L238.30,463.30 L238.55,463.21 L238.80,463.01 L239.05,464.48 L239.30,465.16 L239.55,464.56 L239.80,464.87 L240.05,464.82 L240.30,464.82 L240.55,464.38 L240.80,465.29 L241.05,464.42 L241.30,463.82 L241.55,463.58 L241.80,464.86 L242.05,465.26 L242.30,465.53 L242.55,465.55 L242.80,464.55 L243.05,464.52 L243.30,464.40 L243.55,465.44 L243.80,464.22 L244.05,464.43 L244.30,465.15 L244.55,465.36 L244.80,464.31 L245.05,464.22 L245.30,464.32 L245.55,464.47 L245.80,465.07 L246.05,464.41 L246.30,465.67 L246.55,465.43 L246.80,465.71 L247.05,465.30 L247.30,466.08 L247.55,465.00 L247.80,466.08 L248.05,465.31 L248.30,465.59 L248.55,465.78 L248.80,466.06 L249.05,465.94 L249.30,466.25 L249.55,465.16 L249.80,465.73 L250.05,465.87 L250.30,466.15 L250.55,465.33 L250.80,466.19 L251.05,465.35 L251.30,465.06 L251.55,465.00 L251.80,466.68 L252.05,465.74 L252.30,466.42 L252.55,465.52 L252.80,466.26 L253.05,465.81 L253.30,466.38 L253.55,466.83 L253.80,466.87 L254.05,466.66 L254.30,466.94 L254.55,465.76 L254.80,465.53 L255.05,465.81 L255.30,466.30 L255.55,467.03 L255.80,465.95 L256.05,465.97 L256.30,466.57 L256.55,466.41 L256.80,465.95 L257.05,466.20 L257.30,465.83 L257.55,465.72 L257.80,467.20 L258.05,466.72 L258.30,467.32 L258.55,466.67 L258.80,467.39 L259.05,467.88 L259.30,466.50 L259.55,467.16 L259.80,467.92 L260.05,467.93 L260.30,466.78 L260.55,467.56 L260.80,467.86 L261.05,466.90 L261.30,467.53 L261.55,467.67 L261.80,466.98 L262.05,467.91 L262.30,468.27 L262.55,467.00 L262.80,467.35 L263.05,467.69 L263.30,466.76 L263.55,467.43 L263.80,468.40 L264.05,467.63 L264.30,467.71 L264.55,468.55 L264.80,468.71 L265.05,468.92 L265.30,467.45 L265.55,468.67 L265.80,467.86 L266.05,467.68 L266.30,467.34 L266.55,468.38 L266.80,468.32 L267.05,468.09 L267.30,468.11 L267.55,468.17 L267.80,468.33 L268.05,467.63 L268.30,468.46 L268.55,467.91 L268.80,467.34 L269.05,468.87 L269.30,467.81 L269.55,468.78 L269.80,469.04 L270.05,468.53 L270.30,468.73 L270.55,468.15 L270.80,467.95 L271.05,469.12 L271.30,469.25 L271.55,469.35 L271.80,468.85 L272.05,467.96 L272.30,469.05 L272.55,469.73 L272.80,468.81 L273.05,469.11 L273.30,468.36 L273.55,469.63 L273.80,469.58 L274.05,468.43 L274.30,469.26 L274.55,469.48 L274.80,469.14 L275.05,469.33 L275.30,470.04 L275.55,469.83 L275.80,469.41 L276.05,470.20 L276.30,469.87 L276.55,470.04 L276.80,469.72 L277.05,470.01 L277.30,470.15 L277.55,469.72 L277.80,469.55 L278.05,469.05 L278.30,469.73 L278.55,470.10 L278.80,469.66 L279.05,468.93 L279.30,469.88 L279.55,470.09 L279.80,470.17 L280.05,469.32 L280.30,470.41 L280.55,470.47 L280.80,470.64 L281.05,469.54 L281.30,469.45 L281.55,469.91 L281.80,469.12 L282.05,470.64 L282.30,469.68 L282.55,469.36 L282.80,470.45 L283.05,469.78 L283.30,470.21 L283.55,470.49 L283.80,469.78 L284.05,469.31 L284.30,470.36 L284.55,471.00 L284.80,471.08 L285.05,469.85 L285.30,469.91 L285.55,470.16 L285.80,469.49 L286.05,470.83 L286.30,471.14 L286.55,471.50 L286.80,471.52 L287.05,471.40 L287.30,470.39 L287.55,470.74 L287.80,471.25 L288.05,469.85 L288.30,469.56 L288.55,471.12 L288.80,469.99 L289.05,471.12 L289.30,470.52 L289.55,470.10 L289.80,470.22 L290.05,471.18 L290.30,471.05 L290.55,470.07 L290.80,471.04 L291.05,470.48 L291.30,471.18 L291.55,470.82 L291.80,471.36 L292.05,470.97 L292.30,470.50 L292.55,471.52 L292.80,471.81 L293.05,471.12 L293.30,470.87 L293.55,470.95 L293.80,471.11 L294.05,470.43 L294.30,471.42 L294.55,470.81 L294.80,471.66 L295.05,471.16 L295.30,471.64 L295.55,471.79 L295.80,470.68 L296.05,469.92 L296.30,470.68 L296.55,470.90 L296.80,470.54 L297.05,470.47 L297.30,470.31 L297.55,469.94 L297.80,470.49 L298.05,470.77 L298.30,470.71 L298.55,471.43 L298.80,470.91 L299.05,471.33 L299.30,471.46 L299.55,471.06 L299.80,470.87 L300.05,470.40 L300.30,471.08 L300.55,471.61 L300.80,471.96 L301.05,471.76 L301.30,472.01 L301.55,471.39 L301.80,470.98 L302.05,471.81 L302.30,471.50 L302.55,470.33 L302.80,471.40 L303.05,471.25 L303.30,471.68 L303.55,471.01 L303.80,471.21 L304.05,471.22 L304.30,471.25 L304.55,471.75 L304.80,471.03 L305.05,471.31 L305.30,471.88 L305.55,470.53 L305.80,471.51 L306.05,471.51 L306.30,471.06 L306.55,470.21 L306.80,470.77 L307.05,470.36 L307.30,470.29 L307.55,470.83 L307.80,471.22 L308.05,471.89 L308.30,471.55 L308.55,471.70 L308.80,471.35 L309.05,470.31 L309.30,470.56" fill="none" stroke="#174d78" stroke-width="1.45" stroke-linejoin="round"/><line x1="105.59" y1="276.5" x2="105.59" y2="485.0" stroke="#838383" stroke-width="1.3" stroke-dasharray="5.3 4.6" stroke-dashoffset="-0.7"/><line x1="130.45" y1="276.5" x2="130.45" y2="485.0" stroke="#838383" stroke-width="1.3" stroke-dasharray="5.3 4.6" stroke-dashoffset="-0.7"/><line x1="213.05" y1="276.5" x2="213.05" y2="485.0" stroke="#838383" stroke-width="1.3" stroke-dasharray="5.3 4.6" stroke-dashoffset="-0.7"/><line x1="267.58" y1="276.5" x2="267.58" y2="485.0" stroke="#838383" stroke-width="1.3" stroke-dasharray="5.3 4.6" stroke-dashoffset="-0.7"/><line x1="285.52" y1="276.5" x2="285.52" y2="485.0" stroke="#838383" stroke-width="1.3" stroke-dasharray="5.3 4.6" stroke-dashoffset="-0.7"/><rect x="25.3" y="276.5" width="284.2" height="209.0" fill="none" stroke="#3a3a3a" stroke-width="1"/><line x1="60.83" y1="485.5" x2="60.83" y2="481.5" stroke="#3a3a3a" stroke-width="1"/><line x1="60.83" y1="276.5" x2="60.83" y2="280.5" stroke="#3a3a3a" stroke-width="1"/><line x1="96.35" y1="485.5" x2="96.35" y2="481.5" stroke="#3a3a3a" stroke-width="1"/><line x1="96.35" y1="276.5" x2="96.35" y2="280.5" stroke="#3a3a3a" stroke-width="1"/><line x1="131.88" y1="485.5" x2="131.88" y2="481.5" stroke="#3a3a3a" stroke-width="1"/><line x1="131.88" y1="276.5" x2="131.88" y2="280.5" stroke="#3a3a3a" stroke-width="1"/><line x1="167.40" y1="485.5" x2="167.40" y2="481.5" stroke="#3a3a3a" stroke-width="1"/><line x1="167.40" y1="276.5" x2="167.40" y2="280.5" stroke="#3a3a3a" stroke-width="1"/><line x1="202.93" y1="485.5" x2="202.93" y2="481.5" stroke="#3a3a3a" stroke-width="1"/><line x1="202.93" y1="276.5" x2="202.93" y2="280.5" stroke="#3a3a3a" stroke-width="1"/><line x1="238.45" y1="485.5" x2="238.45" y2="481.5" stroke="#3a3a3a" stroke-width="1"/><line x1="238.45" y1="276.5" x2="238.45" y2="280.5" stroke="#3a3a3a" stroke-width="1"/><line x1="273.97" y1="485.5" x2="273.97" y2="481.5" stroke="#3a3a3a" stroke-width="1"/><line x1="273.97" y1="276.5" x2="273.97" y2="280.5" stroke="#3a3a3a" stroke-width="1"/><text x="25.30" y="501.5" font-size="14.5" text-anchor="middle">20</text><text x="96.35" y="501.5" font-size="14.5" text-anchor="middle">40</text><text x="167.40" y="501.5" font-size="14.5" text-anchor="middle">60</text><text x="238.45" y="501.5" font-size="14.5" text-anchor="middle">80</text><text x="309.50" y="501.5" font-size="14.5" text-anchor="middle">100</text><text x="167.40" y="519.7" font-size="14" text-anchor="middle">2θ (°)</text><path d="M376.30,353.89 L376.55,353.85 L376.80,353.84 L377.05,353.77 L377.30,353.82 L377.55,353.84 L377.80,353.81 L378.05,353.70 L378.30,353.70 L378.55,353.65 L378.80,353.60 L379.05,353.68 L379.30,353.72 L379.55,353.57 L379.80,353.62 L380.05,353.59 L380.30,353.53 L380.55,353.47 L380.80,353.49 L381.05,353.46 L381.30,353.47 L381.55,353.46 L381.80,353.35 L382.05,353.39 L382.30,353.44 L382.55,353.45 L382.80,353.38 L383.05,353.25 L383.30,353.16 L383.55,353.13 L383.80,353.23 L384.05,353.17 L384.30,353.14 L384.55,353.20 L384.80,353.12 L385.05,353.11 L385.30,353.07 L385.55,352.99 L385.80,353.02 L386.05,353.06 L386.30,352.96 L386.55,352.91 L386.80,352.91 L387.05,352.84 L387.30,352.86 L387.55,352.92 L387.80,352.91 L388.05,352.88 L388.30,352.90 L388.55,352.79 L388.80,352.79 L389.05,352.75 L389.30,352.76 L389.55,352.68 L389.80,352.73 L390.05,352.64 L390.30,352.60 L390.55,352.67 L390.80,352.72 L391.05,352.65 L391.30,352.61 L391.55,352.55 L391.80,352.52 L392.05,352.55 L392.30,352.49 L392.55,352.44 L392.80,352.46 L393.05,352.42 L393.30,352.47 L393.55,352.51 L393.80,352.52 L394.05,352.47 L394.30,352.42 L394.55,352.40 L394.80,352.31 L395.05,352.37 L395.30,352.34 L395.55,352.31 L395.80,352.25 L396.05,352.28 L396.30,352.31 L396.55,352.28 L396.80,352.34 L397.05,352.33 L397.30,352.25 L397.55,352.25 L397.80,352.31 L398.05,352.27 L398.30,352.25 L398.55,352.16 L398.80,352.17 L399.05,352.17 L399.30,352.15 L399.55,352.14 L399.80,352.15 L400.05,352.15 L400.30,352.13 L400.55,352.07 L400.80,352.07 L401.05,352.15 L401.30,352.10 L401.55,352.01 L401.80,351.95 L402.05,352.00 L402.30,351.94 L402.55,351.92 L402.80,351.90 L403.05,351.94 L403.30,352.04 L403.55,352.01 L403.80,351.98 L404.05,351.96 L404.30,351.95 L404.55,351.93 L404.80,351.97 L405.05,352.00 L405.30,351.98 L405.55,351.92 L405.80,351.93 L406.05,351.96 L406.30,351.85 L406.55,351.81 L406.80,351.84 L407.05,351.86 L407.30,351.86 L407.55,351.84 L407.80,351.87 L408.05,351.82 L408.30,351.84 L408.55,351.87 L408.80,351.80 L409.05,351.82 L409.30,351.80 L409.55,351.82 L409.80,351.68 L410.05,351.75 L410.30,351.75 L410.55,351.78 L410.80,351.79 L411.05,351.67 L411.30,351.67 L411.55,351.58 L411.80,351.60 L412.05,351.66 L412.30,351.56 L412.55,351.54 L412.80,351.47 L413.05,351.45 L413.30,351.44 L413.55,351.41 L413.80,351.53 L414.05,351.57 L414.30,351.51 L414.55,351.52 L414.80,351.51 L415.05,351.47 L415.30,351.43 L415.55,351.44 L415.80,351.43 L416.05,351.36 L416.30,351.34 L416.55,351.37 L416.80,351.37 L417.05,351.30 L417.30,351.32 L417.55,351.37 L417.80,351.39 L418.05,351.35 L418.30,351.24 L418.55,351.23 L418.80,351.17 L419.05,351.12 L419.30,351.13 L419.55,351.15 L419.80,351.21 L420.05,351.21 L420.30,351.15 L420.55,351.17 L420.80,351.15 L421.05,351.13 L421.30,351.08 L421.55,351.07 L421.80,351.05 L422.05,351.09 L422.30,351.06 L422.55,351.04 L422.80,351.02 L423.05,351.01 L423.30,351.03 L423.55,351.04 L423.80,351.05 L424.05,350.98 L424.30,351.00 L424.55,351.03 L424.80,351.05 L425.05,351.00 L425.30,350.87 L425.55,350.92 L425.80,350.94 L426.05,350.81 L426.30,350.78 L426.55,350.76 L426.80,350.81 L427.05,350.81 L427.30,350.75 L427.55,350.69 L427.80,350.65 L428.05,350.61 L428.30,350.69 L428.55,350.75 L428.80,350.65 L429.05,350.68 L429.30,350.71 L429.55,350.60 L429.80,350.60 L430.05,350.56 L430.30,350.62 L430.55,350.62 L430.80,350.47 L431.05,350.42 L431.30,350.48 L431.55,350.46 L431.80,350.43 L432.05,350.45 L432.30,350.44 L432.55,350.46 L432.80,350.35 L433.05,350.25 L433.30,350.29 L433.55,350.19 L433.80,350.21 L434.05,350.26 L434.30,350.20 L434.55,350.19 L434.80,350.11 L435.05,350.05 L435.30,350.09 L435.55,350.13 L435.80,350.17 L436.05,350.02 L436.30,350.08 L436.55,350.03 L436.80,349.97 L437.05,349.94 L437.30,349.94 L437.55,349.90 L437.80,349.83 L438.05,349.91 L438.30,349.91 L438.55,349.89 L438.80,349.89 L439.05,349.92 L439.30,349.80 L439.55,349.83 L439.80,349.84 L440.05,349.76 L440.30,349.75 L440.55,349.72 L440.80,349.66 L441.05,349.66 L441.30,349.60 L441.55,349.70 L441.80,349.62 L442.05,349.64 L442.30,349.64 L442.55,349.70 L442.80,349.70 L443.05,349.62 L443.30,349.58 L443.55,349.50 L443.80,349.46 L444.05,349.47 L444.30,349.58 L444.55,349.48 L444.80,349.44 L445.05,349.49 L445.30,349.47 L445.55,349.42 L445.80,349.51 L446.05,349.40 L446.30,349.43 L446.55,349.41 L446.80,349.37 L447.05,349.32 L447.30,349.27 L447.55,349.28 L447.80,349.32 L448.05,349.27 L448.30,349.28 L448.55,349.28 L448.80,349.15 L449.05,349.16 L449.30,349.09 L449.55,349.00 L449.80,348.93 L450.05,348.90 L450.30,348.76 L450.55,348.58 L450.80,348.56 L451.05,348.34 L451.30,348.12 L451.55,348.00 L451.80,347.74 L452.05,347.45 L452.30,347.16 L452.55,346.81 L452.80,346.24 L453.05,345.67 L453.30,344.86 L453.55,343.83 L453.80,342.48 L454.05,340.63 L454.30,338.26 L454.55,335.18 L454.80,331.03 L455.05,325.60 L455.30,319.53 L455.55,314.14 L455.80,311.91 L456.05,314.15 L456.30,319.53 L456.55,325.66 L456.80,331.13 L457.05,335.27 L457.30,338.51 L457.55,340.86 L457.80,342.55 L458.05,343.98 L458.30,344.94 L458.55,345.84 L458.80,346.46 L459.05,347.06 L459.30,347.49 L459.55,347.79 L459.80,348.10 L460.05,348.42 L460.30,348.53 L460.55,348.67 L460.80,348.82 L461.05,349.04 L461.30,349.11 L461.55,349.19 L461.80,349.33 L462.05,349.43 L462.30,349.49 L462.55,349.57 L462.80,349.55 L463.05,349.56 L463.30,349.59 L463.55,349.63 L463.80,349.78 L464.05,349.90 L464.30,349.84 L464.55,349.86 L464.80,349.83 L465.05,349.88 L465.30,349.96 L465.55,349.99 L465.80,350.06 L466.05,350.04 L466.30,349.96 L466.55,349.97 L466.80,349.99 L467.05,349.98 L467.30,349.93 L467.55,349.99 L467.80,350.00 L468.05,350.04 L468.30,350.00 L468.55,349.92 L468.80,349.91 L469.05,349.88 L469.30,349.90 L469.55,349.85 L469.80,349.81 L470.05,349.84 L470.30,349.79 L470.55,349.74 L470.80,349.70 L471.05,349.75 L471.30,349.78 L471.55,349.77 L471.80,349.70 L472.05,349.65 L472.30,349.62 L472.55,349.51 L472.80,349.44 L473.05,349.40 L473.30,349.32 L473.55,349.22 L473.80,349.13 L474.05,349.00 L474.30,348.82 L474.55,348.66 L474.80,348.56 L475.05,348.36 L475.30,348.21 L475.55,347.93 L475.80,347.68 L476.05,347.29 L476.30,346.91 L476.55,346.56 L476.80,345.98 L477.05,345.40 L477.30,344.57 L477.55,343.71 L477.80,342.58 L478.05,341.24 L478.30,339.45 L478.55,337.13 L478.80,334.02 L479.05,330.00 L479.30,324.56 L479.55,317.48 L479.80,308.42 L480.05,297.92 L480.30,288.10 L480.55,282.89 L480.80,285.25 L481.05,293.76 L481.30,304.37 L481.55,314.20 L481.80,322.05 L482.05,327.98 L482.30,332.54 L482.55,335.92 L482.80,338.59 L483.05,340.50 L483.30,342.07 L483.55,343.35 L483.80,344.42 L484.05,345.19 L484.30,345.82 L484.55,346.42 L484.80,346.91 L485.05,347.33 L485.30,347.66 L485.55,347.85 L485.80,348.19 L486.05,348.44 L486.30,348.57 L486.55,348.75 L486.80,348.93 L487.05,349.09 L487.30,349.20 L487.55,349.19 L487.80,349.23 L488.05,349.34 L488.30,349.44 L488.55,349.50 L488.80,349.63 L489.05,349.73 L489.30,349.74 L489.55,349.82 L489.80,349.80 L490.05,349.93 L490.30,349.90 L490.55,349.89 L490.80,349.93 L491.05,350.05 L491.30,350.08 L491.55,350.12 L491.80,350.17 L492.05,350.14 L492.30,350.23 L492.55,350.29 L492.80,350.25 L493.05,350.28 L493.30,350.32 L493.55,350.30 L493.80,350.23 L494.05,350.28 L494.30,350.28 L494.55,350.36 L494.80,350.29 L495.05,350.24 L495.30,350.24 L495.55,350.25 L495.80,350.29 L496.05,350.28 L496.30,350.31 L496.55,350.36 L496.80,350.33 L497.05,350.37 L497.30,350.37 L497.55,350.32 L497.80,350.40 L498.05,350.42 L498.30,350.47 L498.55,350.52 L498.80,350.42 L499.05,350.47 L499.30,350.46 L499.55,350.53 L499.80,350.44 L500.05,350.51 L500.30,350.49 L500.55,350.42 L500.80,350.45 L501.05,350.53 L501.30,350.45 L501.55,350.46 L501.80,350.41 L502.05,350.38 L502.30,350.50 L502.55,350.52 L502.80,350.53 L503.05,350.59 L503.30,350.49 L503.55,350.58 L503.80,350.60 L504.05,350.62 L504.30,350.63 L504.55,350.57 L504.80,350.48 L505.05,350.59 L505.30,350.59 L505.55,350.60 L505.80,350.61 L506.05,350.54 L506.30,350.57 L506.55,350.56 L506.80,350.51 L507.05,350.53 L507.30,350.54 L507.55,350.52 L507.80,350.58 L508.05,350.64 L508.30,350.62 L508.55,350.51 L508.80,350.55 L509.05,350.58 L509.30,350.62 L509.55,350.57 L509.80,350.53 L510.05,350.53 L510.30,350.50 L510.55,350.58 L510.80,350.50 L511.05,350.55 L511.30,350.62 L511.55,350.52 L511.80,350.50 L512.05,350.62 L512.30,350.57 L512.55,350.62 L512.80,350.53 L513.05,350.55 L513.30,350.49 L513.55,350.50 L513.80,350.47 L514.05,350.56 L514.30,350.56 L514.55,350.55 L514.80,350.56 L515.05,350.60 L515.30,350.56 L515.55,350.52 L515.80,350.48 L516.05,350.56 L516.30,350.60 L516.55,350.56 L516.80,350.58 L517.05,350.66 L517.30,350.62 L517.55,350.65 L517.80,350.60 L518.05,350.61 L518.30,350.65 L518.55,350.65 L518.80,350.64 L519.05,350.59 L519.30,350.52 L519.55,350.56 L519.80,350.61 L520.05,350.59 L520.30,350.63 L520.55,350.61 L520.80,350.54 L521.05,350.58 L521.30,350.60 L521.55,350.57 L521.80,350.54 L522.05,350.65 L522.30,350.64 L522.55,350.66 L522.80,350.56 L523.05,350.62 L523.30,350.56 L523.55,350.58 L523.80,350.58 L524.05,350.58 L524.30,350.64 L524.55,350.58 L524.80,350.66 L525.05,350.69 L525.30,350.65 L525.55,350.69 L525.80,350.66 L526.05,350.70 L526.30,350.66 L526.55,350.71 L526.80,350.70 L527.05,350.69 L527.30,350.73 L527.55,350.71 L527.80,350.62 L528.05,350.64 L528.30,350.58 L528.55,350.59 L528.80,350.64 L529.05,350.58 L529.30,350.59 L529.55,350.56 L529.80,350.58 L530.05,350.56 L530.30,350.63 L530.55,350.68 L530.80,350.65 L531.05,350.67 L531.30,350.69 L531.55,350.71 L531.80,350.72 L532.05,350.70 L532.30,350.71 L532.55,350.71 L532.80,350.68 L533.05,350.70 L533.30,350.62 L533.55,350.67 L533.80,350.67 L534.05,350.66 L534.30,350.67 L534.55,350.72 L534.80,350.73 L535.05,350.72 L535.30,350.75 L535.55,350.76 L535.80,350.67 L536.05,350.72 L536.30,350.75 L536.55,350.71 L536.80,350.75 L537.05,350.65 L537.30,350.70 L537.55,350.63 L537.80,350.63 L538.05,350.64 L538.30,350.64 L538.55,350.65 L538.80,350.59 L539.05,350.55 L539.30,350.64 L539.55,350.61 L539.80,350.60 L540.05,350.66 L540.30,350.70 L540.55,350.69 L540.80,350.73 L541.05,350.67 L541.30,350.73 L541.55,350.72 L541.80,350.75 L542.05,350.76 L542.30,350.74 L542.55,350.77 L542.80,350.76 L543.05,350.70 L543.30,350.62 L543.55,350.63 L543.80,350.66 L544.05,350.59 L544.30,350.64 L544.55,350.64 L544.80,350.65 L545.05,350.58 L545.30,350.55 L545.55,350.63 L545.80,350.61 L546.05,350.58 L546.30,350.67 L546.55,350.59 L546.80,350.66 L547.05,350.70 L547.30,350.74 L547.55,350.72 L547.80,350.61 L548.05,350.61 L548.30,350.68 L548.55,350.64 L548.80,350.64 L549.05,350.67 L549.30,350.66 L549.55,350.61 L549.80,350.63 L550.05,350.61 L550.30,350.58 L550.55,350.51 L550.80,350.51 L551.05,350.62 L551.30,350.56 L551.55,350.53 L551.80,350.61 L552.05,350.51 L552.30,350.47 L552.55,350.47 L552.80,350.47 L553.05,350.46 L553.30,350.42 L553.55,350.37 L553.80,350.40 L554.05,350.34 L554.30,350.27 L554.55,350.34 L554.80,350.36 L555.05,350.29 L555.30,350.32 L555.55,350.19 L555.80,350.22 L556.05,350.18 L556.30,350.12 L556.55,349.96 L556.80,349.95 L557.05,349.81 L557.30,349.75 L557.55,349.66 L557.80,349.47 L558.05,349.33 L558.30,349.28 L558.55,349.12 L558.80,348.84 L559.05,348.66 L559.30,348.25 L559.55,347.92 L559.80,347.52 L560.05,347.00 L560.30,346.30 L560.55,345.46 L560.80,344.30 L561.05,342.97 L561.30,341.20 L561.55,338.89 L561.80,335.91 L562.05,332.38 L562.30,328.32 L562.55,324.68 L562.80,322.52 L563.05,322.76 L563.30,325.38 L563.55,329.14 L563.80,333.09 L564.05,336.57 L564.30,339.44 L564.55,341.62 L564.80,343.37 L565.05,344.64 L565.30,345.73 L565.55,346.52 L565.80,347.15 L566.05,347.62 L566.30,348.13 L566.55,348.53 L566.80,348.78 L567.05,349.00 L567.30,349.19 L567.55,349.38 L567.80,349.50 L568.05,349.74 L568.30,349.85 L568.55,349.91 L568.80,350.06 L569.05,350.10 L569.30,350.26 L569.55,350.23 L569.80,350.33 L570.05,350.42 L570.30,350.45 L570.55,350.45 L570.80,350.59 L571.05,350.63 L571.30,350.68 L571.55,350.64 L571.80,350.61 L572.05,350.75 L572.30,350.72 L572.55,350.69 L572.80,350.81 L573.05,350.84 L573.30,350.78 L573.55,350.85 L573.80,350.88 L574.05,350.98 L574.30,350.98 L574.55,350.92 L574.80,350.97 L575.05,351.03 L575.30,351.10 L575.55,351.03 L575.80,351.05 L576.05,350.98 L576.30,351.09 L576.55,351.03 L576.80,351.08 L577.05,351.15 L577.30,351.13 L577.55,351.20 L577.80,351.15 L578.05,351.16 L578.30,351.21 L578.55,351.11 L578.80,351.20 L579.05,351.25 L579.30,351.17 L579.55,351.21 L579.80,351.18 L580.05,351.15 L580.30,351.19 L580.55,351.25 L580.80,351.23 L581.05,351.21 L581.30,351.19 L581.55,351.24 L581.80,351.27 L582.05,351.34 L582.30,351.37 L582.55,351.26 L582.80,351.23 L583.05,351.21 L583.30,351.23 L583.55,351.32 L583.80,351.33 L584.05,351.37 L584.30,351.42 L584.55,351.37 L584.80,351.29 L585.05,351.28 L585.30,351.35 L585.55,351.38 L585.80,351.34 L586.05,351.41 L586.30,351.33 L586.55,351.32 L586.80,351.37 L587.05,351.42 L587.30,351.49 L587.55,351.45 L587.80,351.50 L588.05,351.47 L588.30,351.44 L588.55,351.52 L588.80,351.50 L589.05,351.52 L589.30,351.47 L589.55,351.55 L589.80,351.52 L590.05,351.44 L590.30,351.41 L590.55,351.44 L590.80,351.48 L591.05,351.45 L591.30,351.56 L591.55,351.57 L591.80,351.64 L592.05,351.64 L592.30,351.67 L592.55,351.59 L592.80,351.54 L593.05,351.55 L593.30,351.59 L593.55,351.56 L593.80,351.69 L594.05,351.66 L594.30,351.74 L594.55,351.66 L594.80,351.76 L595.05,351.74 L595.30,351.76 L595.55,351.80 L595.80,351.82 L596.05,351.80 L596.30,351.78 L596.55,351.81 L596.80,351.85 L597.05,351.80 L597.30,351.81 L597.55,351.80 L597.80,351.93 L598.05,351.98 L598.30,352.03 L598.55,352.04 L598.80,351.95 L599.05,351.96 L599.30,352.06 L599.55,352.05 L599.80,352.03 L600.05,352.00 L600.30,352.12 L600.55,352.05 L600.80,352.06 L601.05,352.07 L601.30,352.13 L601.55,352.20 L601.80,352.22 L602.05,352.27 L602.30,352.19 L602.55,352.22 L602.80,352.24 L603.05,352.15 L603.30,352.18 L603.55,352.25 L603.80,352.15 L604.05,352.13 L604.30,352.18 L604.55,352.21 L604.80,352.21 L605.05,352.27 L605.30,352.21 L605.55,352.23 L605.80,352.21 L606.05,352.25 L606.30,352.20 L606.55,352.25 L606.80,352.26 L607.05,352.25 L607.30,352.27 L607.55,352.23 L607.80,352.15 L608.05,352.21 L608.30,352.14 L608.55,352.10 L608.80,352.12 L609.05,352.10 L609.30,352.17 L609.55,352.10 L609.80,352.14 L610.05,352.07 L610.30,351.99 L610.55,351.99 L610.80,352.00 L611.05,351.93 L611.30,351.92 L611.55,351.88 L611.80,351.77 L612.05,351.70 L612.30,351.68 L612.55,351.70 L612.80,351.58 L613.05,351.61 L613.30,351.48 L613.55,351.32 L613.80,351.19 L614.05,351.16 L614.30,351.03 L614.55,350.82 L614.80,350.48 L615.05,350.22 L615.30,349.76 L615.55,349.29 L615.80,348.67 L616.05,348.01 L616.30,347.17 L616.55,346.04 L616.80,344.94 L617.05,343.77 L617.30,343.00 L617.55,342.70 L617.80,343.23 L618.05,344.20 L618.30,345.30 L618.55,346.52 L618.80,347.56 L619.05,348.35 L619.30,348.98 L619.55,349.47 L619.80,349.96 L620.05,350.28 L620.30,350.54 L620.55,350.79 L620.80,350.93 L621.05,351.15 L621.30,351.26 L621.55,351.35 L621.80,351.45 L622.05,351.54 L622.30,351.61 L622.55,351.64 L622.80,351.75 L623.05,351.85 L623.30,351.86 L623.55,351.90 L623.80,351.95 L624.05,351.90 L624.30,351.98 L624.55,351.98 L624.80,351.99 L625.05,351.99 L625.30,352.05 L625.55,352.02 L625.80,352.04 L626.05,351.98 L626.30,351.94 L626.55,351.98 L626.80,352.04 L627.05,351.96 L627.30,352.01 L627.55,351.96 L627.80,351.91 L628.05,351.98 L628.30,351.90 L628.55,351.90 L628.80,351.93 L629.05,351.94 L629.30,351.94 L629.55,351.82 L629.80,351.75 L630.05,351.72 L630.30,351.76 L630.55,351.77 L630.80,351.66 L631.05,351.54 L631.30,351.49 L631.55,351.37 L631.80,351.18 L632.05,351.10 L632.30,351.01 L632.55,350.80 L632.80,350.55 L633.05,350.13 L633.30,349.77 L633.55,349.35 L633.80,348.68 L634.05,347.91 L634.30,347.01 L634.55,346.09 L634.80,345.14 L635.05,344.51 L635.30,344.25 L635.55,344.50 L635.80,345.24 L636.05,346.10 L636.30,347.04 L636.55,347.93 L636.80,348.68 L637.05,349.30 L637.30,349.89 L637.55,350.23 L637.80,350.60 L638.05,350.89 L638.30,351.04 L638.55,351.19 L638.80,351.27 L639.05,351.47 L639.30,351.57 L639.55,351.61 L639.80,351.78 L640.05,351.82 L640.30,351.84 L640.55,351.90 L640.80,351.90 L641.05,351.93 L641.30,352.03 L641.55,352.09 L641.80,352.05 L642.05,352.14 L642.30,352.20 L642.55,352.20 L642.80,352.22 L643.05,352.24 L643.30,352.28 L643.55,352.30 L643.80,352.33 L644.05,352.30 L644.30,352.29 L644.55,352.23 L644.80,352.30 L645.05,352.33 L645.30,352.36 L645.55,352.37 L645.80,352.35 L646.05,352.27 L646.30,352.33 L646.55,352.36 L646.80,352.30 L647.05,352.28 L647.30,352.31 L647.55,352.27 L647.80,352.40 L648.05,352.31 L648.30,352.37 L648.55,352.43 L648.80,352.32 L649.05,352.34 L649.30,352.34 L649.55,352.43 L649.80,352.47 L650.05,352.43 L650.30,352.44 L650.55,352.46 L650.80,352.35 L651.05,352.30 L651.30,352.35 L651.55,352.42 L651.80,352.43 L652.05,352.46 L652.30,352.35 L652.55,352.32 L652.80,352.29 L653.05,352.33 L653.30,352.41 L653.55,352.33 L653.80,352.33 L654.05,352.33 L654.30,352.35 L654.55,352.31 L654.80,352.32 L655.05,352.25 L655.30,352.21 L655.55,352.28 L655.80,352.24 L656.05,352.30 L656.30,352.30 L656.55,352.30 L656.80,352.28 L657.05,352.36 L657.30,352.31 L657.55,352.37 L657.80,352.27 L658.05,352.31 L658.30,352.26 L658.55,352.35 L658.80,352.25 L659.05,352.33 L659.30,352.36" fill="none" stroke="#f0832c" stroke-width="1.45" stroke-linejoin="round"/><path d="M376.30,416.99 L376.55,417.00 L376.80,417.05 L377.05,416.99 L377.30,416.96 L377.55,416.95 L377.80,416.88 L378.05,416.88 L378.30,416.89 L378.55,416.92 L378.80,416.81 L379.05,416.78 L379.30,416.73 L379.55,416.80 L379.80,416.82 L380.05,416.71 L380.30,416.80 L380.55,416.83 L380.80,416.79 L381.05,416.75 L381.30,416.65 L381.55,416.57 L381.80,416.60 L382.05,416.54 L382.30,416.51 L382.55,416.50 L382.80,416.46 L383.05,416.49 L383.30,416.50 L383.55,416.56 L383.80,416.52 L384.05,416.52 L384.30,416.49 L384.55,416.49 L384.80,416.44 L385.05,416.39 L385.30,416.46 L385.55,416.49 L385.80,416.47 L386.05,416.44 L386.30,416.34 L386.55,416.28 L386.80,416.24 L387.05,416.18 L387.30,416.26 L387.55,416.22 L387.80,416.27 L388.05,416.21 L388.30,416.27 L388.55,416.27 L388.80,416.12 L389.05,416.08 L389.30,416.16 L389.55,416.12 L389.80,416.17 L390.05,416.10 L390.30,416.00 L390.55,416.03 L390.80,416.06 L391.05,415.99 L391.30,415.92 L391.55,415.91 L391.80,416.00 L392.05,416.00 L392.30,415.90 L392.55,415.85 L392.80,415.80 L393.05,415.76 L393.30,415.85 L393.55,415.79 L393.80,415.81 L394.05,415.80 L394.30,415.74 L394.55,415.79 L394.80,415.72 L395.05,415.75 L395.30,415.68 L395.55,415.68 L395.80,415.65 L396.05,415.63 L396.30,415.73 L396.55,415.74 L396.80,415.66 L397.05,415.71 L397.30,415.62 L397.55,415.59 L397.80,415.65 L398.05,415.64 L398.30,415.54 L398.55,415.63 L398.80,415.54 L399.05,415.50 L399.30,415.55 L399.55,415.50 L399.80,415.47 L400.05,415.41 L400.30,415.38 L400.55,415.43 L400.80,415.40 L401.05,415.44 L401.30,415.41 L401.55,415.41 L401.80,415.48 L402.05,415.44 L402.30,415.42 L402.55,415.46 L402.80,415.36 L403.05,415.30 L403.30,415.38 L403.55,415.41 L403.80,415.32 L404.05,415.26 L404.30,415.32 L404.55,415.37 L404.80,415.27 L405.05,415.34 L405.30,415.35 L405.55,415.31 L405.80,415.25 L406.05,415.17 L406.30,415.11 L406.55,415.22 L406.80,415.16 L407.05,415.19 L407.30,415.14 L407.55,415.19 L407.80,415.18 L408.05,415.11 L408.30,415.06 L408.55,415.11 L408.80,415.03 L409.05,415.01 L409.30,415.04 L409.55,415.10 L409.80,415.09 L410.05,415.02 L410.30,415.09 L410.55,415.00 L410.80,414.92 L411.05,414.91 L411.30,414.93 L411.55,414.88 L411.80,414.86 L412.05,414.88 L412.30,414.91 L412.55,414.85 L412.80,414.86 L413.05,414.94 L413.30,414.99 L413.55,414.95 L413.80,414.94 L414.05,414.91 L414.30,414.81 L414.55,414.74 L414.80,414.70 L415.05,414.82 L415.30,414.84 L415.55,414.88 L415.80,414.75 L416.05,414.78 L416.30,414.76 L416.55,414.79 L416.80,414.73 L417.05,414.80 L417.30,414.69 L417.55,414.70 L417.80,414.73 L418.05,414.77 L418.30,414.75 L418.55,414.74 L418.80,414.74 L419.05,414.75 L419.30,414.66 L419.55,414.67 L419.80,414.70 L420.05,414.71 L420.30,414.63 L420.55,414.65 L420.80,414.67 L421.05,414.62 L421.30,414.60 L421.55,414.55 L421.80,414.55 L422.05,414.55 L422.30,414.46 L422.55,414.50 L422.80,414.57 L423.05,414.59 L423.30,414.57 L423.55,414.50 L423.80,414.51 L424.05,414.49 L424.30,414.45 L424.55,414.49 L424.80,414.39 L425.05,414.44 L425.30,414.34 L425.55,414.38 L425.80,414.38 L426.05,414.33 L426.30,414.38 L426.55,414.37 L426.80,414.38 L427.05,414.43 L427.30,414.34 L427.55,414.25 L427.80,414.25 L428.05,414.31 L428.30,414.26 L428.55,414.22 L428.80,414.32 L429.05,414.32 L429.30,414.29 L429.55,414.34 L429.80,414.27 L430.05,414.29 L430.30,414.21 L430.55,414.21 L430.80,414.27 L431.05,414.31 L431.30,414.32 L431.55,414.25 L431.80,414.24 L432.05,414.18 L432.30,414.13 L432.55,414.15 L432.80,414.22 L433.05,414.25 L433.30,414.24 L433.55,414.27 L433.80,414.17 L434.05,414.10 L434.30,414.11 L434.55,414.08 L434.80,414.06 L435.05,414.07 L435.30,414.11 L435.55,414.11 L435.80,414.07 L436.05,414.14 L436.30,414.19 L436.55,414.13 L436.80,414.03 L437.05,413.97 L437.30,414.08 L437.55,413.99 L437.80,414.05 L438.05,414.06 L438.30,414.02 L438.55,414.07 L438.80,413.97 L439.05,413.94 L439.30,413.97 L439.55,413.91 L439.80,414.01 L440.05,413.96 L440.30,413.91 L440.55,413.87 L440.80,413.94 L441.05,413.94 L441.30,413.97 L441.55,413.98 L441.80,414.01 L442.05,414.04 L442.30,414.01 L442.55,413.91 L442.80,413.90 L443.05,413.84 L443.30,413.77 L443.55,413.81 L443.80,413.86 L444.05,413.79 L444.30,413.76 L444.55,413.75 L444.80,413.79 L445.05,413.77 L445.30,413.77 L445.55,413.78 L445.80,413.71 L446.05,413.73 L446.30,413.74 L446.55,413.60 L446.80,413.65 L447.05,413.62 L447.30,413.49 L447.55,413.46 L447.80,413.45 L448.05,413.46 L448.30,413.35 L448.55,413.30 L448.80,413.29 L449.05,413.23 L449.30,413.18 L449.55,413.03 L449.80,412.93 L450.05,412.74 L450.30,412.67 L450.55,412.56 L450.80,412.39 L451.05,412.21 L451.30,411.91 L451.55,411.73 L451.80,411.48 L452.05,411.15 L452.30,410.68 L452.55,410.18 L452.80,409.49 L453.05,408.80 L453.30,407.87 L453.55,406.61 L453.80,405.02 L454.05,403.10 L454.30,400.62 L454.55,397.44 L454.80,393.36 L455.05,388.44 L455.30,383.43 L455.55,379.19 L455.80,377.62 L456.05,379.20 L456.30,383.36 L456.55,388.52 L456.80,393.28 L457.05,397.31 L457.30,400.57 L457.55,403.13 L457.80,405.12 L458.05,406.63 L458.30,407.85 L458.55,408.74 L458.80,409.54 L459.05,410.04 L459.30,410.51 L459.55,410.95 L459.80,411.28 L460.05,411.63 L460.30,411.90 L460.55,412.10 L460.80,412.33 L461.05,412.47 L461.30,412.55 L461.55,412.66 L461.80,412.83 L462.05,412.97 L462.30,412.96 L462.55,413.09 L462.80,413.20 L463.05,413.21 L463.30,413.25 L463.55,413.23 L463.80,413.29 L464.05,413.33 L464.30,413.38 L464.55,413.32 L464.80,413.46 L465.05,413.46 L465.30,413.45 L465.55,413.52 L465.80,413.52 L466.05,413.51 L466.30,413.54 L466.55,413.46 L466.80,413.50 L467.05,413.50 L467.30,413.58 L467.55,413.62 L467.80,413.53 L468.05,413.51 L468.30,413.44 L468.55,413.45 L468.80,413.51 L469.05,413.55 L469.30,413.49 L469.55,413.42 L469.80,413.36 L470.05,413.38 L470.30,413.43 L470.55,413.31 L470.80,413.33 L471.05,413.21 L471.30,413.15 L471.55,413.10 L471.80,413.12 L472.05,413.05 L472.30,412.98 L472.55,412.95 L472.80,412.82 L473.05,412.81 L473.30,412.65 L473.55,412.58 L473.80,412.44 L474.05,412.30 L474.30,412.20 L474.55,412.05 L474.80,411.86 L475.05,411.66 L475.30,411.45 L475.55,411.13 L475.80,410.81 L476.05,410.51 L476.30,410.13 L476.55,409.64 L476.80,409.11 L477.05,408.41 L477.30,407.62 L477.55,406.53 L477.80,405.34 L478.05,403.85 L478.30,401.97 L478.55,399.47 L478.80,396.34 L479.05,392.45 L479.30,387.30 L479.55,381.02 L479.80,373.45 L480.05,365.17 L480.30,358.08 L480.55,354.62 L480.80,356.14 L481.05,362.03 L481.30,370.12 L481.55,378.07 L481.80,385.02 L482.05,390.52 L482.30,394.92 L482.55,398.39 L482.80,400.98 L483.05,403.08 L483.30,404.83 L483.55,406.25 L483.80,407.39 L484.05,408.17 L484.30,408.93 L484.55,409.60 L484.80,410.11 L485.05,410.58 L485.30,410.90 L485.55,411.18 L485.80,411.45 L486.05,411.68 L486.30,411.98 L486.55,412.21 L486.80,412.41 L487.05,412.51 L487.30,412.63 L487.55,412.75 L487.80,412.96 L488.05,413.14 L488.30,413.27 L488.55,413.23 L488.80,413.25 L489.05,413.43 L489.30,413.48 L489.55,413.58 L489.80,413.58 L490.05,413.63 L490.30,413.69 L490.55,413.73 L490.80,413.79 L491.05,413.75 L491.30,413.86 L491.55,413.95 L491.80,413.91 L492.05,413.94 L492.30,414.02 L492.55,414.02 L492.80,414.00 L493.05,414.00 L493.30,414.06 L493.55,414.03 L493.80,414.16 L494.05,414.22 L494.30,414.25 L494.55,414.30 L494.80,414.29 L495.05,414.26 L495.30,414.29 L495.55,414.29 L495.80,414.38 L496.05,414.40 L496.30,414.33 L496.55,414.41 L496.80,414.43 L497.05,414.45 L497.30,414.47 L497.55,414.42 L497.80,414.49 L498.05,414.52 L498.30,414.51 L498.55,414.52 L498.80,414.54 L499.05,414.49 L499.30,414.52 L499.55,414.44 L499.80,414.45 L500.05,414.47 L500.30,414.42 L500.55,414.45 L500.80,414.52 L501.05,414.55 L501.30,414.51 L501.55,414.61 L501.80,414.62 L502.05,414.57 L502.30,414.61 L502.55,414.61 L502.80,414.61 L503.05,414.59 L503.30,414.69 L503.55,414.68 L503.80,414.69 L504.05,414.70 L504.30,414.75 L504.55,414.63 L504.80,414.66 L505.05,414.70 L505.30,414.65 L505.55,414.65 L505.80,414.59 L506.05,414.59 L506.30,414.62 L506.55,414.60 L506.80,414.61 L507.05,414.73 L507.30,414.73 L507.55,414.73 L507.80,414.80 L508.05,414.78 L508.30,414.84 L508.55,414.81 L508.80,414.83 L509.05,414.72 L509.30,414.76 L509.55,414.80 L509.80,414.71 L510.05,414.81 L510.30,414.74 L510.55,414.75 L510.80,414.72 L511.05,414.75 L511.30,414.79 L511.55,414.72 L511.80,414.83 L512.05,414.81 L512.30,414.81 L512.55,414.83 L512.80,414.80 L513.05,414.78 L513.30,414.83 L513.55,414.84 L513.80,414.80 L514.05,414.85 L514.30,414.81 L514.55,414.75 L514.80,414.76 L515.05,414.73 L515.30,414.74 L515.55,414.84 L515.80,414.83 L516.05,414.91 L516.30,414.93 L516.55,414.83 L516.80,414.93 L517.05,414.97 L517.30,414.86 L517.55,414.93 L517.80,414.90 L518.05,414.89 L518.30,414.96 L518.55,414.88 L518.80,414.89 L519.05,414.96 L519.30,414.97 L519.55,414.93 L519.80,414.99 L520.05,415.00 L520.30,414.97 L520.55,414.88 L520.80,414.91 L521.05,414.90 L521.30,414.86 L521.55,414.82 L521.80,414.87 L522.05,414.83 L522.30,414.87 L522.55,414.92 L522.80,414.92 L523.05,414.88 L523.30,414.92 L523.55,414.91 L523.80,414.97 L524.05,414.95 L524.30,415.02 L524.55,415.05 L524.80,415.03 L525.05,414.94 L525.30,414.88 L525.55,414.97 L525.80,415.00 L526.05,414.99 L526.30,414.95 L526.55,414.91 L526.80,414.96 L527.05,414.96 L527.30,414.97 L527.55,414.98 L527.80,415.01 L528.05,414.93 L528.30,414.90 L528.55,415.01 L528.80,415.05 L529.05,415.06 L529.30,414.94 L529.55,414.88 L529.80,414.88 L530.05,414.91 L530.30,414.96 L530.55,414.90 L530.80,414.94 L531.05,414.88 L531.30,414.86 L531.55,414.94 L531.80,414.96 L532.05,414.99 L532.30,414.96 L532.55,414.96 L532.80,414.92 L533.05,414.92 L533.30,414.99 L533.55,415.03 L533.80,414.94 L534.05,414.89 L534.30,414.98 L534.55,415.00 L534.80,415.03 L535.05,414.96 L535.30,414.95 L535.55,414.93 L535.80,415.00 L536.05,414.97 L536.30,415.00 L536.55,415.06 L536.80,414.99 L537.05,414.99 L537.30,415.02 L537.55,415.07 L537.80,415.01 L538.05,414.97 L538.30,414.91 L538.55,415.00 L538.80,414.92 L539.05,414.88 L539.30,414.94 L539.55,414.95 L539.80,414.99 L540.05,414.95 L540.30,415.00 L540.55,414.92 L540.80,414.90 L541.05,414.96 L541.30,414.89 L541.55,414.90 L541.80,414.96 L542.05,414.99 L542.30,414.94 L542.55,414.89 L542.80,414.90 L543.05,414.96 L543.30,414.93 L543.55,414.88 L543.80,414.95 L544.05,414.95 L544.30,415.01 L544.55,415.05 L544.80,415.06 L545.05,414.98 L545.30,415.00 L545.55,414.93 L545.80,414.90 L546.05,414.89 L546.30,414.97 L546.55,415.00 L546.80,414.91 L547.05,414.88 L547.30,414.86 L547.55,414.85 L547.80,414.85 L548.05,414.84 L548.30,414.81 L548.55,414.84 L548.80,414.89 L549.05,414.87 L549.30,414.91 L549.55,414.88 L549.80,414.79 L550.05,414.84 L550.30,414.88 L550.55,414.79 L550.80,414.70 L551.05,414.73 L551.30,414.74 L551.55,414.74 L551.80,414.80 L552.05,414.77 L552.30,414.77 L552.55,414.64 L552.80,414.64 L553.05,414.67 L553.30,414.56 L553.55,414.48 L553.80,414.54 L554.05,414.58 L554.30,414.44 L554.55,414.45 L554.80,414.35 L555.05,414.37 L555.30,414.34 L555.55,414.23 L555.80,414.14 L556.05,414.15 L556.30,414.07 L556.55,414.03 L556.80,413.89 L557.05,413.76 L557.30,413.73 L557.55,413.60 L557.80,413.42 L558.05,413.24 L558.30,413.07 L558.55,412.85 L558.80,412.63 L559.05,412.26 L559.30,411.92 L559.55,411.48 L559.80,410.98 L560.05,410.34 L560.30,409.57 L560.55,408.62 L560.80,407.45 L561.05,405.92 L561.30,404.02 L561.55,401.74 L561.80,398.99 L562.05,395.76 L562.30,392.43 L562.55,389.52 L562.80,387.96 L563.05,388.23 L563.30,390.09 L563.55,393.04 L563.80,396.33 L564.05,399.46 L564.30,402.13 L564.55,404.44 L564.80,406.12 L565.05,407.54 L565.30,408.65 L565.55,409.64 L565.80,410.44 L566.05,410.99 L566.30,411.45 L566.55,411.91 L566.80,412.30 L567.05,412.68 L567.30,412.83 L567.55,413.02 L567.80,413.20 L568.05,413.37 L568.30,413.52 L568.55,413.73 L568.80,413.86 L569.05,413.91 L569.30,413.97 L569.55,414.05 L569.80,414.11 L570.05,414.26 L570.30,414.29 L570.55,414.37 L570.80,414.47 L571.05,414.49 L571.30,414.48 L571.55,414.60 L571.80,414.68 L572.05,414.64 L572.30,414.67 L572.55,414.76 L572.80,414.74 L573.05,414.70 L573.30,414.66 L573.55,414.80 L573.80,414.85 L574.05,414.82 L574.30,414.84 L574.55,414.85 L574.80,414.83 L575.05,414.93 L575.30,414.94 L575.55,414.89 L575.80,414.83 L576.05,414.88 L576.30,414.89 L576.55,414.97 L576.80,415.00 L577.05,415.01 L577.30,414.94 L577.55,414.91 L577.80,414.93 L578.05,414.93 L578.30,415.03 L578.55,415.03 L578.80,415.05 L579.05,415.12 L579.30,415.04 L579.55,415.05 L579.80,415.00 L580.05,415.07 L580.30,414.99 L580.55,415.08 L580.80,415.13 L581.05,415.16 L581.30,415.06 L581.55,415.04 L581.80,415.10 L582.05,415.04 L582.30,415.07 L582.55,415.08 L582.80,415.17 L583.05,415.16 L583.30,415.20 L583.55,415.13 L583.80,415.18 L584.05,415.14 L584.30,415.20 L584.55,415.11 L584.80,415.18 L585.05,415.12 L585.30,415.14 L585.55,415.15 L585.80,415.10 L586.05,415.18 L586.30,415.14 L586.55,415.12 L586.80,415.08 L587.05,415.09 L587.30,415.13 L587.55,415.19 L587.80,415.16 L588.05,415.20 L588.30,415.13 L588.55,415.14 L588.80,415.16 L589.05,415.25 L589.30,415.28 L589.55,415.26 L589.80,415.15 L590.05,415.16 L590.30,415.22 L590.55,415.17 L590.80,415.20 L591.05,415.20 L591.30,415.13 L591.55,415.25 L591.80,415.29 L592.05,415.21 L592.30,415.24 L592.55,415.20 L592.80,415.20 L593.05,415.23 L593.30,415.20 L593.55,415.20 L593.80,415.21 L594.05,415.26 L594.30,415.22 L594.55,415.19 L594.80,415.26 L595.05,415.24 L595.30,415.33 L595.55,415.31 L595.80,415.33 L596.05,415.28 L596.30,415.33 L596.55,415.24 L596.80,415.21 L597.05,415.19 L597.30,415.27 L597.55,415.32 L597.80,415.26 L598.05,415.27 L598.30,415.34 L598.55,415.34 L598.80,415.26 L599.05,415.24 L599.30,415.23 L599.55,415.21 L599.80,415.25 L600.05,415.22 L600.30,415.34 L600.55,415.32 L600.80,415.32 L601.05,415.35 L601.30,415.38 L601.55,415.40 L601.80,415.35 L602.05,415.31 L602.30,415.30 L602.55,415.24 L602.80,415.26 L603.05,415.32 L603.30,415.40 L603.55,415.40 L603.80,415.39 L604.05,415.37 L604.30,415.26 L604.55,415.25 L604.80,415.25 L605.05,415.30 L605.30,415.23 L605.55,415.24 L605.80,415.26 L606.05,415.31 L606.30,415.34 L606.55,415.32 L606.80,415.23 L607.05,415.28 L607.30,415.32 L607.55,415.28 L607.80,415.22 L608.05,415.21 L608.30,415.14 L608.55,415.19 L608.80,415.25 L609.05,415.20 L609.30,415.19 L609.55,415.20 L609.80,415.09 L610.05,415.14 L610.30,415.11 L610.55,415.00 L610.80,414.92 L611.05,414.88 L611.30,414.90 L611.55,414.90 L611.80,414.82 L612.05,414.85 L612.30,414.74 L612.55,414.66 L612.80,414.52 L613.05,414.54 L613.30,414.36 L613.55,414.32 L613.80,414.17 L614.05,414.00 L614.30,413.80 L614.55,413.52 L614.80,413.32 L615.05,413.03 L615.30,412.62 L615.55,412.09 L615.80,411.38 L616.05,410.72 L616.30,409.81 L616.55,408.92 L616.80,407.85 L617.05,406.97 L617.30,406.42 L617.55,406.19 L617.80,406.55 L618.05,407.23 L618.30,408.14 L618.55,409.14 L618.80,410.19 L619.05,411.05 L619.30,411.71 L619.55,412.21 L619.80,412.69 L620.05,413.10 L620.30,413.36 L620.55,413.63 L620.80,413.88 L621.05,413.95 L621.30,414.08 L621.55,414.23 L621.80,414.31 L622.05,414.42 L622.30,414.54 L622.55,414.56 L622.80,414.65 L623.05,414.68 L623.30,414.76 L623.55,414.78 L623.80,414.85 L624.05,414.81 L624.30,414.90 L624.55,414.86 L624.80,414.99 L625.05,415.00 L625.30,414.99 L625.55,414.97 L625.80,415.01 L626.05,415.03 L626.30,415.06 L626.55,415.07 L626.80,415.03 L627.05,415.09 L627.30,415.09 L627.55,415.09 L627.80,415.01 L628.05,414.97 L628.30,414.96 L628.55,415.00 L628.80,414.95 L629.05,414.91 L629.30,414.86 L629.55,414.89 L629.80,414.79 L630.05,414.67 L630.30,414.69 L630.55,414.69 L630.80,414.63 L631.05,414.52 L631.30,414.44 L631.55,414.26 L631.80,414.14 L632.05,413.90 L632.30,413.68 L632.55,413.48 L632.80,413.23 L633.05,412.88 L633.30,412.41 L633.55,411.99 L633.80,411.40 L634.05,410.67 L634.30,409.89 L634.55,409.10 L634.80,408.35 L635.05,407.79 L635.30,407.72 L635.55,407.98 L635.80,408.50 L636.05,409.26 L636.30,410.01 L636.55,410.83 L636.80,411.45 L637.05,412.10 L637.30,412.60 L637.55,413.07 L637.80,413.32 L638.05,413.67 L638.30,413.83 L638.55,414.06 L638.80,414.31 L639.05,414.35 L639.30,414.45 L639.55,414.56 L639.80,414.66 L640.05,414.70 L640.30,414.88 L640.55,414.99 L640.80,415.00 L641.05,415.02 L641.30,415.08 L641.55,415.05 L641.80,415.04 L642.05,415.19 L642.30,415.19 L642.55,415.23 L642.80,415.33 L643.05,415.39 L643.30,415.35 L643.55,415.30 L643.80,415.29 L644.05,415.40 L644.30,415.45 L644.55,415.37 L644.80,415.44 L645.05,415.40 L645.30,415.41 L645.55,415.37 L645.80,415.46 L646.05,415.53 L646.30,415.44 L646.55,415.47 L646.80,415.42 L647.05,415.50 L647.30,415.42 L647.55,415.38 L647.80,415.47 L648.05,415.45 L648.30,415.53 L648.55,415.57 L648.80,415.57 L649.05,415.47 L649.30,415.52 L649.55,415.58 L649.80,415.53 L650.05,415.45 L650.30,415.43 L650.55,415.44 L650.80,415.51 L651.05,415.46 L651.30,415.43 L651.55,415.43 L651.80,415.50 L652.05,415.55 L652.30,415.51 L652.55,415.54 L652.80,415.59 L653.05,415.56 L653.30,415.50 L653.55,415.47 L653.80,415.56 L654.05,415.56 L654.30,415.50 L654.55,415.53 L654.80,415.45 L655.05,415.56 L655.30,415.53 L655.55,415.52 L655.80,415.52 L656.05,415.44 L656.30,415.49 L656.55,415.46 L656.80,415.45 L657.05,415.52 L657.30,415.45 L657.55,415.44 L657.80,415.51 L658.05,415.47 L658.30,415.45 L658.55,415.48 L658.80,415.44 L659.05,415.53 L659.30,415.60" fill="none" stroke="#ef5f5f" stroke-width="1.45" stroke-linejoin="round"/><path d="M376.30,474.37 L376.55,474.37 L376.80,474.36 L377.05,474.26 L377.30,474.17 L377.55,474.17 L377.80,474.15 L378.05,474.21 L378.30,474.20 L378.55,474.17 L378.80,474.14 L379.05,474.13 L379.30,474.02 L379.55,474.01 L379.80,473.94 L380.05,474.01 L380.30,473.90 L380.55,473.95 L380.80,473.85 L381.05,473.88 L381.30,473.83 L381.55,473.80 L381.80,473.84 L382.05,473.71 L382.30,473.65 L382.55,473.74 L382.80,473.70 L383.05,473.61 L383.30,473.69 L383.55,473.71 L383.80,473.57 L384.05,473.54 L384.30,473.47 L384.55,473.44 L384.80,473.47 L385.05,473.40 L385.30,473.43 L385.55,473.33 L385.80,473.29 L386.05,473.36 L386.30,473.32 L386.55,473.28 L386.80,473.28 L387.05,473.25 L387.30,473.21 L387.55,473.12 L387.80,473.17 L388.05,473.22 L388.30,473.24 L388.55,473.19 L388.80,473.10 L389.05,473.04 L389.30,473.06 L389.55,473.05 L389.80,472.94 L390.05,472.90 L390.30,472.88 L390.55,472.89 L390.80,472.93 L391.05,472.89 L391.30,472.78 L391.55,472.84 L391.80,472.80 L392.05,472.78 L392.30,472.72 L392.55,472.70 L392.80,472.68 L393.05,472.72 L393.30,472.62 L393.55,472.64 L393.80,472.57 L394.05,472.61 L394.30,472.52 L394.55,472.50 L394.80,472.49 L395.05,472.52 L395.30,472.44 L395.55,472.45 L395.80,472.40 L396.05,472.38 L396.30,472.39 L396.55,472.47 L396.80,472.42 L397.05,472.46 L397.30,472.34 L397.55,472.40 L397.80,472.32 L398.05,472.25 L398.30,472.29 L398.55,472.33 L398.80,472.20 L399.05,472.16 L399.30,472.22 L399.55,472.16 L399.80,472.11 L400.05,472.04 L400.30,472.00 L400.55,472.06 L400.80,472.15 L401.05,472.18 L401.30,472.11 L401.55,471.99 L401.80,471.96 L402.05,472.02 L402.30,472.05 L402.55,472.02 L402.80,471.93 L403.05,471.93 L403.30,471.91 L403.55,471.91 L403.80,471.85 L404.05,471.92 L404.30,471.94 L404.55,471.82 L404.80,471.77 L405.05,471.84 L405.30,471.76 L405.55,471.83 L405.80,471.78 L406.05,471.78 L406.30,471.77 L406.55,471.68 L406.80,471.64 L407.05,471.61 L407.30,471.65 L407.55,471.67 L407.80,471.58 L408.05,471.65 L408.30,471.60 L408.55,471.54 L408.80,471.53 L409.05,471.61 L409.30,471.57 L409.55,471.56 L409.80,471.59 L410.05,471.61 L410.30,471.58 L410.55,471.50 L410.80,471.48 L411.05,471.52 L411.30,471.51 L411.55,471.47 L411.80,471.40 L412.05,471.37 L412.30,471.40 L412.55,471.39 L412.80,471.29 L413.05,471.34 L413.30,471.39 L413.55,471.40 L413.80,471.41 L414.05,471.41 L414.30,471.35 L414.55,471.35 L414.80,471.28 L415.05,471.19 L415.30,471.19 L415.55,471.17 L415.80,471.26 L416.05,471.26 L416.30,471.23 L416.55,471.22 L416.80,471.13 L417.05,471.15 L417.30,471.18 L417.55,471.14 L417.80,471.09 L418.05,471.08 L418.30,471.06 L418.55,471.11 L418.80,471.04 L419.05,470.99 L419.30,470.99 L419.55,471.05 L419.80,471.09 L420.05,471.08 L420.30,471.12 L420.55,471.04 L420.80,470.94 L421.05,470.96 L421.30,470.96 L421.55,470.91 L421.80,470.95 L422.05,470.92 L422.30,470.88 L422.55,470.87 L422.80,470.96 L423.05,470.84 L423.30,470.84 L423.55,470.82 L423.80,470.79 L424.05,470.80 L424.30,470.77 L424.55,470.86 L424.80,470.83 L425.05,470.84 L425.30,470.75 L425.55,470.75 L425.80,470.76 L426.05,470.80 L426.30,470.72 L426.55,470.70 L426.80,470.75 L427.05,470.76 L427.30,470.66 L427.55,470.65 L427.80,470.68 L428.05,470.62 L428.30,470.62 L428.55,470.62 L428.80,470.65 L429.05,470.59 L429.30,470.57 L429.55,470.49 L429.80,470.50 L430.05,470.43 L430.30,470.41 L430.55,470.37 L430.80,470.33 L431.05,470.26 L431.30,470.23 L431.55,470.26 L431.80,470.21 L432.05,470.14 L432.30,470.21 L432.55,470.15 L432.80,470.22 L433.05,470.18 L433.30,470.11 L433.55,470.15 L433.80,470.15 L434.05,470.05 L434.30,469.96 L434.55,469.98 L434.80,470.01 L435.05,469.98 L435.30,469.97 L435.55,469.90 L435.80,469.89 L436.05,469.81 L436.30,469.79 L436.55,469.76 L436.80,469.73 L437.05,469.71 L437.30,469.76 L437.55,469.67 L437.80,469.62 L438.05,469.59 L438.30,469.69 L438.55,469.65 L438.80,469.55 L439.05,469.62 L439.30,469.65 L439.55,469.65 L439.80,469.57 L440.05,469.59 L440.30,469.52 L440.55,469.46 L440.80,469.54 L441.05,469.57 L441.30,469.48 L441.55,469.53 L441.80,469.42 L442.05,469.41 L442.30,469.35 L442.55,469.34 L442.80,469.32 L443.05,469.40 L443.30,469.37 L443.55,469.33 L443.80,469.30 L444.05,469.30 L444.30,469.38 L444.55,469.37 L444.80,469.28 L445.05,469.31 L445.30,469.30 L445.55,469.27 L445.80,469.25 L446.05,469.25 L446.30,469.26 L446.55,469.21 L446.80,469.19 L447.05,469.13 L447.30,469.11 L447.55,469.04 L447.80,468.99 L448.05,468.95 L448.30,468.94 L448.55,468.83 L448.80,468.84 L449.05,468.74 L449.30,468.71 L449.55,468.62 L449.80,468.56 L450.05,468.42 L450.30,468.24 L450.55,468.06 L450.80,467.91 L451.05,467.75 L451.30,467.56 L451.55,467.20 L451.80,466.84 L452.05,466.46 L452.30,466.02 L452.55,465.49 L452.80,464.86 L453.05,464.15 L453.30,463.22 L453.55,462.18 L453.80,460.81 L454.05,459.14 L454.30,457.01 L454.55,454.36 L454.80,451.28 L455.05,447.74 L455.30,444.39 L455.55,441.98 L455.80,441.02 L456.05,441.92 L456.30,444.50 L456.55,447.80 L456.80,451.24 L457.05,454.32 L457.30,456.94 L457.55,459.08 L457.80,460.91 L458.05,462.41 L458.30,463.61 L458.55,464.53 L458.80,465.32 L459.05,465.87 L459.30,466.34 L459.55,466.86 L459.80,467.22 L460.05,467.54 L460.30,467.71 L460.55,467.93 L460.80,468.17 L461.05,468.40 L461.30,468.60 L461.55,468.76 L461.80,468.82 L462.05,468.90 L462.30,469.07 L462.55,469.21 L462.80,469.24 L463.05,469.23 L463.30,469.33 L463.55,469.39 L463.80,469.42 L464.05,469.43 L464.30,469.48 L464.55,469.56 L464.80,469.54 L465.05,469.61 L465.30,469.72 L465.55,469.76 L465.80,469.71 L466.05,469.72 L466.30,469.68 L466.55,469.77 L466.80,469.80 L467.05,469.75 L467.30,469.78 L467.55,469.81 L467.80,469.82 L468.05,469.79 L468.30,469.77 L468.55,469.76 L468.80,469.85 L469.05,469.79 L469.30,469.78 L469.55,469.76 L469.80,469.69 L470.05,469.69 L470.30,469.64 L470.55,469.62 L470.80,469.60 L471.05,469.57 L471.30,469.63 L471.55,469.53 L471.80,469.46 L472.05,469.45 L472.30,469.36 L472.55,469.31 L472.80,469.26 L473.05,469.09 L473.30,469.05 L473.55,468.88 L473.80,468.75 L474.05,468.70 L474.30,468.62 L474.55,468.44 L474.80,468.15 L475.05,467.93 L475.30,467.65 L475.55,467.43 L475.80,467.03 L476.05,466.60 L476.30,466.20 L476.55,465.70 L476.80,465.07 L477.05,464.31 L477.30,463.49 L477.55,462.38 L477.80,461.14 L478.05,459.50 L478.30,457.54 L478.55,455.11 L478.80,452.19 L479.05,448.57 L479.30,444.07 L479.55,438.87 L479.80,433.13 L480.05,427.40 L480.30,422.86 L480.55,420.70 L480.80,421.69 L481.05,425.41 L481.30,430.81 L481.55,436.64 L481.80,442.26 L482.05,447.08 L482.30,451.02 L482.55,454.35 L482.80,457.02 L483.05,459.05 L483.30,460.86 L483.55,462.25 L483.80,463.40 L484.05,464.36 L484.30,465.21 L484.55,465.86 L484.80,466.43 L485.05,466.95 L485.30,467.42 L485.55,467.81 L485.80,468.14 L486.05,468.55 L486.30,468.80 L486.55,469.05 L486.80,469.28 L487.05,469.54 L487.30,469.62 L487.55,469.75 L487.80,469.98 L488.05,470.16 L488.30,470.31 L488.55,470.37 L488.80,470.43 L489.05,470.47 L489.30,470.65 L489.55,470.75 L489.80,470.81 L490.05,470.91 L490.30,470.90 L490.55,470.98 L490.80,471.10 L491.05,471.07 L491.30,471.15 L491.55,471.15 L491.80,471.28 L492.05,471.37 L492.30,471.40 L492.55,471.41 L492.80,471.37 L493.05,471.44 L493.30,471.47 L493.55,471.51 L493.80,471.50 L494.05,471.65 L494.30,471.67 L494.55,471.71 L494.80,471.78 L495.05,471.85 L495.30,471.84 L495.55,471.85 L495.80,471.91 L496.05,471.88 L496.30,471.97 L496.55,471.88 L496.80,471.97 L497.05,471.99 L497.30,472.02 L497.55,472.11 L497.80,472.04 L498.05,472.05 L498.30,472.13 L498.55,472.17 L498.80,472.17 L499.05,472.21 L499.30,472.23 L499.55,472.28 L499.80,472.28 L500.05,472.25 L500.30,472.22 L500.55,472.19 L500.80,472.19 L501.05,472.18 L501.30,472.34 L501.55,472.29 L501.80,472.35 L502.05,472.31 L502.30,472.44 L502.55,472.44 L502.80,472.39 L503.05,472.48 L503.30,472.53 L503.55,472.59 L503.80,472.50 L504.05,472.50 L504.30,472.54 L504.55,472.51 L504.80,472.55 L505.05,472.59 L505.30,472.63 L505.55,472.67 L505.80,472.68 L506.05,472.62 L506.30,472.67 L506.55,472.65 L506.80,472.61 L507.05,472.57 L507.30,472.65 L507.55,472.65 L507.80,472.62 L508.05,472.67 L508.30,472.69 L508.55,472.69 L508.80,472.73 L509.05,472.76 L509.30,472.77 L509.55,472.86 L509.80,472.89 L510.05,472.82 L510.30,472.87 L510.55,472.82 L510.80,472.90 L511.05,472.80 L511.30,472.79 L511.55,472.89 L511.80,472.91 L512.05,472.92 L512.30,472.85 L512.55,472.81 L512.80,472.93 L513.05,472.84 L513.30,472.82 L513.55,472.86 L513.80,472.94 L514.05,472.96 L514.30,473.03 L514.55,473.03 L514.80,472.97 L515.05,473.03 L515.30,472.96 L515.55,472.89 L515.80,473.00 L516.05,473.04 L516.30,473.03 L516.55,473.00 L516.80,472.94 L517.05,472.92 L517.30,472.88 L517.55,472.87 L517.80,472.93 L518.05,473.02 L518.30,473.08 L518.55,473.04 L518.80,473.04 L519.05,473.02 L519.30,473.05 L519.55,473.06 L519.80,473.11 L520.05,473.11 L520.30,473.08 L520.55,473.06 L520.80,472.98 L521.05,472.98 L521.30,472.99 L521.55,472.94 L521.80,472.92 L522.05,472.95 L522.30,472.92 L522.55,472.98 L522.80,472.97 L523.05,473.06 L523.30,473.06 L523.55,473.04 L523.80,473.01 L524.05,472.99 L524.30,472.95 L524.55,473.05 L524.80,473.09 L525.05,473.07 L525.30,473.06 L525.55,472.97 L525.80,472.99 L526.05,472.94 L526.30,472.94 L526.55,472.99 L526.80,472.94 L527.05,472.93 L527.30,473.00 L527.55,472.99 L527.80,473.06 L528.05,472.97 L528.30,472.92 L528.55,473.03 L528.80,473.03 L529.05,473.04 L529.30,473.02 L529.55,472.95 L529.80,473.05 L530.05,473.02 L530.30,473.07 L530.55,472.97 L530.80,472.94 L531.05,472.97 L531.30,472.93 L531.55,473.01 L531.80,472.96 L532.05,472.90 L532.30,472.88 L532.55,472.89 L532.80,473.00 L533.05,473.05 L533.30,473.04 L533.55,472.99 L533.80,472.90 L534.05,472.99 L534.30,472.91 L534.55,472.89 L534.80,472.91 L535.05,472.99 L535.30,472.92 L535.55,472.87 L535.80,472.97 L536.05,472.88 L536.30,472.95 L536.55,472.89 L536.80,472.88 L537.05,472.86 L537.30,472.89 L537.55,472.98 L537.80,473.01 L538.05,472.97 L538.30,472.88 L538.55,472.85 L538.80,472.85 L539.05,472.93 L539.30,472.99 L539.55,472.87 L539.80,472.86 L540.05,472.96 L540.30,472.87 L540.55,472.82 L540.80,472.82 L541.05,472.91 L541.30,472.86 L541.55,472.91 L541.80,472.83 L542.05,472.88 L542.30,472.82 L542.55,472.86 L542.80,472.90 L543.05,472.94 L543.30,472.88 L543.55,472.94 L543.80,472.87 L544.05,472.93 L544.30,472.94 L544.55,472.96 L544.80,472.83 L545.05,472.78 L545.30,472.82 L545.55,472.87 L545.80,472.79 L546.05,472.83 L546.30,472.80 L546.55,472.70 L546.80,472.67 L547.05,472.63 L547.30,472.64 L547.55,472.76 L547.80,472.77 L548.05,472.80 L548.30,472.82 L548.55,472.74 L548.80,472.74 L549.05,472.73 L549.30,472.72 L549.55,472.62 L549.80,472.69 L550.05,472.60 L550.30,472.59 L550.55,472.62 L550.80,472.63 L551.05,472.64 L551.30,472.56 L551.55,472.50 L551.80,472.53 L552.05,472.42 L552.30,472.49 L552.55,472.42 L552.80,472.39 L553.05,472.34 L553.30,472.36 L553.55,472.27 L553.80,472.20 L554.05,472.14 L554.30,472.09 L554.55,472.12 L554.80,472.17 L555.05,472.01 L555.30,471.97 L555.55,471.90 L555.80,471.82 L556.05,471.74 L556.30,471.62 L556.55,471.56 L556.80,471.44 L557.05,471.29 L557.30,471.15 L557.55,471.12 L557.80,470.98 L558.05,470.85 L558.30,470.63 L558.55,470.37 L558.80,469.99 L559.05,469.59 L559.30,469.31 L559.55,468.85 L559.80,468.31 L560.05,467.56 L560.30,466.84 L560.55,465.88 L560.80,464.66 L561.05,463.27 L561.30,461.74 L561.55,459.82 L561.80,457.55 L562.05,455.17 L562.30,453.00 L562.55,451.15 L562.80,450.18 L563.05,450.24 L563.30,451.40 L563.55,453.38 L563.80,455.69 L564.05,457.97 L564.30,460.08 L564.55,461.98 L564.80,463.53 L565.05,464.82 L565.30,465.97 L565.55,466.84 L565.80,467.68 L566.05,468.36 L566.30,468.91 L566.55,469.40 L566.80,469.68 L567.05,469.99 L567.30,470.27 L567.55,470.45 L567.80,470.76 L568.05,470.86 L568.30,471.13 L568.55,471.27 L568.80,471.45 L569.05,471.44 L569.30,471.61 L569.55,471.75 L569.80,471.82 L570.05,471.86 L570.30,471.92 L570.55,471.95 L570.80,472.05 L571.05,472.08 L571.30,472.11 L571.55,472.12 L571.80,472.17 L572.05,472.21 L572.30,472.30 L572.55,472.34 L572.80,472.29 L573.05,472.35 L573.30,472.31 L573.55,472.34 L573.80,472.37 L574.05,472.42 L574.30,472.36 L574.55,472.34 L574.80,472.35 L575.05,472.43 L575.30,472.40 L575.55,472.46 L575.80,472.54 L576.05,472.52 L576.30,472.48 L576.55,472.52 L576.80,472.52 L577.05,472.52 L577.30,472.49 L577.55,472.56 L577.80,472.54 L578.05,472.64 L578.30,472.61 L578.55,472.63 L578.80,472.68 L579.05,472.72 L579.30,472.59 L579.55,472.67 L579.80,472.58 L580.05,472.67 L580.30,472.70 L580.55,472.62 L580.80,472.66 L581.05,472.66 L581.30,472.64 L581.55,472.66 L581.80,472.65 L582.05,472.67 L582.30,472.70 L582.55,472.60 L582.80,472.65 L583.05,472.69 L583.30,472.73 L583.55,472.71 L583.80,472.69 L584.05,472.63 L584.30,472.60 L584.55,472.70 L584.80,472.62 L585.05,472.71 L585.30,472.64 L585.55,472.64 L585.80,472.68 L586.05,472.61 L586.30,472.64 L586.55,472.71 L586.80,472.68 L587.05,472.63 L587.30,472.59 L587.55,472.71 L587.80,472.64 L588.05,472.69 L588.30,472.72 L588.55,472.67 L588.80,472.69 L589.05,472.73 L589.30,472.67 L589.55,472.64 L589.80,472.74 L590.05,472.67 L590.30,472.69 L590.55,472.69 L590.80,472.74 L591.05,472.78 L591.30,472.79 L591.55,472.77 L591.80,472.75 L592.05,472.67 L592.30,472.71 L592.55,472.71 L592.80,472.76 L593.05,472.73 L593.30,472.68 L593.55,472.70 L593.80,472.78 L594.05,472.77 L594.30,472.80 L594.55,472.71 L594.80,472.70 L595.05,472.71 L595.30,472.75 L595.55,472.71 L595.80,472.83 L596.05,472.79 L596.30,472.72 L596.55,472.73 L596.80,472.78 L597.05,472.83 L597.30,472.88 L597.55,472.80 L597.80,472.90 L598.05,472.94 L598.30,472.90 L598.55,472.91 L598.80,472.86 L599.05,472.81 L599.30,472.77 L599.55,472.90 L599.80,472.96 L600.05,472.92 L600.30,472.93 L600.55,472.91 L600.80,472.94 L601.05,472.86 L601.30,472.93 L601.55,472.87 L601.80,472.91 L602.05,472.94 L602.30,472.98 L602.55,472.97 L602.80,472.90 L603.05,472.96 L603.30,472.92 L603.55,472.93 L603.80,472.97 L604.05,473.02 L604.30,472.90 L604.55,472.90 L604.80,472.87 L605.05,472.94 L605.30,472.90 L605.55,472.95 L605.80,472.96 L606.05,472.90 L606.30,472.92 L606.55,472.91 L606.80,472.81 L607.05,472.79 L607.30,472.74 L607.55,472.83 L607.80,472.79 L608.05,472.75 L608.30,472.79 L608.55,472.85 L608.80,472.73 L609.05,472.75 L609.30,472.68 L609.55,472.72 L609.80,472.72 L610.05,472.71 L610.30,472.66 L610.55,472.55 L610.80,472.59 L611.05,472.47 L611.30,472.47 L611.55,472.50 L611.80,472.38 L612.05,472.32 L612.30,472.29 L612.55,472.23 L612.80,472.10 L613.05,472.00 L613.30,471.96 L613.55,471.85 L613.80,471.63 L614.05,471.50 L614.30,471.36 L614.55,471.11 L614.80,470.89 L615.05,470.49 L615.30,470.08 L615.55,469.72 L615.80,469.15 L616.05,468.52 L616.30,467.86 L616.55,467.28 L616.80,466.67 L617.05,466.04 L617.30,465.72 L617.55,465.57 L617.80,465.81 L618.05,466.17 L618.30,466.82 L618.55,467.55 L618.80,468.20 L619.05,468.83 L619.30,469.30 L619.55,469.79 L619.80,470.25 L620.05,470.56 L620.30,470.89 L620.55,471.13 L620.80,471.37 L621.05,471.55 L621.30,471.63 L621.55,471.81 L621.80,471.94 L622.05,471.99 L622.30,472.09 L622.55,472.12 L622.80,472.19 L623.05,472.21 L623.30,472.26 L623.55,472.27 L623.80,472.39 L624.05,472.42 L624.30,472.44 L624.55,472.45 L624.80,472.45 L625.05,472.41 L625.30,472.47 L625.55,472.47 L625.80,472.46 L626.05,472.48 L626.30,472.43 L626.55,472.49 L626.80,472.54 L627.05,472.49 L627.30,472.43 L627.55,472.53 L627.80,472.51 L628.05,472.44 L628.30,472.36 L628.55,472.39 L628.80,472.33 L629.05,472.39 L629.30,472.38 L629.55,472.28 L629.80,472.22 L630.05,472.12 L630.30,472.05 L630.55,472.03 L630.80,472.03 L631.05,471.91 L631.30,471.87 L631.55,471.67 L631.80,471.46 L632.05,471.38 L632.30,471.16 L632.55,470.89 L632.80,470.64 L633.05,470.35 L633.30,469.93 L633.55,469.46 L633.80,469.03 L634.05,468.53 L634.30,467.97 L634.55,467.36 L634.80,466.97 L635.05,466.62 L635.30,466.51 L635.55,466.69 L635.80,466.92 L636.05,467.41 L636.30,467.96 L636.55,468.56 L636.80,469.05 L637.05,469.52 L637.30,469.94 L637.55,470.36 L637.80,470.66 L638.05,471.03 L638.30,471.30 L638.55,471.50 L638.80,471.61 L639.05,471.80 L639.30,471.91 L639.55,472.04 L639.80,472.18 L640.05,472.15 L640.30,472.27 L640.55,472.38 L640.80,472.38 L641.05,472.40 L641.30,472.37 L641.55,472.52 L641.80,472.50 L642.05,472.47 L642.30,472.48 L642.55,472.57 L642.80,472.65 L643.05,472.74 L643.30,472.75 L643.55,472.68 L643.80,472.78 L644.05,472.83 L644.30,472.85 L644.55,472.89 L644.80,472.90 L645.05,472.89 L645.30,472.90 L645.55,472.79 L645.80,472.89 L646.05,472.79 L646.30,472.81 L646.55,472.85 L646.80,472.86 L647.05,472.84 L647.30,472.86 L647.55,472.84 L647.80,472.89 L648.05,472.81 L648.30,472.83 L648.55,472.88 L648.80,472.88 L649.05,472.81 L649.30,472.85 L649.55,472.94 L649.80,472.92 L650.05,472.94 L650.30,472.90 L650.55,472.97 L650.80,472.94 L651.05,472.96 L651.30,472.95 L651.55,472.97 L651.80,472.91 L652.05,472.97 L652.30,473.00 L652.55,473.01 L652.80,473.01 L653.05,472.92 L653.30,472.87 L653.55,472.93 L653.80,472.95 L654.05,472.92 L654.30,472.90 L654.55,472.80 L654.80,472.84 L655.05,472.77 L655.30,472.82 L655.55,472.79 L655.80,472.83 L656.05,472.78 L656.30,472.78 L656.55,472.85 L656.80,472.85 L657.05,472.78 L657.30,472.88 L657.55,472.77 L657.80,472.78 L658.05,472.83 L658.30,472.83 L658.55,472.85 L658.80,472.89 L659.05,472.78 L659.30,472.79" fill="none" stroke="#e3173a" stroke-width="1.45" stroke-linejoin="round"/><line x1="456.30" y1="276.5" x2="456.30" y2="485.0" stroke="#838383" stroke-width="1.3" stroke-dasharray="5.3 4.6" stroke-dashoffset="-0.7"/><line x1="481.08" y1="276.5" x2="481.08" y2="485.0" stroke="#838383" stroke-width="1.3" stroke-dasharray="5.3 4.6" stroke-dashoffset="-0.7"/><line x1="563.39" y1="276.5" x2="563.39" y2="485.0" stroke="#838383" stroke-width="1.3" stroke-dasharray="5.3 4.6" stroke-dashoffset="-0.7"/><line x1="617.73" y1="276.5" x2="617.73" y2="485.0" stroke="#838383" stroke-width="1.3" stroke-dasharray="5.3 4.6" stroke-dashoffset="-0.7"/><line x1="635.61" y1="276.5" x2="635.61" y2="485.0" stroke="#838383" stroke-width="1.3" stroke-dasharray="5.3 4.6" stroke-dashoffset="-0.7"/><rect x="376.3" y="276.5" width="283.2" height="209.0" fill="none" stroke="#3a3a3a" stroke-width="1"/><line x1="411.70" y1="485.5" x2="411.70" y2="481.5" stroke="#3a3a3a" stroke-width="1"/><line x1="411.70" y1="276.5" x2="411.70" y2="280.5" stroke="#3a3a3a" stroke-width="1"/><line x1="447.10" y1="485.5" x2="447.10" y2="481.5" stroke="#3a3a3a" stroke-width="1"/><line x1="447.10" y1="276.5" x2="447.10" y2="280.5" stroke="#3a3a3a" stroke-width="1"/><line x1="482.50" y1="485.5" x2="482.50" y2="481.5" stroke="#3a3a3a" stroke-width="1"/><line x1="482.50" y1="276.5" x2="482.50" y2="280.5" stroke="#3a3a3a" stroke-width="1"/><line x1="517.90" y1="485.5" x2="517.90" y2="481.5" stroke="#3a3a3a" stroke-width="1"/><line x1="517.90" y1="276.5" x2="517.90" y2="280.5" stroke="#3a3a3a" stroke-width="1"/><line x1="553.30" y1="485.5" x2="553.30" y2="481.5" stroke="#3a3a3a" stroke-width="1"/><line x1="553.30" y1="276.5" x2="553.30" y2="280.5" stroke="#3a3a3a" stroke-width="1"/><line x1="588.70" y1="485.5" x2="588.70" y2="481.5" stroke="#3a3a3a" stroke-width="1"/><line x1="588.70" y1="276.5" x2="588.70" y2="280.5" stroke="#3a3a3a" stroke-width="1"/><line x1="624.10" y1="485.5" x2="624.10" y2="481.5" stroke="#3a3a3a" stroke-width="1"/><line x1="624.10" y1="276.5" x2="624.10" y2="280.5" stroke="#3a3a3a" stroke-width="1"/><text x="376.30" y="501.5" font-size="14.5" text-anchor="middle">20</text><text x="447.10" y="501.5" font-size="14.5" text-anchor="middle">40</text><text x="517.90" y="501.5" font-size="14.5" text-anchor="middle">60</text><text x="588.70" y="501.5" font-size="14.5" text-anchor="middle">80</text><text x="659.50" y="501.5" font-size="14.5" text-anchor="middle">100</text><text x="517.90" y="519.7" font-size="14" text-anchor="middle">2θ (°)</text><text x="170.4" y="14" font-size="17.2" text-anchor="middle">DEG</text><text x="525.6" y="14.3" font-size="17.3" text-anchor="middle">TTEG</text><text x="30" y="43" font-size="24">a)</text><text x="382" y="42.9" font-size="24">b)</text><text x="32.2" y="301" font-size="24">c)</text><text x="384" y="300.6" font-size="24">d)</text><text transform="translate(20,114.4) rotate(-90)" font-size="24" text-anchor="middle">h = 46</text><text transform="translate(19,376.5) rotate(-90)" font-size="24" text-anchor="middle">h = 7</text><text x="312.4" y="80.2" font-size="14.6">235° C</text><text x="312.6" y="161.5" font-size="14.6">205° C</text><text x="314.4" y="220.8" font-size="14.6">180° C</text><text x="662.2" y="99" font-size="14.6">235° C</text><text x="662.5" y="163.1" font-size="14.6">205° C</text><text x="664" y="224.2" font-size="14.6">180° C</text><text x="312.4" y="358" font-size="14.6">235° C</text><text x="312.6" y="433.8" font-size="14.6">205° C</text><text x="314.4" y="476" font-size="14.6">180° C</text><text x="662.2" y="358" font-size="14.6">235° C</text><text x="662.5" y="421" font-size="14.6">205° C</text><text x="664" y="478" font-size="14.6">180° C</text><text x="139.7" y="197.8" font-size="14.6">11 ± 1 nm</text><text x="490.5" y="80.6" font-size="14.6">20 ± 1 nm</text><text x="489.6" y="144.7" font-size="14.6">18 ± 1 nm</text><text x="489.6" y="207.6" font-size="14.6">17 ± 1 nm</text><text x="492.6" y="343.8" font-size="14.6">15 ± 1 nm</text><text x="491.9" y="407.5" font-size="14.6">12 ± 1 nm</text><text x="493.5" y="462" font-size="14.6">9 ± 1 nm</text><text transform="translate(451.6,304.2) rotate(-90)" font-size="12.8" text-anchor="middle">(111)</text><text transform="translate(496.9,298) rotate(-90)" font-size="12.8" text-anchor="middle">(200)</text><text transform="translate(577.1,308.2) rotate(-90)" font-size="12.8" text-anchor="middle">(220)</text><text transform="translate(613.6,325.8) rotate(-90)" font-size="12.8" text-anchor="middle">(311)</text><text transform="translate(649.3,329) rotate(-90)" font-size="12.8" text-anchor="middle">(222)</text></svg>
</body></html>
